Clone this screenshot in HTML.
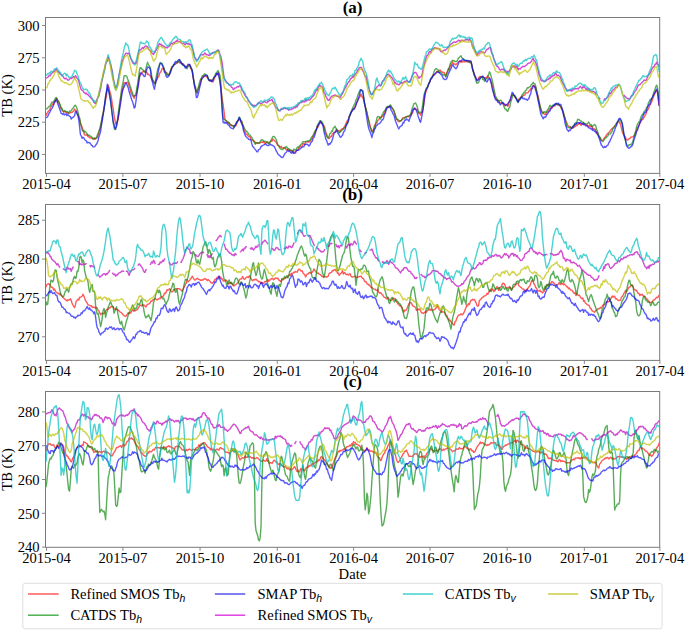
<!DOCTYPE html><html><head><meta charset="utf-8"><style>html,body{margin:0;padding:0;background:#fff;overflow:hidden;width:685px;height:631px;}svg{display:block;}text{font-family:"Liberation Serif",serif;fill:#000;}</style></head><body>
<svg width="685" height="631" viewBox="0 0 685 631">
<rect width="685" height="631" fill="#fff"/>
<defs><clipPath id="ca"><rect x="45.5" y="17.5" width="614.2" height="155.9"/></clipPath><clipPath id="cb"><rect x="45.5" y="204.5" width="614.2" height="155.9"/></clipPath><clipPath id="cc"><rect x="45.5" y="391.5" width="614.2" height="155.8"/></clipPath></defs>
<path d="M46.0,115.9 L46.8,113.5 L47.7,112.3 L48.5,110.9 L49.4,110.5 L50.2,108.5 L51.0,106.9 L51.9,105.3 L52.7,103.9 L53.6,104.4 L54.4,101.5 L55.2,101.4 L56.1,99.0 L56.9,98.4 L57.8,102.2 L58.6,101.0 L59.4,105.2 L60.3,106.5 L61.1,108.7 L62.0,110.1 L62.8,110.8 L63.6,112.0 L64.5,111.8 L65.3,111.5 L66.2,112.6 L67.0,112.4 L67.8,113.2 L68.7,113.0 L69.5,113.2 L70.4,112.7 L71.2,112.4 L72.0,112.6 L72.9,111.5 L73.7,111.2 L74.6,109.1 L75.4,110.1 L76.2,110.8 L77.1,112.7 L77.9,114.6 L78.8,117.7 L79.6,119.5 L80.4,123.0 L81.3,125.7 L82.1,126.8 L83.0,130.5 L83.8,132.6 L84.6,134.9 L85.5,135.0 L86.3,135.0 L87.2,134.7 L88.0,136.8 L88.8,136.3 L89.7,137.8 L90.5,137.8 L91.4,138.1 L92.2,138.3 L93.0,139.1 L93.9,137.9 L94.7,139.4 L95.6,138.5 L96.4,138.3 L97.2,137.7 L98.1,135.5 L98.9,132.1 L99.8,129.3 L100.6,126.9 L101.4,123.0 L102.3,116.6 L103.1,113.3 L104.0,108.4 L104.8,104.4 L105.6,100.1 L106.5,95.7 L107.3,89.0 L108.2,85.1 L109.0,87.6 L109.8,91.5 L110.7,94.3 L111.5,98.6 L112.4,104.7 L113.2,108.7 L114.0,115.1 L114.9,119.9 L115.7,124.2 L116.6,123.2 L117.4,122.0 L118.2,118.9 L119.1,111.6 L119.9,104.8 L120.8,97.8 L121.6,93.0 L122.4,90.2 L123.3,86.4 L124.1,82.8 L125.0,82.6 L125.8,82.7 L126.6,82.8 L127.5,82.1 L128.3,83.2 L129.2,86.2 L130.0,88.2 L130.8,92.1 L131.7,93.9 L132.5,95.6 L133.4,96.5 L134.2,98.4 L135.0,95.5 L135.9,95.4 L136.7,92.6 L137.6,87.7 L138.4,82.2 L139.2,76.8 L140.1,75.6 L140.9,74.1 L141.8,72.1 L142.6,72.2 L143.4,71.3 L144.3,71.3 L145.1,71.0 L146.0,72.5 L146.8,72.0 L147.6,74.5 L148.5,74.0 L149.3,75.2 L150.2,75.9 L151.0,77.5 L151.8,78.6 L152.7,81.1 L153.5,81.6 L154.4,82.9 L155.2,83.7 L156.0,80.4 L156.9,79.7 L157.7,77.5 L158.6,77.0 L159.4,74.0 L160.2,72.4 L161.1,71.5 L161.9,68.9 L162.8,68.3 L163.6,68.0 L164.4,70.1 L165.3,72.3 L166.1,72.4 L167.0,73.1 L167.8,74.7 L168.6,75.2 L169.5,73.3 L170.3,71.0 L171.2,68.9 L172.0,66.9 L172.8,66.3 L173.7,64.8 L174.5,64.4 L175.4,64.2 L176.2,63.2 L177.0,63.2 L177.9,61.7 L178.7,61.6 L179.6,62.7 L180.4,62.9 L181.2,62.2 L182.1,64.3 L182.9,63.4 L183.8,64.9 L184.6,65.8 L185.4,66.4 L186.3,66.7 L187.1,66.4 L188.0,66.1 L188.8,64.8 L189.6,64.8 L190.5,68.2 L191.3,69.2 L192.2,71.5 L193.0,76.3 L193.8,81.2 L194.7,86.3 L195.5,89.0 L196.4,91.1 L197.2,93.2 L198.0,88.6 L198.9,87.0 L199.7,85.3 L200.6,82.0 L201.4,78.1 L202.2,78.0 L203.1,76.6 L203.9,76.7 L204.8,76.0 L205.6,75.6 L206.4,76.8 L207.3,76.5 L208.1,78.4 L209.0,80.5 L209.8,79.7 L210.6,80.2 L211.5,79.9 L212.3,81.9 L213.2,81.9 L214.0,79.5 L214.8,77.3 L215.7,75.1 L216.5,74.9 L217.4,74.4 L218.2,72.5 L219.0,74.9 L219.9,80.9 L220.7,86.8 L221.6,94.1 L222.4,100.0 L223.2,105.3 L224.1,111.9 L224.9,119.1 L225.8,120.7 L226.6,121.8 L227.4,122.1 L228.3,123.5 L229.1,122.5 L230.0,125.2 L230.8,124.6 L231.6,125.6 L232.5,125.5 L233.3,125.7 L234.2,125.8 L235.0,125.6 L235.8,126.1 L236.7,123.7 L237.5,120.9 L238.4,120.7 L239.2,118.6 L240.0,119.6 L240.9,121.3 L241.7,121.0 L242.6,125.0 L243.4,126.5 L244.2,130.6 L245.1,131.8 L245.9,133.6 L246.8,134.4 L247.6,135.1 L248.4,136.6 L249.3,136.5 L250.1,136.8 L251.0,139.3 L251.8,140.1 L252.6,140.3 L253.5,141.0 L254.3,141.2 L255.2,142.5 L256.0,143.5 L256.8,142.9 L257.7,142.7 L258.5,143.1 L259.4,142.8 L260.2,142.9 L261.0,142.3 L261.9,141.8 L262.7,142.5 L263.6,141.3 L264.4,143.1 L265.2,143.7 L266.1,142.5 L266.9,142.0 L267.8,142.9 L268.6,143.2 L269.4,142.3 L270.3,141.9 L271.1,141.0 L272.0,141.3 L272.8,139.1 L273.6,139.8 L274.5,140.5 L275.3,141.7 L276.2,142.1 L277.0,144.1 L277.8,145.1 L278.7,145.6 L279.5,147.1 L280.4,147.3 L281.2,146.3 L282.0,147.9 L282.9,148.0 L283.7,147.8 L284.6,148.2 L285.4,148.5 L286.2,149.8 L287.1,149.5 L287.9,150.1 L288.8,149.7 L289.6,150.3 L290.4,150.8 L291.3,150.6 L292.1,150.5 L293.0,151.1 L293.8,152.7 L294.6,152.5 L295.5,151.2 L296.3,150.6 L297.2,150.4 L298.0,149.6 L298.8,148.4 L299.7,147.0 L300.5,146.1 L301.4,146.9 L302.2,146.0 L303.0,143.9 L303.9,143.4 L304.7,144.4 L305.6,142.0 L306.4,142.1 L307.2,141.9 L308.1,141.5 L308.9,142.3 L309.8,141.5 L310.6,140.4 L311.4,139.6 L312.3,138.2 L313.1,136.3 L314.0,134.9 L314.8,133.3 L315.6,131.4 L316.5,129.0 L317.3,126.4 L318.2,126.8 L319.0,124.8 L319.8,123.2 L320.7,121.5 L321.5,123.1 L322.4,123.6 L323.2,125.1 L324.0,126.0 L324.9,127.9 L325.7,131.7 L326.6,133.9 L327.4,136.2 L328.2,137.6 L329.1,138.8 L329.9,137.5 L330.8,136.3 L331.6,136.5 L332.4,134.1 L333.3,133.1 L334.1,132.1 L335.0,132.1 L335.8,130.5 L336.6,129.1 L337.5,130.2 L338.3,130.8 L339.2,130.7 L340.0,131.7 L340.8,130.2 L341.7,129.0 L342.5,128.8 L343.4,128.3 L344.2,127.0 L345.0,125.7 L345.9,124.1 L346.7,121.5 L347.6,120.4 L348.4,119.0 L349.2,116.5 L350.1,114.8 L350.9,113.3 L351.8,110.6 L352.6,109.1 L353.4,109.2 L354.3,107.7 L355.1,106.8 L356.0,103.9 L356.8,102.9 L357.6,100.5 L358.5,98.8 L359.3,97.6 L360.2,96.3 L361.0,94.0 L361.8,96.5 L362.7,97.5 L363.5,99.5 L364.4,103.4 L365.2,106.7 L366.0,109.2 L366.9,112.7 L367.7,116.4 L368.6,119.7 L369.4,122.4 L370.2,126.1 L371.1,129.0 L371.9,131.3 L372.8,130.5 L373.6,129.0 L374.4,125.7 L375.3,124.4 L376.1,123.1 L377.0,122.5 L377.8,120.5 L378.6,119.6 L379.5,118.3 L380.3,117.1 L381.2,117.3 L382.0,116.6 L382.8,116.1 L383.7,114.4 L384.5,112.8 L385.4,110.5 L386.2,108.9 L387.0,107.6 L387.9,107.6 L388.7,107.0 L389.6,106.7 L390.4,105.8 L391.2,106.5 L392.1,108.4 L392.9,109.2 L393.8,111.0 L394.6,112.8 L395.4,116.3 L396.3,119.0 L397.1,119.6 L398.0,121.0 L398.8,121.8 L399.6,121.5 L400.5,120.7 L401.3,120.8 L402.2,119.0 L403.0,117.6 L403.8,117.6 L404.7,117.4 L405.5,116.9 L406.4,116.9 L407.2,116.6 L408.0,116.5 L408.9,116.8 L409.7,115.7 L410.6,115.3 L411.4,113.9 L412.2,113.5 L413.1,111.5 L413.9,108.3 L414.8,109.1 L415.6,109.2 L416.4,109.4 L417.3,109.8 L418.1,111.9 L419.0,113.3 L419.8,113.4 L420.6,115.2 L421.5,112.7 L422.3,111.9 L423.2,107.9 L424.0,102.3 L424.8,97.4 L425.7,92.2 L426.5,90.4 L427.4,87.6 L428.2,85.2 L429.0,83.6 L429.9,81.6 L430.7,79.3 L431.6,77.9 L432.4,76.2 L433.2,74.9 L434.1,75.0 L434.9,74.4 L435.8,73.6 L436.6,71.5 L437.4,71.7 L438.3,71.5 L439.1,71.2 L440.0,69.9 L440.8,71.3 L441.6,71.5 L442.5,72.1 L443.3,72.6 L444.2,72.5 L445.0,74.6 L445.8,75.9 L446.7,73.0 L447.5,71.2 L448.4,68.5 L449.2,69.3 L450.0,66.9 L450.9,65.1 L451.7,63.8 L452.6,61.8 L453.4,64.5 L454.2,63.9 L455.1,64.2 L455.9,64.9 L456.8,63.7 L457.6,62.7 L458.4,61.6 L459.3,61.3 L460.1,60.7 L461.0,62.4 L461.8,61.2 L462.6,62.0 L463.5,61.1 L464.3,61.9 L465.2,61.1 L466.0,61.7 L466.8,60.9 L467.7,61.9 L468.5,60.9 L469.4,62.8 L470.2,61.0 L471.0,61.5 L471.9,65.2 L472.7,70.3 L473.6,72.0 L474.4,74.0 L475.2,76.6 L476.1,78.8 L476.9,79.6 L477.8,79.8 L478.6,78.4 L479.4,76.6 L480.3,76.8 L481.1,76.5 L482.0,76.9 L482.8,77.2 L483.6,77.2 L484.5,78.2 L485.3,77.8 L486.2,77.8 L487.0,76.7 L487.8,75.9 L488.7,77.6 L489.5,78.1 L490.4,81.2 L491.2,82.7 L492.0,84.7 L492.9,89.1 L493.7,92.5 L494.6,96.8 L495.4,97.5 L496.2,98.8 L497.1,100.1 L497.9,100.8 L498.8,100.6 L499.6,102.5 L500.4,102.7 L501.3,102.7 L502.1,103.5 L503.0,103.8 L503.8,103.8 L504.6,105.3 L505.5,105.8 L506.3,105.1 L507.2,105.1 L508.0,106.4 L508.8,103.1 L509.7,100.8 L510.5,100.1 L511.4,96.5 L512.2,95.1 L513.0,94.5 L513.9,95.2 L514.7,97.1 L515.6,97.5 L516.4,99.1 L517.2,99.8 L518.1,101.5 L518.9,99.1 L519.8,98.3 L520.6,98.2 L521.4,96.3 L522.3,96.7 L523.1,95.6 L524.0,95.3 L524.8,94.9 L525.6,92.9 L526.5,92.9 L527.3,93.0 L528.2,92.4 L529.0,90.9 L529.8,90.6 L530.7,88.6 L531.5,88.5 L532.4,86.3 L533.2,85.8 L534.0,85.5 L534.9,87.3 L535.7,87.3 L536.6,90.6 L537.4,94.3 L538.2,96.5 L539.1,100.8 L539.9,105.9 L540.8,109.0 L541.6,111.0 L542.4,112.7 L543.3,112.2 L544.1,114.1 L545.0,114.5 L545.8,114.2 L546.6,112.4 L547.5,112.1 L548.3,111.0 L549.2,110.2 L550.0,108.6 L550.8,108.0 L551.7,108.6 L552.5,106.9 L553.4,106.3 L554.2,105.5 L555.0,106.0 L555.9,104.4 L556.7,104.1 L557.6,104.9 L558.4,104.9 L559.2,105.3 L560.1,105.9 L560.9,107.7 L561.8,109.6 L562.6,110.5 L563.4,112.7 L564.3,115.7 L565.1,118.6 L566.0,121.9 L566.8,122.7 L567.6,125.3 L568.5,126.1 L569.3,126.6 L570.2,126.7 L571.0,128.0 L571.8,128.3 L572.7,127.9 L573.5,127.8 L574.4,126.1 L575.2,126.6 L576.0,124.9 L576.9,125.8 L577.7,124.2 L578.6,124.4 L579.4,122.8 L580.2,123.6 L581.1,125.5 L581.9,123.8 L582.8,124.1 L583.6,124.6 L584.4,123.9 L585.3,124.1 L586.1,124.6 L587.0,125.4 L587.8,125.3 L588.6,126.4 L589.5,125.7 L590.3,126.7 L591.2,126.0 L592.0,126.6 L592.8,128.7 L593.7,128.4 L594.5,129.4 L595.4,129.1 L596.2,133.2 L597.0,132.1 L597.9,134.1 L598.7,135.7 L599.6,137.2 L600.4,139.1 L601.2,140.1 L602.1,140.5 L602.9,140.1 L603.8,138.9 L604.6,137.5 L605.4,136.9 L606.3,135.4 L607.1,134.1 L608.0,133.4 L608.8,132.4 L609.6,132.0 L610.5,130.1 L611.3,129.6 L612.2,128.1 L613.0,127.9 L613.8,127.1 L614.7,126.3 L615.5,124.7 L616.4,123.2 L617.2,122.5 L618.0,122.0 L618.9,120.8 L619.7,123.0 L620.6,124.4 L621.4,128.0 L622.2,131.4 L623.1,133.7 L623.9,135.1 L624.8,136.5 L625.6,137.5 L626.4,139.5 L627.3,140.1 L628.1,139.6 L629.0,138.7 L629.8,138.6 L630.6,137.3 L631.5,137.2 L632.3,136.9 L633.2,136.6 L634.0,135.9 L634.8,134.9 L635.7,132.4 L636.5,130.6 L637.4,128.0 L638.2,126.8 L639.0,125.4 L639.9,122.7 L640.7,122.0 L641.6,120.1 L642.4,119.7 L643.2,118.9 L644.1,117.2 L644.9,115.5 L645.8,114.2 L646.6,111.9 L647.4,110.2 L648.3,109.1 L649.1,107.2 L650.0,104.7 L650.8,103.4 L651.6,102.0 L652.5,99.4 L653.3,97.2 L654.2,95.0 L655.0,92.9 L655.8,90.7 L656.7,90.8 L657.5,92.8 L658.4,101.2 L659.2,106.1" fill="none" stroke="rgba(255,0,0,0.65)" stroke-width="1.4" stroke-linejoin="round" clip-path="url(#ca)"/>
<path d="M46.0,109.0 L46.8,108.9 L47.7,108.0 L48.5,106.9 L49.4,106.3 L50.2,105.8 L51.0,103.8 L51.9,102.2 L52.7,102.4 L53.6,101.5 L54.4,100.4 L55.2,98.5 L56.1,97.4 L56.9,98.6 L57.8,100.8 L58.6,101.5 L59.4,103.2 L60.3,104.6 L61.1,108.0 L62.0,108.2 L62.8,110.9 L63.6,111.2 L64.5,110.4 L65.3,111.0 L66.2,111.9 L67.0,111.4 L67.8,112.3 L68.7,113.0 L69.5,111.0 L70.4,111.6 L71.2,110.6 L72.0,109.3 L72.9,108.6 L73.7,107.1 L74.6,105.6 L75.4,105.2 L76.2,106.6 L77.1,108.7 L77.9,111.7 L78.8,115.5 L79.6,117.9 L80.4,122.2 L81.3,126.1 L82.1,129.9 L83.0,131.0 L83.8,130.3 L84.6,132.1 L85.5,131.5 L86.3,132.9 L87.2,133.8 L88.0,135.3 L88.8,135.0 L89.7,135.5 L90.5,136.4 L91.4,136.4 L92.2,138.0 L93.0,139.1 L93.9,138.8 L94.7,138.1 L95.6,138.6 L96.4,137.3 L97.2,135.4 L98.1,133.7 L98.9,131.3 L99.8,129.1 L100.6,124.9 L101.4,121.4 L102.3,116.8 L103.1,113.6 L104.0,108.3 L104.8,102.9 L105.6,96.7 L106.5,91.5 L107.3,89.2 L108.2,89.9 L109.0,91.2 L109.8,95.5 L110.7,102.6 L111.5,108.7 L112.4,115.2 L113.2,122.1 L114.0,127.6 L114.9,129.6 L115.7,127.3 L116.6,125.7 L117.4,121.3 L118.2,113.4 L119.1,106.7 L119.9,101.1 L120.8,95.7 L121.6,88.8 L122.4,85.5 L123.3,81.1 L124.1,75.9 L125.0,75.6 L125.8,75.8 L126.6,76.1 L127.5,78.4 L128.3,80.9 L129.2,82.7 L130.0,85.7 L130.8,87.6 L131.7,91.1 L132.5,92.9 L133.4,96.1 L134.2,95.8 L135.0,95.8 L135.9,94.1 L136.7,88.5 L137.6,83.9 L138.4,78.7 L139.2,72.0 L140.1,67.7 L140.9,67.7 L141.8,69.2 L142.6,69.5 L143.4,70.5 L144.3,72.0 L145.1,72.2 L146.0,68.5 L146.8,64.9 L147.6,62.1 L148.5,64.9 L149.3,65.8 L150.2,67.8 L151.0,71.2 L151.8,76.8 L152.7,79.3 L153.5,81.2 L154.4,84.0 L155.2,82.0 L156.0,77.6 L156.9,73.3 L157.7,69.1 L158.6,67.0 L159.4,64.7 L160.2,62.4 L161.1,63.3 L161.9,63.1 L162.8,65.3 L163.6,66.7 L164.4,69.7 L165.3,71.8 L166.1,72.5 L167.0,75.2 L167.8,75.3 L168.6,74.5 L169.5,73.7 L170.3,71.7 L171.2,68.8 L172.0,66.7 L172.8,66.4 L173.7,64.4 L174.5,64.6 L175.4,63.4 L176.2,62.5 L177.0,62.8 L177.9,61.8 L178.7,61.4 L179.6,59.4 L180.4,61.4 L181.2,61.8 L182.1,64.2 L182.9,65.4 L183.8,65.0 L184.6,66.5 L185.4,66.3 L186.3,67.9 L187.1,68.8 L188.0,66.6 L188.8,66.0 L189.6,65.1 L190.5,66.6 L191.3,68.3 L192.2,70.4 L193.0,74.8 L193.8,80.6 L194.7,84.9 L195.5,86.9 L196.4,91.2 L197.2,92.6 L198.0,89.5 L198.9,84.8 L199.7,82.0 L200.6,79.0 L201.4,79.4 L202.2,75.7 L203.1,76.2 L203.9,74.6 L204.8,73.7 L205.6,75.1 L206.4,75.2 L207.3,75.3 L208.1,78.1 L209.0,80.0 L209.8,80.5 L210.6,80.3 L211.5,81.5 L212.3,79.7 L213.2,78.9 L214.0,76.9 L214.8,76.4 L215.7,73.3 L216.5,73.5 L217.4,71.0 L218.2,70.8 L219.0,72.7 L219.9,74.9 L220.7,80.3 L221.6,96.0 L222.4,109.5 L223.2,118.9 L224.1,119.2 L224.9,119.8 L225.8,120.3 L226.6,120.7 L227.4,122.4 L228.3,122.0 L229.1,123.4 L230.0,124.2 L230.8,124.6 L231.6,125.7 L232.5,125.7 L233.3,125.7 L234.2,127.5 L235.0,125.6 L235.8,123.4 L236.7,121.8 L237.5,120.9 L238.4,119.5 L239.2,117.1 L240.0,117.9 L240.9,120.8 L241.7,121.9 L242.6,123.9 L243.4,125.9 L244.2,128.3 L245.1,129.4 L245.9,130.8 L246.8,131.4 L247.6,132.2 L248.4,133.9 L249.3,134.8 L250.1,135.1 L251.0,136.4 L251.8,137.4 L252.6,139.2 L253.5,140.7 L254.3,142.4 L255.2,144.3 L256.0,142.6 L256.8,142.6 L257.7,143.5 L258.5,142.9 L259.4,143.1 L260.2,141.6 L261.0,140.3 L261.9,139.7 L262.7,140.2 L263.6,140.6 L264.4,141.6 L265.2,141.3 L266.1,141.7 L266.9,142.4 L267.8,142.0 L268.6,144.0 L269.4,143.2 L270.3,141.7 L271.1,140.2 L272.0,138.4 L272.8,136.6 L273.6,136.3 L274.5,136.6 L275.3,138.0 L276.2,139.5 L277.0,141.9 L277.8,144.9 L278.7,145.6 L279.5,146.9 L280.4,149.1 L281.2,149.1 L282.0,149.7 L282.9,149.3 L283.7,148.0 L284.6,147.4 L285.4,148.1 L286.2,146.4 L287.1,147.2 L287.9,149.4 L288.8,148.4 L289.6,150.2 L290.4,149.4 L291.3,150.3 L292.1,150.9 L293.0,152.4 L293.8,149.0 L294.6,149.8 L295.5,149.7 L296.3,149.4 L297.2,147.3 L298.0,147.5 L298.8,146.5 L299.7,145.9 L300.5,144.9 L301.4,144.1 L302.2,143.2 L303.0,141.7 L303.9,141.6 L304.7,141.6 L305.6,141.6 L306.4,141.2 L307.2,141.4 L308.1,140.9 L308.9,140.7 L309.8,140.4 L310.6,139.2 L311.4,137.2 L312.3,136.7 L313.1,135.1 L314.0,133.1 L314.8,131.2 L315.6,130.1 L316.5,129.0 L317.3,125.4 L318.2,124.0 L319.0,122.6 L319.8,120.7 L320.7,120.6 L321.5,121.5 L322.4,122.3 L323.2,124.9 L324.0,127.3 L324.9,132.0 L325.7,133.6 L326.6,136.1 L327.4,137.8 L328.2,138.0 L329.1,136.3 L329.9,133.5 L330.8,133.4 L331.6,131.0 L332.4,131.4 L333.3,127.9 L334.1,127.7 L335.0,126.2 L335.8,127.9 L336.6,129.4 L337.5,130.9 L338.3,131.6 L339.2,133.0 L340.0,132.2 L340.8,131.6 L341.7,130.4 L342.5,129.9 L343.4,129.2 L344.2,127.7 L345.0,127.7 L345.9,125.3 L346.7,123.6 L347.6,123.3 L348.4,120.3 L349.2,116.9 L350.1,115.7 L350.9,112.0 L351.8,111.0 L352.6,108.0 L353.4,106.7 L354.3,104.6 L355.1,103.0 L356.0,99.8 L356.8,99.2 L357.6,96.0 L358.5,93.6 L359.3,91.9 L360.2,89.6 L361.0,90.3 L361.8,90.1 L362.7,90.6 L363.5,95.9 L364.4,102.6 L365.2,106.4 L366.0,108.8 L366.9,112.5 L367.7,115.8 L368.6,120.3 L369.4,125.5 L370.2,127.4 L371.1,129.3 L371.9,132.1 L372.8,132.4 L373.6,130.6 L374.4,128.0 L375.3,125.5 L376.1,121.8 L377.0,117.6 L377.8,116.5 L378.6,116.6 L379.5,117.2 L380.3,119.1 L381.2,117.5 L382.0,115.0 L382.8,113.8 L383.7,111.6 L384.5,111.2 L385.4,109.6 L386.2,107.6 L387.0,106.6 L387.9,106.3 L388.7,106.4 L389.6,106.5 L390.4,104.8 L391.2,106.9 L392.1,107.5 L392.9,109.0 L393.8,110.2 L394.6,113.0 L395.4,114.9 L396.3,117.5 L397.1,119.4 L398.0,119.4 L398.8,120.3 L399.6,120.7 L400.5,120.8 L401.3,120.4 L402.2,119.1 L403.0,118.9 L403.8,118.9 L404.7,118.4 L405.5,117.2 L406.4,117.2 L407.2,116.3 L408.0,116.1 L408.9,115.8 L409.7,115.7 L410.6,113.8 L411.4,111.5 L412.2,108.4 L413.1,106.3 L413.9,103.7 L414.8,103.4 L415.6,103.0 L416.4,104.5 L417.3,107.0 L418.1,110.5 L419.0,113.0 L419.8,112.2 L420.6,112.1 L421.5,112.5 L422.3,107.0 L423.2,100.4 L424.0,94.8 L424.8,92.8 L425.7,90.1 L426.5,87.6 L427.4,87.2 L428.2,85.6 L429.0,82.9 L429.9,81.3 L430.7,78.8 L431.6,77.4 L432.4,76.7 L433.2,74.4 L434.1,71.4 L434.9,69.7 L435.8,68.6 L436.6,68.7 L437.4,69.8 L438.3,70.0 L439.1,72.5 L440.0,72.4 L440.8,72.4 L441.6,73.5 L442.5,74.0 L443.3,75.1 L444.2,74.7 L445.0,75.3 L445.8,77.1 L446.7,73.7 L447.5,71.9 L448.4,70.2 L449.2,67.5 L450.0,64.7 L450.9,62.0 L451.7,61.4 L452.6,60.2 L453.4,60.7 L454.2,60.7 L455.1,61.7 L455.9,61.4 L456.8,61.2 L457.6,59.9 L458.4,58.1 L459.3,57.6 L460.1,56.6 L461.0,55.7 L461.8,57.7 L462.6,58.3 L463.5,58.7 L464.3,60.1 L465.2,60.1 L466.0,60.8 L466.8,60.4 L467.7,61.7 L468.5,61.4 L469.4,61.9 L470.2,62.0 L471.0,62.8 L471.9,66.3 L472.7,69.6 L473.6,73.6 L474.4,75.9 L475.2,77.9 L476.1,81.2 L476.9,83.4 L477.8,82.7 L478.6,82.6 L479.4,80.1 L480.3,78.6 L481.1,77.0 L482.0,76.7 L482.8,79.6 L483.6,79.0 L484.5,81.3 L485.3,79.4 L486.2,78.7 L487.0,78.9 L487.8,76.6 L488.7,74.1 L489.5,71.8 L490.4,73.3 L491.2,76.7 L492.0,79.4 L492.9,83.3 L493.7,87.5 L494.6,91.9 L495.4,95.7 L496.2,97.4 L497.1,99.0 L497.9,99.8 L498.8,101.5 L499.6,100.8 L500.4,100.1 L501.3,100.6 L502.1,102.1 L503.0,102.9 L503.8,106.3 L504.6,108.1 L505.5,109.6 L506.3,109.3 L507.2,111.2 L508.0,111.0 L508.8,108.3 L509.7,107.4 L510.5,102.8 L511.4,100.0 L512.2,97.7 L513.0,94.2 L513.9,95.7 L514.7,95.8 L515.6,96.8 L516.4,98.3 L517.2,100.8 L518.1,102.6 L518.9,99.7 L519.8,99.3 L520.6,97.4 L521.4,97.7 L522.3,94.3 L523.1,94.4 L524.0,92.3 L524.8,92.2 L525.6,90.4 L526.5,90.1 L527.3,87.8 L528.2,88.0 L529.0,87.2 L529.8,87.0 L530.7,85.9 L531.5,84.3 L532.4,83.9 L533.2,82.3 L534.0,83.7 L534.9,83.8 L535.7,86.2 L536.6,90.9 L537.4,94.6 L538.2,99.7 L539.1,102.1 L539.9,105.1 L540.8,108.5 L541.6,111.0 L542.4,113.7 L543.3,113.2 L544.1,112.0 L545.0,111.8 L545.8,112.7 L546.6,111.4 L547.5,109.8 L548.3,109.1 L549.2,107.1 L550.0,105.3 L550.8,106.3 L551.7,106.2 L552.5,105.4 L553.4,105.0 L554.2,104.8 L555.0,104.8 L555.9,103.6 L556.7,104.3 L557.6,104.7 L558.4,104.1 L559.2,104.7 L560.1,105.9 L560.9,107.0 L561.8,107.9 L562.6,110.1 L563.4,112.5 L564.3,116.6 L565.1,118.0 L566.0,122.1 L566.8,126.3 L567.6,127.2 L568.5,127.5 L569.3,128.0 L570.2,127.5 L571.0,127.1 L571.8,128.3 L572.7,126.2 L573.5,125.5 L574.4,125.3 L575.2,122.6 L576.0,124.0 L576.9,121.7 L577.7,119.2 L578.6,119.5 L579.4,119.7 L580.2,120.8 L581.1,121.0 L581.9,122.0 L582.8,122.3 L583.6,122.5 L584.4,123.6 L585.3,123.7 L586.1,123.9 L587.0,123.7 L587.8,123.4 L588.6,122.1 L589.5,123.3 L590.3,125.1 L591.2,124.6 L592.0,126.9 L592.8,125.7 L593.7,125.5 L594.5,124.4 L595.4,125.3 L596.2,127.3 L597.0,130.6 L597.9,132.3 L598.7,135.5 L599.6,137.4 L600.4,137.5 L601.2,140.2 L602.1,141.1 L602.9,141.6 L603.8,140.3 L604.6,139.0 L605.4,138.3 L606.3,137.6 L607.1,136.5 L608.0,135.7 L608.8,133.8 L609.6,134.1 L610.5,133.8 L611.3,132.4 L612.2,131.1 L613.0,128.3 L613.8,128.0 L614.7,125.9 L615.5,125.6 L616.4,124.7 L617.2,122.2 L618.0,121.4 L618.9,120.3 L619.7,119.1 L620.6,120.1 L621.4,122.7 L622.2,123.2 L623.1,130.6 L623.9,134.9 L624.8,138.3 L625.6,141.4 L626.4,143.9 L627.3,145.2 L628.1,146.2 L629.0,144.8 L629.8,145.0 L630.6,144.3 L631.5,144.9 L632.3,142.5 L633.2,139.9 L634.0,137.2 L634.8,133.2 L635.7,131.3 L636.5,127.1 L637.4,124.2 L638.2,123.1 L639.0,122.0 L639.9,120.5 L640.7,117.9 L641.6,115.4 L642.4,114.6 L643.2,113.8 L644.1,111.7 L644.9,110.6 L645.8,110.1 L646.6,107.3 L647.4,106.8 L648.3,103.2 L649.1,102.0 L650.0,99.5 L650.8,99.9 L651.6,98.4 L652.5,97.1 L653.3,93.9 L654.2,91.2 L655.0,89.2 L655.8,86.6 L656.7,85.2 L657.5,87.8 L658.4,93.7 L659.2,99.9" fill="none" stroke="rgba(0,128,0,0.65)" stroke-width="1.4" stroke-linejoin="round" clip-path="url(#ca)"/>
<path d="M46.0,117.6 L46.8,117.4 L47.7,116.6 L48.5,114.6 L49.4,112.8 L50.2,111.6 L51.0,109.6 L51.9,108.6 L52.7,107.2 L53.6,104.9 L54.4,102.4 L55.2,101.7 L56.1,99.5 L56.9,101.1 L57.8,103.8 L58.6,106.1 L59.4,108.2 L60.3,110.7 L61.1,113.3 L62.0,113.6 L62.8,114.4 L63.6,113.3 L64.5,115.0 L65.3,114.4 L66.2,113.7 L67.0,115.7 L67.8,114.6 L68.7,115.4 L69.5,116.4 L70.4,116.5 L71.2,119.0 L72.0,117.9 L72.9,117.5 L73.7,116.7 L74.6,115.6 L75.4,111.9 L76.2,111.4 L77.1,114.4 L77.9,115.3 L78.8,119.9 L79.6,126.6 L80.4,134.5 L81.3,136.0 L82.1,138.3 L83.0,137.3 L83.8,137.9 L84.6,139.5 L85.5,140.3 L86.3,140.9 L87.2,142.9 L88.0,142.2 L88.8,142.8 L89.7,142.7 L90.5,143.6 L91.4,145.2 L92.2,145.4 L93.0,146.9 L93.9,146.9 L94.7,146.6 L95.6,145.3 L96.4,144.3 L97.2,142.9 L98.1,140.4 L98.9,136.9 L99.8,134.3 L100.6,131.6 L101.4,125.7 L102.3,120.7 L103.1,115.7 L104.0,109.5 L104.8,103.1 L105.6,96.4 L106.5,91.3 L107.3,84.2 L108.2,88.5 L109.0,92.5 L109.8,96.8 L110.7,101.4 L111.5,108.5 L112.4,116.0 L113.2,122.2 L114.0,124.2 L114.9,128.2 L115.7,129.3 L116.6,125.6 L117.4,120.5 L118.2,117.2 L119.1,112.4 L119.9,107.5 L120.8,102.2 L121.6,96.4 L122.4,91.8 L123.3,88.5 L124.1,87.2 L125.0,84.7 L125.8,83.2 L126.6,83.7 L127.5,85.9 L128.3,87.9 L129.2,91.8 L130.0,94.2 L130.8,96.7 L131.7,99.7 L132.5,101.6 L133.4,104.5 L134.2,108.1 L135.0,107.3 L135.9,101.7 L136.7,95.4 L137.6,89.5 L138.4,85.5 L139.2,79.6 L140.1,73.0 L140.9,73.1 L141.8,73.9 L142.6,73.9 L143.4,75.5 L144.3,76.6 L145.1,76.3 L146.0,71.7 L146.8,69.6 L147.6,67.0 L148.5,67.1 L149.3,67.7 L150.2,68.7 L151.0,74.8 L151.8,79.8 L152.7,83.0 L153.5,86.4 L154.4,89.3 L155.2,85.2 L156.0,81.9 L156.9,78.5 L157.7,74.3 L158.6,70.0 L159.4,65.9 L160.2,63.4 L161.1,63.4 L161.9,64.4 L162.8,66.4 L163.6,68.6 L164.4,72.1 L165.3,73.3 L166.1,76.2 L167.0,77.4 L167.8,77.0 L168.6,76.3 L169.5,74.7 L170.3,73.1 L171.2,70.6 L172.0,67.7 L172.8,66.6 L173.7,65.3 L174.5,63.2 L175.4,61.5 L176.2,61.7 L177.0,61.8 L177.9,60.5 L178.7,59.8 L179.6,59.8 L180.4,62.1 L181.2,63.4 L182.1,63.7 L182.9,64.8 L183.8,65.1 L184.6,66.5 L185.4,68.1 L186.3,67.6 L187.1,66.0 L188.0,64.2 L188.8,64.6 L189.6,64.3 L190.5,66.3 L191.3,68.2 L192.2,70.4 L193.0,76.5 L193.8,81.3 L194.7,87.1 L195.5,90.4 L196.4,97.6 L197.2,97.4 L198.0,95.1 L198.9,91.4 L199.7,87.3 L200.6,84.2 L201.4,80.1 L202.2,78.4 L203.1,77.4 L203.9,76.3 L204.8,75.9 L205.6,75.1 L206.4,75.2 L207.3,76.0 L208.1,78.7 L209.0,80.0 L209.8,81.1 L210.6,80.6 L211.5,81.3 L212.3,81.1 L213.2,79.3 L214.0,77.5 L214.8,76.6 L215.7,75.9 L216.5,73.3 L217.4,74.6 L218.2,73.2 L219.0,77.1 L219.9,81.4 L220.7,87.7 L221.6,101.3 L222.4,113.9 L223.2,122.7 L224.1,121.9 L224.9,123.3 L225.8,122.4 L226.6,123.1 L227.4,124.1 L228.3,125.0 L229.1,125.5 L230.0,127.0 L230.8,127.9 L231.6,128.2 L232.5,128.4 L233.3,128.9 L234.2,126.2 L235.0,125.4 L235.8,124.3 L236.7,122.7 L237.5,121.4 L238.4,120.1 L239.2,117.5 L240.0,118.6 L240.9,122.0 L241.7,123.9 L242.6,126.1 L243.4,130.4 L244.2,132.5 L245.1,135.2 L245.9,136.6 L246.8,137.6 L247.6,137.9 L248.4,139.1 L249.3,139.7 L250.1,139.4 L251.0,140.4 L251.8,143.7 L252.6,146.2 L253.5,147.2 L254.3,148.4 L255.2,149.4 L256.0,150.4 L256.8,151.7 L257.7,151.9 L258.5,149.7 L259.4,149.3 L260.2,148.7 L261.0,146.6 L261.9,145.9 L262.7,145.4 L263.6,145.1 L264.4,144.6 L265.2,144.4 L266.1,144.0 L266.9,145.4 L267.8,145.6 L268.6,145.5 L269.4,145.0 L270.3,144.0 L271.1,145.0 L272.0,145.0 L272.8,145.6 L273.6,146.0 L274.5,147.0 L275.3,148.7 L276.2,150.9 L277.0,152.1 L277.8,154.0 L278.7,154.7 L279.5,155.6 L280.4,156.0 L281.2,157.2 L282.0,157.5 L282.9,157.3 L283.7,155.9 L284.6,154.1 L285.4,153.0 L286.2,152.5 L287.1,151.0 L287.9,150.4 L288.8,151.5 L289.6,151.0 L290.4,152.1 L291.3,153.2 L292.1,151.7 L293.0,153.1 L293.8,153.3 L294.6,153.2 L295.5,152.9 L296.3,151.0 L297.2,150.1 L298.0,150.4 L298.8,149.9 L299.7,149.2 L300.5,148.3 L301.4,147.8 L302.2,147.2 L303.0,146.9 L303.9,146.7 L304.7,144.6 L305.6,144.5 L306.4,144.2 L307.2,144.3 L308.1,144.9 L308.9,146.0 L309.8,145.3 L310.6,143.2 L311.4,141.9 L312.3,141.2 L313.1,138.4 L314.0,137.4 L314.8,135.2 L315.6,132.4 L316.5,129.1 L317.3,127.6 L318.2,125.3 L319.0,123.7 L319.8,122.4 L320.7,121.3 L321.5,123.4 L322.4,124.1 L323.2,126.8 L324.0,131.9 L324.9,135.3 L325.7,138.8 L326.6,140.5 L327.4,143.0 L328.2,145.2 L329.1,143.6 L329.9,144.3 L330.8,142.7 L331.6,142.0 L332.4,139.2 L333.3,136.2 L334.1,133.1 L335.0,132.6 L335.8,131.4 L336.6,130.6 L337.5,132.3 L338.3,133.9 L339.2,135.2 L340.0,136.9 L340.8,137.3 L341.7,136.1 L342.5,135.2 L343.4,132.7 L344.2,131.2 L345.0,130.1 L345.9,126.3 L346.7,124.9 L347.6,122.8 L348.4,120.9 L349.2,117.4 L350.1,114.3 L350.9,112.9 L351.8,111.4 L352.6,110.6 L353.4,109.0 L354.3,109.3 L355.1,107.4 L356.0,105.3 L356.8,102.3 L357.6,100.9 L358.5,98.1 L359.3,95.5 L360.2,91.7 L361.0,89.5 L361.8,90.9 L362.7,91.1 L363.5,96.6 L364.4,102.1 L365.2,106.5 L366.0,112.5 L366.9,118.4 L367.7,123.7 L368.6,128.0 L369.4,130.4 L370.2,132.0 L371.1,134.8 L371.9,137.5 L372.8,133.6 L373.6,132.5 L374.4,129.1 L375.3,128.6 L376.1,125.8 L377.0,125.3 L377.8,124.0 L378.6,124.0 L379.5,123.5 L380.3,122.8 L381.2,121.4 L382.0,119.8 L382.8,119.9 L383.7,117.7 L384.5,114.5 L385.4,113.1 L386.2,110.1 L387.0,107.9 L387.9,107.1 L388.7,107.2 L389.6,106.2 L390.4,107.7 L391.2,110.3 L392.1,111.6 L392.9,113.8 L393.8,114.8 L394.6,117.6 L395.4,120.8 L396.3,123.0 L397.1,125.1 L398.0,127.5 L398.8,128.9 L399.6,127.3 L400.5,126.3 L401.3,125.8 L402.2,125.2 L403.0,122.4 L403.8,123.0 L404.7,120.1 L405.5,120.4 L406.4,118.9 L407.2,119.6 L408.0,119.9 L408.9,121.3 L409.7,118.7 L410.6,116.7 L411.4,114.6 L412.2,111.3 L413.1,109.4 L413.9,109.3 L414.8,108.0 L415.6,108.9 L416.4,110.8 L417.3,113.1 L418.1,116.2 L419.0,118.4 L419.8,121.3 L420.6,122.2 L421.5,117.8 L422.3,113.8 L423.2,108.6 L424.0,101.4 L424.8,94.1 L425.7,90.3 L426.5,88.7 L427.4,88.0 L428.2,85.1 L429.0,83.2 L429.9,81.7 L430.7,78.7 L431.6,78.8 L432.4,77.0 L433.2,76.0 L434.1,74.7 L434.9,73.8 L435.8,73.0 L436.6,72.1 L437.4,71.8 L438.3,72.5 L439.1,72.4 L440.0,73.5 L440.8,74.3 L441.6,74.8 L442.5,76.6 L443.3,78.6 L444.2,79.3 L445.0,79.5 L445.8,79.6 L446.7,78.7 L447.5,76.6 L448.4,73.5 L449.2,72.4 L450.0,70.3 L450.9,68.9 L451.7,66.2 L452.6,64.9 L453.4,66.0 L454.2,67.1 L455.1,68.0 L455.9,68.7 L456.8,67.7 L457.6,65.8 L458.4,63.8 L459.3,61.5 L460.1,61.0 L461.0,61.1 L461.8,60.4 L462.6,59.2 L463.5,59.7 L464.3,60.3 L465.2,60.4 L466.0,60.4 L466.8,60.8 L467.7,60.4 L468.5,60.7 L469.4,60.8 L470.2,61.1 L471.0,61.3 L471.9,65.2 L472.7,69.3 L473.6,71.8 L474.4,75.1 L475.2,76.2 L476.1,78.2 L476.9,80.8 L477.8,80.5 L478.6,79.1 L479.4,79.0 L480.3,77.7 L481.1,77.3 L482.0,76.9 L482.8,76.1 L483.6,77.4 L484.5,78.0 L485.3,80.0 L486.2,81.3 L487.0,82.0 L487.8,80.2 L488.7,79.2 L489.5,78.3 L490.4,79.3 L491.2,83.2 L492.0,87.7 L492.9,91.0 L493.7,93.8 L494.6,97.1 L495.4,99.3 L496.2,100.2 L497.1,100.2 L497.9,102.4 L498.8,102.5 L499.6,103.5 L500.4,105.0 L501.3,103.5 L502.1,103.2 L503.0,102.6 L503.8,103.5 L504.6,104.1 L505.5,105.3 L506.3,104.4 L507.2,105.1 L508.0,103.2 L508.8,102.2 L509.7,101.0 L510.5,98.4 L511.4,95.2 L512.2,92.3 L513.0,93.1 L513.9,95.2 L514.7,95.7 L515.6,98.0 L516.4,99.0 L517.2,101.0 L518.1,102.1 L518.9,100.7 L519.8,100.0 L520.6,98.6 L521.4,97.1 L522.3,97.3 L523.1,98.8 L524.0,98.3 L524.8,99.1 L525.6,99.2 L526.5,99.2 L527.3,100.2 L528.2,99.3 L529.0,98.5 L529.8,95.5 L530.7,93.8 L531.5,89.5 L532.4,88.5 L533.2,85.6 L534.0,86.1 L534.9,87.0 L535.7,90.5 L536.6,93.3 L537.4,96.9 L538.2,100.8 L539.1,105.4 L539.9,109.3 L540.8,114.0 L541.6,115.7 L542.4,117.2 L543.3,118.8 L544.1,116.9 L545.0,117.3 L545.8,116.9 L546.6,114.8 L547.5,114.2 L548.3,112.5 L549.2,111.3 L550.0,111.1 L550.8,108.6 L551.7,107.1 L552.5,106.9 L553.4,105.7 L554.2,105.5 L555.0,103.8 L555.9,104.0 L556.7,103.3 L557.6,103.7 L558.4,103.2 L559.2,105.0 L560.1,104.3 L560.9,104.7 L561.8,107.6 L562.6,111.0 L563.4,114.8 L564.3,118.4 L565.1,123.7 L566.0,126.2 L566.8,129.1 L567.6,130.2 L568.5,131.4 L569.3,130.1 L570.2,130.5 L571.0,128.9 L571.8,128.1 L572.7,126.8 L573.5,127.2 L574.4,124.2 L575.2,124.4 L576.0,124.1 L576.9,122.8 L577.7,123.0 L578.6,122.8 L579.4,123.3 L580.2,122.5 L581.1,123.3 L581.9,123.4 L582.8,124.2 L583.6,123.0 L584.4,124.9 L585.3,125.2 L586.1,126.1 L587.0,125.5 L587.8,126.8 L588.6,127.7 L589.5,127.9 L590.3,128.4 L591.2,129.4 L592.0,128.4 L592.8,130.6 L593.7,129.8 L594.5,131.5 L595.4,131.3 L596.2,132.0 L597.0,133.7 L597.9,134.9 L598.7,137.0 L599.6,139.6 L600.4,142.0 L601.2,144.8 L602.1,145.8 L602.9,147.4 L603.8,147.7 L604.6,146.4 L605.4,147.3 L606.3,146.7 L607.1,145.4 L608.0,145.1 L608.8,142.6 L609.6,142.0 L610.5,139.4 L611.3,138.4 L612.2,135.6 L613.0,134.6 L613.8,132.3 L614.7,130.0 L615.5,127.5 L616.4,125.7 L617.2,123.0 L618.0,120.7 L618.9,118.9 L619.7,118.2 L620.6,119.3 L621.4,120.7 L622.2,123.3 L623.1,128.2 L623.9,133.6 L624.8,138.0 L625.6,140.0 L626.4,145.3 L627.3,146.9 L628.1,147.7 L629.0,148.4 L629.8,147.8 L630.6,146.8 L631.5,146.5 L632.3,145.5 L633.2,143.0 L634.0,139.8 L634.8,137.3 L635.7,135.0 L636.5,131.7 L637.4,130.4 L638.2,127.7 L639.0,125.2 L639.9,123.2 L640.7,120.7 L641.6,119.0 L642.4,117.7 L643.2,115.4 L644.1,113.5 L644.9,112.3 L645.8,112.3 L646.6,110.0 L647.4,107.8 L648.3,105.9 L649.1,104.3 L650.0,104.3 L650.8,101.2 L651.6,98.6 L652.5,97.3 L653.3,95.3 L654.2,93.9 L655.0,92.7 L655.8,90.9 L656.7,89.0 L657.5,91.2 L658.4,97.7 L659.2,105.9" fill="none" stroke="rgba(0,0,255,0.65)" stroke-width="1.4" stroke-linejoin="round" clip-path="url(#ca)"/>
<path d="M46.0,78.1 L46.8,77.8 L47.7,77.4 L48.5,76.3 L49.4,75.3 L50.2,75.8 L51.0,74.0 L51.9,73.2 L52.7,72.5 L53.6,71.7 L54.4,71.5 L55.2,70.5 L56.1,69.4 L56.9,70.5 L57.8,71.2 L58.6,72.4 L59.4,72.7 L60.3,74.1 L61.1,74.5 L62.0,75.3 L62.8,75.8 L63.6,77.5 L64.5,78.5 L65.3,78.8 L66.2,78.2 L67.0,79.1 L67.8,80.2 L68.7,80.1 L69.5,79.0 L70.4,78.4 L71.2,78.7 L72.0,77.6 L72.9,77.7 L73.7,76.5 L74.6,77.4 L75.4,75.7 L76.2,76.8 L77.1,78.4 L77.9,79.0 L78.8,80.9 L79.6,84.4 L80.4,87.4 L81.3,89.7 L82.1,90.2 L83.0,90.7 L83.8,92.6 L84.6,92.6 L85.5,93.7 L86.3,93.0 L87.2,94.7 L88.0,94.4 L88.8,95.7 L89.7,96.5 L90.5,97.7 L91.4,98.4 L92.2,99.4 L93.0,100.4 L93.9,102.0 L94.7,103.2 L95.6,103.5 L96.4,101.5 L97.2,98.6 L98.1,97.3 L98.9,96.1 L99.8,92.1 L100.6,89.0 L101.4,83.4 L102.3,79.6 L103.1,75.3 L104.0,71.1 L104.8,67.9 L105.6,64.2 L106.5,62.1 L107.3,61.1 L108.2,56.9 L109.0,60.0 L109.8,62.5 L110.7,64.9 L111.5,68.1 L112.4,71.5 L113.2,77.9 L114.0,82.0 L114.9,85.2 L115.7,87.1 L116.6,87.7 L117.4,85.4 L118.2,79.8 L119.1,75.0 L119.9,71.1 L120.8,68.5 L121.6,64.4 L122.4,60.4 L123.3,59.1 L124.1,56.1 L125.0,54.7 L125.8,53.3 L126.6,53.1 L127.5,53.9 L128.3,53.3 L129.2,53.5 L130.0,56.3 L130.8,58.8 L131.7,60.1 L132.5,62.3 L133.4,63.7 L134.2,63.4 L135.0,63.2 L135.9,63.6 L136.7,61.9 L137.6,57.7 L138.4,53.8 L139.2,50.0 L140.1,50.2 L140.9,49.7 L141.8,48.5 L142.6,47.4 L143.4,48.4 L144.3,47.3 L145.1,46.2 L146.0,45.9 L146.8,46.4 L147.6,46.9 L148.5,48.5 L149.3,49.8 L150.2,50.8 L151.0,51.4 L151.8,53.0 L152.7,53.5 L153.5,54.5 L154.4,52.9 L155.2,50.9 L156.0,50.3 L156.9,48.9 L157.7,47.5 L158.6,45.0 L159.4,43.7 L160.2,44.6 L161.1,44.1 L161.9,46.0 L162.8,45.3 L163.6,46.4 L164.4,46.5 L165.3,47.5 L166.1,47.3 L167.0,48.0 L167.8,47.0 L168.6,46.8 L169.5,46.0 L170.3,44.9 L171.2,43.5 L172.0,43.1 L172.8,44.2 L173.7,42.5 L174.5,43.2 L175.4,41.4 L176.2,41.6 L177.0,40.2 L177.9,41.3 L178.7,41.4 L179.6,41.5 L180.4,42.3 L181.2,42.9 L182.1,43.3 L182.9,43.6 L183.8,43.2 L184.6,44.5 L185.4,44.7 L186.3,43.0 L187.1,43.4 L188.0,44.3 L188.8,43.2 L189.6,44.5 L190.5,44.4 L191.3,45.8 L192.2,48.0 L193.0,50.2 L193.8,54.5 L194.7,57.6 L195.5,58.3 L196.4,59.7 L197.2,60.0 L198.0,59.5 L198.9,57.7 L199.7,56.6 L200.6,54.5 L201.4,54.5 L202.2,55.0 L203.1,55.0 L203.9,54.3 L204.8,53.0 L205.6,53.6 L206.4,54.9 L207.3,54.7 L208.1,54.9 L209.0,55.6 L209.8,55.4 L210.6,53.9 L211.5,53.7 L212.3,52.7 L213.2,52.7 L214.0,52.3 L214.8,52.5 L215.7,52.1 L216.5,50.9 L217.4,51.1 L218.2,49.9 L219.0,51.0 L219.9,54.2 L220.7,56.2 L221.6,59.8 L222.4,64.3 L223.2,71.3 L224.1,78.3 L224.9,79.4 L225.8,81.0 L226.6,81.9 L227.4,83.4 L228.3,83.4 L229.1,84.9 L230.0,85.5 L230.8,86.0 L231.6,87.4 L232.5,87.7 L233.3,89.8 L234.2,88.9 L235.0,88.0 L235.8,88.1 L236.7,87.1 L237.5,86.5 L238.4,87.0 L239.2,85.9 L240.0,85.8 L240.9,86.7 L241.7,90.0 L242.6,90.8 L243.4,91.9 L244.2,93.6 L245.1,95.4 L245.9,96.6 L246.8,97.3 L247.6,99.2 L248.4,100.8 L249.3,101.8 L250.1,102.7 L251.0,103.5 L251.8,105.3 L252.6,104.8 L253.5,106.2 L254.3,105.3 L255.2,105.8 L256.0,105.5 L256.8,104.7 L257.7,103.7 L258.5,102.7 L259.4,102.5 L260.2,103.4 L261.0,104.0 L261.9,102.9 L262.7,102.8 L263.6,101.9 L264.4,101.8 L265.2,101.8 L266.1,102.6 L266.9,102.8 L267.8,101.3 L268.6,101.6 L269.4,100.2 L270.3,100.5 L271.1,100.0 L272.0,99.3 L272.8,101.7 L273.6,102.1 L274.5,104.7 L275.3,106.5 L276.2,107.7 L277.0,107.9 L277.8,109.0 L278.7,110.8 L279.5,110.8 L280.4,110.7 L281.2,108.6 L282.0,109.1 L282.9,109.3 L283.7,108.0 L284.6,107.8 L285.4,108.6 L286.2,108.8 L287.1,108.8 L287.9,109.2 L288.8,110.2 L289.6,109.5 L290.4,109.5 L291.3,109.5 L292.1,108.6 L293.0,108.8 L293.8,108.0 L294.6,107.3 L295.5,107.8 L296.3,106.2 L297.2,106.9 L298.0,104.8 L298.8,104.3 L299.7,102.7 L300.5,102.5 L301.4,102.6 L302.2,101.1 L303.0,102.1 L303.9,101.3 L304.7,102.1 L305.6,99.5 L306.4,101.1 L307.2,100.3 L308.1,99.6 L308.9,100.0 L309.8,100.1 L310.6,98.8 L311.4,98.2 L312.3,96.6 L313.1,96.4 L314.0,95.2 L314.8,93.1 L315.6,91.7 L316.5,89.7 L317.3,90.4 L318.2,87.5 L319.0,86.7 L319.8,85.2 L320.7,86.1 L321.5,86.3 L322.4,87.3 L323.2,89.1 L324.0,93.0 L324.9,93.4 L325.7,96.3 L326.6,97.5 L327.4,99.2 L328.2,100.2 L329.1,100.3 L329.9,98.9 L330.8,97.2 L331.6,96.4 L332.4,95.9 L333.3,95.8 L334.1,95.3 L335.0,95.0 L335.8,95.2 L336.6,96.1 L337.5,96.3 L338.3,96.7 L339.2,96.7 L340.0,97.8 L340.8,96.4 L341.7,94.3 L342.5,93.9 L343.4,91.2 L344.2,89.9 L345.0,88.2 L345.9,86.6 L346.7,85.2 L347.6,83.7 L348.4,81.7 L349.2,81.6 L350.1,79.6 L350.9,78.5 L351.8,78.1 L352.6,76.5 L353.4,77.3 L354.3,75.5 L355.1,74.3 L356.0,73.1 L356.8,72.5 L357.6,70.2 L358.5,69.7 L359.3,67.8 L360.2,67.6 L361.0,67.2 L361.8,68.0 L362.7,70.9 L363.5,71.9 L364.4,74.6 L365.2,76.2 L366.0,76.1 L366.9,80.8 L367.7,84.2 L368.6,86.9 L369.4,90.2 L370.2,92.1 L371.1,94.6 L371.9,93.9 L372.8,93.8 L373.6,91.1 L374.4,91.1 L375.3,89.1 L376.1,88.0 L377.0,86.8 L377.8,86.2 L378.6,85.3 L379.5,84.9 L380.3,85.7 L381.2,84.5 L382.0,82.4 L382.8,80.8 L383.7,80.8 L384.5,78.2 L385.4,77.5 L386.2,75.9 L387.0,74.9 L387.9,74.2 L388.7,74.3 L389.6,75.4 L390.4,76.0 L391.2,77.2 L392.1,77.8 L392.9,79.4 L393.8,80.2 L394.6,83.0 L395.4,82.4 L396.3,83.8 L397.1,84.0 L398.0,84.4 L398.8,84.9 L399.6,84.3 L400.5,83.2 L401.3,82.2 L402.2,83.6 L403.0,82.6 L403.8,82.0 L404.7,81.3 L405.5,81.6 L406.4,80.9 L407.2,80.7 L408.0,81.6 L408.9,82.2 L409.7,81.3 L410.6,79.8 L411.4,77.9 L412.2,75.8 L413.1,74.3 L413.9,72.9 L414.8,72.4 L415.6,72.5 L416.4,73.3 L417.3,75.2 L418.1,76.6 L419.0,78.3 L419.8,76.9 L420.6,77.1 L421.5,76.3 L422.3,73.6 L423.2,68.0 L424.0,66.4 L424.8,62.3 L425.7,59.3 L426.5,56.5 L427.4,55.2 L428.2,54.5 L429.0,52.0 L429.9,51.4 L430.7,52.8 L431.6,49.6 L432.4,48.7 L433.2,49.5 L434.1,48.2 L434.9,47.7 L435.8,47.9 L436.6,48.5 L437.4,48.6 L438.3,48.7 L439.1,48.7 L440.0,50.2 L440.8,51.3 L441.6,51.8 L442.5,51.7 L443.3,50.4 L444.2,50.1 L445.0,50.5 L445.8,49.8 L446.7,49.0 L447.5,47.9 L448.4,47.2 L449.2,46.1 L450.0,45.1 L450.9,44.3 L451.7,43.7 L452.6,43.1 L453.4,42.1 L454.2,41.9 L455.1,42.3 L455.9,42.3 L456.8,41.4 L457.6,41.3 L458.4,40.1 L459.3,40.4 L460.1,41.7 L461.0,40.5 L461.8,40.1 L462.6,40.4 L463.5,41.0 L464.3,40.1 L465.2,40.1 L466.0,39.7 L466.8,39.8 L467.7,39.5 L468.5,40.3 L469.4,38.9 L470.2,40.4 L471.0,40.6 L471.9,44.2 L472.7,46.4 L473.6,48.4 L474.4,49.3 L475.2,51.2 L476.1,53.4 L476.9,55.5 L477.8,53.6 L478.6,53.9 L479.4,52.0 L480.3,52.1 L481.1,51.7 L482.0,52.1 L482.8,52.1 L483.6,52.5 L484.5,53.0 L485.3,52.2 L486.2,50.2 L487.0,49.3 L487.8,49.2 L488.7,48.2 L489.5,47.6 L490.4,47.8 L491.2,51.0 L492.0,53.8 L492.9,55.3 L493.7,58.1 L494.6,60.8 L495.4,63.3 L496.2,65.3 L497.1,66.4 L497.9,66.7 L498.8,68.0 L499.6,69.5 L500.4,70.0 L501.3,69.7 L502.1,69.1 L503.0,69.7 L503.8,68.9 L504.6,71.1 L505.5,70.3 L506.3,71.8 L507.2,72.7 L508.0,71.2 L508.8,71.7 L509.7,70.6 L510.5,69.9 L511.4,68.1 L512.2,66.3 L513.0,67.0 L513.9,65.5 L514.7,67.5 L515.6,66.2 L516.4,67.2 L517.2,66.7 L518.1,69.8 L518.9,68.4 L519.8,69.0 L520.6,68.8 L521.4,67.2 L522.3,67.1 L523.1,66.2 L524.0,66.6 L524.8,66.3 L525.6,65.6 L526.5,65.2 L527.3,64.1 L528.2,63.2 L529.0,63.1 L529.8,63.1 L530.7,62.0 L531.5,61.3 L532.4,59.3 L533.2,58.2 L534.0,60.7 L534.9,61.0 L535.7,62.5 L536.6,65.1 L537.4,67.4 L538.2,70.6 L539.1,75.1 L539.9,76.2 L540.8,79.7 L541.6,80.7 L542.4,80.7 L543.3,81.3 L544.1,81.2 L545.0,81.6 L545.8,81.0 L546.6,80.2 L547.5,79.6 L548.3,79.5 L549.2,78.1 L550.0,78.7 L550.8,76.7 L551.7,77.0 L552.5,76.1 L553.4,75.4 L554.2,75.6 L555.0,73.9 L555.9,73.2 L556.7,75.2 L557.6,75.5 L558.4,75.2 L559.2,76.0 L560.1,76.6 L560.9,78.8 L561.8,81.0 L562.6,82.5 L563.4,84.4 L564.3,85.6 L565.1,87.7 L566.0,88.5 L566.8,89.9 L567.6,90.6 L568.5,90.6 L569.3,89.9 L570.2,90.7 L571.0,90.0 L571.8,91.2 L572.7,89.4 L573.5,89.7 L574.4,89.2 L575.2,88.5 L576.0,88.8 L576.9,88.8 L577.7,88.3 L578.6,88.9 L579.4,87.4 L580.2,86.4 L581.1,87.4 L581.9,88.4 L582.8,86.8 L583.6,87.5 L584.4,86.6 L585.3,88.4 L586.1,89.6 L587.0,88.4 L587.8,90.3 L588.6,88.8 L589.5,89.8 L590.3,91.0 L591.2,91.1 L592.0,91.8 L592.8,91.4 L593.7,91.5 L594.5,92.1 L595.4,92.6 L596.2,95.0 M598.7,97.5 L599.6,98.5 L600.4,99.3 M603.8,100.8 L604.6,98.8 L605.4,98.9 L606.3,98.6 L607.1,97.5 L608.0,96.8 L608.8,95.4 L609.6,92.8 L610.5,93.7 L611.3,92.7 L612.2,90.4 L613.0,89.9 L613.8,89.6 L614.7,88.4 L615.5,87.1 L616.4,87.1 L617.2,87.4 L618.0,85.3 L618.9,84.9 M623.9,94.9 L624.8,96.4 L625.6,96.8 L626.4,97.7 L627.3,98.6 L628.1,98.4 L629.0,99.4 L629.8,99.1 L630.6,97.9 L631.5,95.5 L632.3,95.8 L633.2,94.6 L634.0,92.8 L634.8,91.6 L635.7,90.6 L636.5,89.4 L637.4,87.1 L638.2,85.3 L639.0,84.8 L639.9,84.8 L640.7,83.5 L641.6,83.0 L642.4,82.0 L643.2,81.1 L644.1,80.0 L644.9,80.3 L645.8,80.5 L646.6,79.6 L647.4,77.0 L648.3,75.7 L649.1,74.3 L650.0,73.3 L650.8,71.6 L651.6,69.8 L652.5,67.7 L653.3,66.9 L654.2,66.5 L655.0,64.3 L655.8,64.4 L656.7,62.1 L657.5,64.1 L658.4,65.0 L659.2,66.8" fill="none" stroke="rgba(191,0,191,0.7)" stroke-width="1.4" stroke-linejoin="round" clip-path="url(#ca)"/>
<path d="M46.0,75.8 L46.8,75.0 L47.7,73.6 L48.5,73.8 L49.4,72.7 L50.2,73.3 L51.0,71.2 L51.9,71.7 L52.7,71.6 L53.6,70.6 L54.4,68.9 L55.2,68.8 L56.1,68.5 L56.9,67.7 L57.8,69.7 L58.6,70.8 L59.4,71.3 L60.3,72.7 L61.1,74.2 L62.0,76.1 L62.8,74.9 L63.6,74.0 L64.5,73.2 L65.3,73.1 L66.2,75.8 L67.0,74.0 L67.8,75.4 L68.7,77.3 L69.5,77.2 L70.4,77.1 L71.2,77.3 L72.0,76.5 L72.9,74.2 L73.7,72.8 L74.6,70.2 L75.4,70.9 L76.2,71.2 L77.1,74.0 L77.9,75.7 L78.8,78.9 L79.6,81.2 L80.4,83.5 L81.3,84.3 L82.1,87.3 L83.0,88.5 L83.8,89.4 L84.6,89.6 L85.5,89.2 L86.3,89.3 L87.2,89.9 L88.0,91.5 L88.8,92.9 L89.7,92.9 L90.5,95.9 L91.4,96.9 L92.2,98.6 L93.0,99.8 L93.9,101.9 L94.7,100.6 L95.6,102.4 L96.4,102.7 L97.2,100.2 L98.1,96.4 L98.9,93.3 L99.8,89.6 L100.6,87.0 L101.4,82.3 L102.3,78.6 L103.1,76.1 L104.0,72.8 L104.8,69.8 L105.6,64.3 L106.5,60.7 L107.3,58.1 L108.2,54.7 L109.0,57.6 L109.8,60.2 L110.7,63.9 L111.5,68.1 L112.4,74.7 L113.2,79.3 L114.0,82.3 L114.9,87.5 L115.7,89.8 L116.6,86.6 L117.4,83.0 L118.2,79.6 L119.1,75.6 L119.9,69.5 L120.8,64.4 L121.6,59.8 L122.4,56.5 L123.3,52.9 L124.1,48.3 L125.0,45.6 L125.8,42.8 L126.6,44.7 L127.5,44.6 L128.3,46.8 L129.2,50.6 L130.0,55.4 L130.8,57.6 L131.7,59.7 L132.5,61.4 L133.4,61.8 L134.2,64.2 L135.0,65.0 L135.9,61.3 L136.7,58.9 L137.6,54.9 L138.4,51.6 L139.2,48.1 L140.1,42.6 L140.9,41.9 L141.8,43.2 L142.6,43.1 L143.4,43.2 L144.3,43.9 L145.1,43.6 L146.0,42.4 L146.8,40.9 L147.6,41.7 L148.5,43.0 L149.3,46.8 L150.2,47.3 L151.0,48.8 L151.8,50.3 L152.7,51.2 L153.5,51.9 L154.4,51.9 L155.2,52.2 L156.0,48.1 L156.9,46.7 L157.7,42.8 L158.6,41.1 L159.4,39.6 L160.2,38.6 L161.1,37.5 L161.9,37.9 L162.8,40.3 L163.6,40.9 L164.4,42.6 L165.3,43.7 L166.1,44.6 L167.0,45.8 L167.8,45.8 L168.6,45.5 L169.5,43.8 L170.3,42.6 L171.2,42.2 L172.0,40.9 L172.8,39.5 L173.7,38.5 L174.5,38.1 L175.4,36.4 L176.2,36.5 L177.0,37.6 L177.9,39.1 L178.7,39.2 L179.6,39.4 L180.4,39.7 L181.2,41.4 L182.1,41.6 L182.9,41.6 L183.8,42.0 L184.6,42.3 L185.4,41.6 L186.3,42.9 L187.1,41.5 L188.0,41.3 L188.8,40.2 L189.6,39.7 L190.5,41.1 L191.3,44.2 L192.2,45.1 L193.0,49.7 L193.8,52.9 L194.7,57.3 L195.5,59.2 L196.4,61.6 L197.2,61.2 L198.0,60.1 L198.9,57.5 L199.7,56.1 L200.6,54.9 L201.4,53.3 L202.2,52.0 L203.1,51.4 L203.9,50.9 L204.8,50.3 L205.6,49.8 L206.4,49.5 L207.3,49.0 L208.1,50.5 L209.0,52.1 L209.8,54.2 L210.6,53.4 L211.5,54.0 L212.3,53.4 L213.2,53.0 L214.0,53.1 L214.8,51.9 L215.7,52.5 L216.5,50.9 L217.4,50.2 L218.2,51.5 L219.0,52.2 L219.9,55.1 L220.7,59.0 L221.6,65.0 L222.4,70.8 L223.2,73.6 L224.1,78.0 L224.9,80.4 L225.8,82.1 L226.6,82.1 L227.4,83.3 L228.3,83.9 L229.1,85.1 L230.0,84.7 L230.8,84.5 L231.6,85.0 L232.5,84.2 L233.3,84.6 L234.2,82.4 L235.0,81.9 L235.8,81.7 L236.7,82.1 L237.5,83.2 L238.4,83.2 L239.2,82.9 L240.0,84.3 L240.9,86.2 L241.7,87.6 L242.6,89.9 L243.4,90.9 L244.2,92.4 L245.1,93.2 L245.9,96.8 L246.8,97.1 L247.6,98.3 L248.4,99.8 L249.3,101.2 L250.1,103.0 L251.0,104.7 L251.8,105.0 L252.6,106.1 L253.5,107.3 L254.3,107.0 L255.2,106.7 L256.0,106.0 L256.8,105.1 L257.7,103.3 L258.5,103.9 L259.4,102.4 L260.2,101.5 L261.0,100.7 L261.9,101.3 L262.7,102.1 L263.6,101.5 L264.4,100.0 L265.2,100.5 L266.1,100.4 L266.9,100.3 L267.8,99.7 L268.6,99.6 L269.4,98.7 L270.3,97.9 L271.1,96.9 L272.0,97.0 L272.8,97.6 L273.6,98.2 L274.5,99.9 L275.3,102.9 L276.2,104.5 L277.0,106.7 L277.8,110.1 L278.7,109.7 L279.5,110.8 L280.4,109.7 L281.2,109.5 L282.0,108.0 L282.9,108.7 L283.7,108.4 L284.6,107.4 L285.4,107.6 L286.2,107.7 L287.1,108.5 L287.9,107.4 L288.8,109.4 L289.6,107.5 L290.4,107.7 L291.3,107.7 L292.1,107.1 L293.0,107.1 L293.8,106.6 L294.6,106.3 L295.5,106.4 L296.3,104.8 L297.2,105.7 L298.0,103.0 L298.8,103.3 L299.7,102.8 L300.5,101.5 L301.4,100.4 L302.2,100.4 L303.0,100.8 L303.9,100.4 L304.7,98.9 L305.6,98.1 L306.4,99.9 L307.2,97.8 L308.1,97.4 L308.9,98.9 L309.8,97.5 L310.6,96.3 L311.4,95.9 L312.3,95.8 L313.1,94.0 L314.0,92.3 L314.8,90.1 L315.6,89.4 L316.5,88.9 L317.3,87.3 L318.2,85.9 L319.0,84.6 L319.8,83.4 L320.7,83.5 L321.5,82.2 L322.4,84.2 L323.2,85.6 L324.0,88.1 L324.9,90.4 L325.7,91.6 L326.6,93.8 L327.4,94.3 L328.2,95.3 L329.1,95.8 L329.9,93.6 L330.8,92.1 L331.6,90.0 L332.4,88.2 L333.3,88.1 L334.1,88.8 L335.0,87.2 L335.8,88.3 L336.6,90.2 L337.5,91.7 L338.3,92.6 L339.2,95.0 L340.0,95.2 L340.8,94.9 L341.7,92.9 L342.5,92.7 L343.4,90.7 L344.2,87.9 L345.0,85.7 L345.9,84.2 L346.7,79.9 L347.6,79.4 L348.4,78.3 L349.2,77.7 L350.1,75.5 L350.9,76.0 L351.8,75.7 L352.6,74.1 L353.4,75.8 L354.3,73.2 L355.1,70.3 L356.0,70.4 L356.8,68.2 L357.6,67.6 L358.5,65.3 L359.3,61.4 L360.2,60.5 L361.0,58.2 L361.8,59.8 L362.7,61.1 L363.5,66.3 L364.4,69.9 L365.2,71.2 L366.0,72.9 L366.9,76.0 L367.7,79.4 L368.6,85.4 L369.4,90.6 L370.2,92.2 L371.1,94.1 L371.9,94.9 L372.8,94.1 L373.6,91.9 L374.4,89.7 L375.3,85.1 L376.1,79.8 L377.0,78.0 L377.8,81.1 L378.6,82.3 L379.5,84.9 L380.3,86.0 L381.2,85.6 L382.0,83.8 L382.8,81.6 L383.7,80.1 L384.5,79.4 L385.4,77.1 L386.2,75.0 L387.0,72.7 L387.9,71.2 L388.7,70.1 L389.6,72.1 L390.4,71.1 L391.2,72.6 L392.1,74.1 L392.9,75.7 L393.8,78.0 L394.6,78.9 L395.4,79.7 L396.3,81.0 L397.1,81.5 L398.0,81.9 L398.8,81.1 L399.6,81.9 L400.5,82.8 L401.3,80.8 L402.2,79.6 L403.0,77.5 L403.8,79.1 L404.7,78.4 L405.5,76.5 L406.4,78.6 L407.2,80.2 L408.0,82.1 L408.9,81.9 L409.7,82.4 L410.6,82.1 L411.4,79.0 L412.2,76.2 L413.1,72.0 L413.9,67.7 L414.8,62.1 L415.6,63.8 L416.4,64.6 L417.3,64.1 L418.1,66.5 L419.0,68.1 L419.8,67.9 L420.6,69.0 L421.5,69.3 L422.3,67.2 L423.2,63.6 L424.0,60.7 L424.8,57.2 L425.7,55.0 L426.5,51.7 L427.4,51.3 L428.2,50.7 L429.0,49.1 L429.9,48.9 L430.7,49.5 L431.6,49.4 L432.4,48.2 L433.2,46.4 L434.1,44.9 L434.9,43.7 L435.8,42.2 L436.6,42.5 L437.4,42.7 L438.3,43.6 L439.1,44.4 L440.0,45.8 L440.8,45.7 L441.6,44.6 L442.5,46.0 L443.3,47.5 L444.2,47.3 L445.0,47.5 L445.8,47.4 L446.7,47.3 L447.5,46.6 L448.4,46.8 L449.2,45.3 L450.0,42.2 L450.9,40.8 L451.7,39.5 L452.6,38.2 L453.4,39.1 L454.2,38.5 L455.1,37.9 L455.9,38.3 L456.8,37.2 L457.6,36.8 L458.4,35.1 L459.3,35.0 L460.1,37.2 L461.0,35.6 L461.8,36.9 L462.6,37.1 L463.5,36.5 L464.3,37.7 L465.2,37.0 L466.0,39.2 L466.8,37.9 L467.7,38.1 L468.5,37.4 L469.4,37.1 L470.2,39.0 L471.0,38.0 L471.9,37.9 L472.7,40.6 L473.6,45.2 L474.4,48.2 L475.2,50.4 L476.1,51.5 L476.9,53.0 L477.8,52.3 L478.6,51.2 L479.4,50.7 L480.3,50.0 L481.1,50.3 L482.0,49.3 L482.8,49.4 L483.6,47.9 L484.5,48.9 L485.3,45.7 L486.2,44.4 L487.0,44.3 L487.8,42.7 L488.7,42.6 L489.5,43.4 L490.4,46.9 L491.2,49.0 L492.0,53.2 L492.9,54.6 L493.7,58.9 L494.6,60.9 L495.4,62.3 L496.2,64.3 L497.1,65.0 L497.9,63.9 L498.8,63.2 L499.6,62.9 L500.4,62.3 L501.3,61.5 L502.1,62.5 L503.0,65.2 L503.8,67.9 L504.6,69.7 L505.5,72.1 L506.3,72.5 L507.2,74.2 L508.0,74.7 L508.8,72.8 L509.7,70.4 L510.5,67.9 L511.4,65.3 L512.2,63.9 L513.0,63.5 L513.9,62.9 L514.7,63.3 L515.6,65.1 L516.4,65.2 L517.2,64.3 L518.1,66.3 L518.9,65.7 L519.8,64.0 L520.6,63.2 L521.4,63.2 L522.3,63.1 L523.1,61.3 L524.0,60.5 L524.8,60.9 L525.6,59.3 L526.5,60.6 L527.3,59.1 L528.2,58.6 L529.0,58.3 L529.8,58.4 L530.7,58.3 L531.5,56.6 L532.4,57.0 L533.2,56.8 L534.0,55.1 L534.9,56.9 L535.7,59.9 L536.6,59.8 L537.4,64.2 L538.2,69.0 L539.1,70.9 L539.9,74.7 L540.8,77.0 L541.6,78.8 L542.4,79.9 L543.3,80.5 L544.1,81.9 L545.0,80.6 L545.8,79.9 L546.6,79.0 L547.5,77.1 L548.3,76.6 L549.2,76.1 L550.0,74.9 L550.8,75.5 L551.7,75.1 L552.5,73.9 L553.4,72.6 L554.2,72.8 L555.0,72.3 L555.9,72.2 L556.7,70.7 L557.6,72.4 L558.4,72.4 L559.2,72.5 L560.1,73.7 L560.9,75.6 L561.8,78.1 L562.6,79.0 L563.4,82.6 L564.3,83.8 L565.1,86.6 L566.0,89.3 L566.8,91.1 L567.6,91.3 L568.5,90.2 L569.3,89.6 L570.2,89.6 L571.0,88.8 L571.8,88.3 L572.7,88.0 L573.5,88.7 L574.4,87.7 L575.2,85.9 L576.0,86.5 L576.9,85.8 L577.7,84.6 L578.6,84.2 L579.4,83.1 L580.2,83.2 L581.1,83.5 L581.9,84.9 L582.8,84.4 L583.6,86.5 L584.4,84.8 L585.3,84.8 L586.1,86.1 L587.0,87.2 L587.8,87.1 L588.6,89.5 L589.5,88.7 L590.3,89.8 L591.2,89.4 L592.0,90.0 L592.8,89.9 L593.7,88.0 L594.5,87.8 L595.4,88.2 L596.2,91.3 L597.0,93.7 L597.9,96.0 L598.7,97.7 L599.6,100.1 L600.4,101.7 L601.2,103.9 L602.1,103.1 L602.9,103.1 L603.8,101.0 L604.6,100.4 L605.4,100.0 L606.3,98.4 L607.1,97.0 L608.0,95.1 L608.8,93.3 L609.6,91.5 L610.5,90.5 L611.3,87.9 L612.2,88.4 L613.0,86.4 L613.8,86.1 L614.7,85.9 L615.5,85.1 L616.4,85.3 L617.2,84.7 L618.0,85.1 L618.9,84.1 L619.7,85.0 L620.6,86.8 L621.4,90.5 L622.2,93.3 L623.1,95.3 L623.9,97.5 L624.8,99.3 L625.6,101.7 L626.4,101.2 L627.3,100.9 L628.1,100.4 L629.0,100.1 L629.8,98.5 L630.6,97.0 L631.5,96.5 L632.3,95.1 L633.2,92.7 L634.0,90.5 L634.8,89.2 L635.7,86.7 L636.5,85.7 L637.4,83.4 L638.2,81.8 L639.0,80.1 L639.9,80.3 L640.7,78.6 L641.6,78.3 L642.4,76.5 L643.2,75.5 L644.1,76.5 L644.9,77.0 L645.8,76.5 L646.6,75.9 L647.4,76.5 L648.3,74.4 L649.1,72.5 L650.0,69.8 L650.8,68.7 L651.6,65.9 L652.5,61.7 L653.3,57.1 L654.2,55.4 L655.0,55.3 L655.8,54.4 L656.7,55.2 L657.5,61.5 L658.4,66.7 L659.2,71.9" fill="none" stroke="rgba(0,191,191,0.7)" stroke-width="1.4" stroke-linejoin="round" clip-path="url(#ca)"/>
<path d="M46.2,88.4 L47.1,87.3 L47.9,83.8 L48.8,83.6 L49.6,80.7 L50.4,80.6 L51.3,78.5 L52.1,78.3 L53.0,76.4 L53.8,75.8 L54.6,73.0 L55.5,71.7 L56.3,70.7 L57.2,72.5 L58.0,73.1 L58.8,76.3 L59.7,77.8 L60.5,79.2 L61.4,81.2 L62.2,80.9 L63.0,81.9 L63.9,82.1 L64.7,83.0 L65.6,82.6 L66.4,83.1 L67.2,83.6 L68.1,84.1 L68.9,84.7 L69.8,84.9 L70.6,84.6 L71.4,83.7 L72.3,82.8 L73.1,80.8 L74.0,79.1 L74.8,77.6 L75.6,80.0 L76.5,80.6 L77.3,82.7 L78.2,86.8 L79.0,90.0 L79.8,93.7 L80.7,97.9 L81.5,99.3 L82.4,100.0 L83.2,100.5 L84.0,100.7 L84.9,101.0 L85.7,101.2 L86.6,100.8 L87.4,100.8 L88.2,101.0 L89.1,102.8 L89.9,102.6 L90.8,104.4 L91.6,105.9 L92.4,107.2 L93.3,108.3 L94.1,106.5 L95.0,107.0 L95.8,105.2 L96.6,102.9 L97.5,99.0 L98.3,96.0 L99.2,91.3 L100.0,87.8 L100.8,84.1 L101.7,79.4 L102.5,76.8 L103.4,71.6 L104.2,69.8 L105.0,65.5 L105.9,61.9 L106.7,59.2 L107.6,59.1 L108.4,60.0 L109.2,61.2 L110.1,64.7 L110.9,69.8 L111.8,74.7 L112.6,78.9 L113.4,81.5 L114.3,86.7 L115.1,88.5 L116.0,90.4 L116.8,88.7 L117.6,86.2 L118.5,83.9 L119.3,78.5 L120.2,73.5 L121.0,69.1 L121.8,65.8 L122.7,62.9 L123.5,59.9 L124.4,56.4 L125.2,56.9 L126.0,55.9 L126.9,55.5 L127.7,55.1 L128.6,58.9 L129.4,61.3 L130.2,65.4 L131.1,69.3 L131.9,72.4 L132.8,75.0 L133.6,74.3 L134.4,75.4 L135.3,76.2 L136.1,71.3 L137.0,66.4 L137.8,60.8 L138.6,55.6 L139.5,52.9 L140.3,52.3 L141.2,51.8 L142.0,51.9 L142.8,50.5 L143.7,50.1 L144.5,49.8 L145.4,49.0 L146.2,47.6 L147.0,48.8 L147.9,48.4 L148.7,49.7 L149.6,50.1 L150.4,51.4 L151.2,55.1 L152.1,56.7 L152.9,59.6 L153.8,61.2 L154.6,59.4 L155.4,59.4 L156.3,56.4 L157.1,52.7 L158.0,49.3 L158.8,46.8 L159.6,46.8 L160.5,46.1 L161.3,46.3 L162.2,48.0 L163.0,47.4 L163.8,47.8 L164.7,48.1 L165.5,52.0 L166.4,54.5 L167.2,53.2 L168.0,52.5 L168.9,51.9 L169.7,50.6 L170.6,49.3 L171.4,46.8 L172.2,45.2 L173.1,44.2 L173.9,43.6 L174.8,43.7 L175.6,43.5 L176.4,43.3 L177.3,43.2 L178.1,42.7 L179.0,41.9 L179.8,41.2 L180.6,40.6 L181.5,42.6 L182.3,44.4 L183.2,45.6 L184.0,46.3 L184.8,46.5 L185.7,47.8 L186.5,46.6 L187.4,47.3 L188.2,45.9 L189.0,46.2 L189.9,48.1 L190.7,49.9 L191.6,49.3 L192.4,54.4 L193.2,58.4 L194.1,60.8 L194.9,63.6 L195.8,64.4 L196.6,67.1 L197.4,65.7 L198.3,63.8 L199.1,62.4 L200.0,60.9 L200.8,58.7 L201.6,57.3 L202.5,59.1 L203.3,57.7 L204.2,56.7 L205.0,56.2 L205.8,56.3 L206.7,57.3 L207.5,57.2 L208.4,58.5 L209.2,58.6 L210.0,57.3 L210.9,58.2 L211.7,57.4 L212.6,58.4 L213.4,57.4 L214.2,54.7 L215.1,54.4 L215.9,53.9 L216.8,51.4 L217.6,52.0 L218.4,51.7 L219.3,53.1 L220.1,59.3 L221.0,64.3 L221.8,70.4 L222.6,75.9 L223.5,82.1 L224.3,87.4 L225.2,88.8 L226.0,88.8 L226.8,89.8 L227.7,89.8 L228.5,90.5 L229.4,90.3 L230.2,91.8 L231.0,93.1 L231.9,91.8 L232.7,92.6 L233.6,92.6 L234.4,92.0 L235.2,91.3 L236.1,91.3 L236.9,91.2 L237.8,90.5 L238.6,90.3 L239.4,90.4 L240.3,91.1 L241.1,92.9 L242.0,95.6 L242.8,97.0 L243.6,97.9 L244.5,99.6 L245.3,100.9 L246.2,101.6 L247.0,101.6 L247.8,103.5 L248.7,105.9 L249.5,107.5 L250.4,108.8 L251.2,110.5 L252.0,114.0 L252.9,116.9 L253.7,117.9 L254.6,115.3 L255.4,113.9 L256.2,112.9 L257.1,110.3 L257.9,109.3 L258.8,107.6 L259.6,106.0 L260.4,105.1 L261.3,105.8 L262.1,104.7 L263.0,105.2 L263.8,105.0 L264.6,104.7 L265.5,106.9 L266.3,105.8 L267.2,107.8 L268.0,106.3 L268.8,106.0 L269.7,104.3 L270.5,104.5 L271.4,103.3 L272.2,103.3 L273.0,102.9 L273.9,104.5 L274.7,104.1 L275.6,108.0 L276.4,111.3 L277.2,115.3 L278.1,118.2 L278.9,120.6 L279.8,120.4 L280.6,119.3 L281.4,119.7 L282.3,120.3 L283.1,118.8 L284.0,116.9 L284.8,116.3 L285.6,114.8 L286.5,115.8 L287.3,114.0 L288.2,114.8 L289.0,115.6 L289.8,114.4 L290.7,115.0 L291.5,113.9 L292.4,115.1 L293.2,114.5 L294.0,113.3 L294.9,112.8 L295.7,113.4 L296.6,111.9 L297.4,112.6 L298.2,111.3 L299.1,110.6 L299.9,110.8 L300.8,110.1 L301.6,109.1 L302.4,107.7 L303.3,106.8 L304.1,105.1 L305.0,105.9 L305.8,105.3 L306.6,105.1 L307.5,104.8 L308.3,105.4 L309.2,104.4 L310.0,102.5 L310.8,101.7 L311.7,102.7 L312.5,100.4 L313.4,99.6 L314.2,98.7 L315.0,98.5 L315.9,97.7 L316.7,94.3 L317.6,92.2 L318.4,90.9 L319.2,88.5 L320.1,88.7 L320.9,87.4 L321.8,86.6 L322.6,90.8 L323.4,94.2 L324.3,96.3 L325.1,101.2 L326.0,104.5 L326.8,108.0 L327.6,105.6 L328.5,105.9 L329.3,104.5 L330.2,102.3 L331.0,100.1 L331.8,98.8 L332.7,97.2 L333.5,97.4 L334.4,96.7 L335.2,95.9 L336.0,95.8 L336.9,95.4 L337.7,95.6 L338.6,96.5 L339.4,98.1 L340.2,99.3 L341.1,99.4 L341.9,97.5 L342.8,97.4 L343.6,96.3 L344.4,95.7 L345.3,93.0 L346.1,91.5 L347.0,88.7 L347.8,87.5 L348.6,86.3 L349.5,85.4 L350.3,83.4 L351.2,82.3 L352.0,81.5 L352.8,80.7 L353.7,80.6 L354.5,78.6 L355.4,75.9 L356.2,75.8 L357.0,73.4 L357.9,72.9 L358.7,71.1 L359.6,70.0 L360.4,69.2 L361.2,68.3 L362.1,69.5 L362.9,69.6 L363.8,71.5 L364.6,74.7 L365.4,78.0 L366.3,81.8 L367.1,86.2 L368.0,90.7 L368.8,92.8 L369.6,95.8 L370.5,97.2 L371.3,97.2 L372.2,99.2 L373.0,96.5 L373.8,94.7 L374.7,90.2 L375.5,90.0 L376.4,89.5 L377.2,89.0 L378.0,89.7 L378.9,90.6 L379.7,89.3 L380.6,89.6 L381.4,89.3 L382.2,88.0 L383.1,86.1 L383.9,85.1 L384.8,82.9 L385.6,81.4 L386.4,78.7 L387.3,77.5 L388.1,75.5 L389.0,76.4 L389.8,77.2 L390.6,78.0 L391.5,79.5 L392.3,81.9 L393.2,84.4 L394.0,83.6 L394.8,85.5 L395.7,87.5 L396.5,90.0 L397.4,91.1 L398.2,90.3 L399.0,88.8 L399.9,88.7 L400.7,87.2 L401.6,86.4 L402.4,84.7 L403.2,83.3 L404.1,83.1 L404.9,82.2 L405.8,82.4 L406.6,82.8 L407.4,84.1 L408.3,85.7 L409.1,86.0 L410.0,86.0 L410.8,85.3 L411.6,85.7 L412.5,81.7 L413.3,79.0 L414.2,76.3 L415.0,76.9 L415.8,76.7 L416.7,77.3 L417.5,79.7 L418.4,81.3 L419.2,83.6 L420.0,84.4 L420.9,85.2 L421.7,80.0 L422.6,75.7 L423.4,70.8 L424.2,66.5 L425.1,64.0 L425.9,62.0 L426.8,59.8 L427.6,58.5 L428.4,56.7 L429.3,55.0 L430.1,53.4 L431.0,53.2 L431.8,51.8 L432.6,50.8 L433.5,49.3 L434.3,49.0 L435.2,48.6 L436.0,49.0 L436.8,48.0 L437.7,47.8 L438.5,48.5 L439.4,49.8 L440.2,48.6 L441.0,50.4 L441.9,50.6 L442.7,52.1 L443.6,53.3 L444.4,53.3 L445.2,54.7 L446.1,54.2 L446.9,53.5 L447.8,52.5 L448.6,49.5 L449.4,47.8 L450.3,46.4 L451.1,46.7 L452.0,45.6 L452.8,46.4 L453.6,44.9 L454.5,45.5 L455.3,45.2 L456.2,44.5 L457.0,44.2 L457.8,43.9 L458.7,43.4 L459.5,42.5 L460.4,42.4 L461.2,41.0 L462.0,41.9 L462.9,40.1 L463.7,40.9 L464.6,41.7 L465.4,41.5 L466.2,41.8 L467.1,41.8 L467.9,42.3 L468.8,42.4 L469.6,40.6 L470.4,40.8 L471.3,43.0 L472.1,46.0 L473.0,48.5 L473.8,50.0 L474.6,51.8 L475.5,53.5 L476.3,53.9 L477.2,55.9 L478.0,55.4 L478.8,55.6 L479.7,54.3 L480.5,53.4 L481.4,53.2 L482.2,52.6 L483.0,51.4 L483.9,53.6 L484.7,55.1 L485.6,56.4 L486.4,56.2 L487.2,56.5 L488.1,55.9 L488.9,56.1 L489.8,56.3 L490.6,58.0 L491.4,61.0 L492.3,62.6 L493.1,64.7 L494.0,66.4 L494.8,68.5 L495.6,71.1 L496.5,71.5 L497.3,71.7 L498.2,72.9 L499.0,72.4 L499.8,71.3 L500.7,71.8 L501.5,72.0 L502.4,71.9 L503.2,72.6 L504.0,71.9 L504.9,72.4 L505.7,73.1 L506.6,74.0 L507.4,75.0 L508.2,74.4 L509.1,76.5 L509.9,73.1 L510.8,69.1 L511.6,65.0 L512.4,66.4 L513.3,65.8 L514.1,66.5 L515.0,69.1 L515.8,68.3 L516.6,70.2 L517.5,72.1 L518.3,72.1 L519.2,74.7 L520.0,72.9 L520.8,73.5 L521.7,72.3 L522.5,71.8 L523.4,71.3 L524.2,70.8 L525.0,69.9 L525.9,70.7 L526.7,72.0 L527.6,72.5 L528.4,71.0 L529.2,70.2 L530.1,69.4 L530.9,67.2 L531.8,65.6 L532.6,64.0 L533.4,61.6 L534.3,64.0 L535.1,65.3 L536.0,67.0 L536.8,71.2 L537.6,74.6 L538.5,78.6 L539.3,80.9 L540.2,83.9 L541.0,85.2 L541.8,87.5 L542.7,88.9 L543.5,89.1 L544.4,87.4 L545.2,86.3 L546.0,86.8 L546.9,85.6 L547.7,84.7 L548.6,84.1 L549.4,83.5 L550.2,81.0 L551.1,81.1 L551.9,81.1 L552.8,80.0 L553.6,78.1 L554.4,78.1 L555.3,77.2 L556.1,76.5 L557.0,77.2 L557.8,77.3 L558.6,77.9 L559.5,79.2 L560.3,80.1 L561.2,82.7 L562.0,84.2 L562.8,85.0 L563.7,88.6 L564.5,90.6 L565.4,93.1 L566.2,94.7 L567.0,95.7 L567.9,95.2 L568.7,96.3 L569.6,95.6 L570.4,95.1 L571.2,95.4 L572.1,94.3 L572.9,94.3 L573.8,93.8 L574.6,94.1 L575.4,92.3 L576.3,92.5 L577.1,91.5 L578.0,90.9 L578.8,91.0 L579.6,90.9 L580.5,91.1 L581.3,91.1 L582.2,89.6 L583.0,91.0 L583.8,90.3 L584.7,90.8 L585.5,90.2 L586.4,90.5 L587.2,90.7 L588.0,91.2 L588.9,90.9 L589.7,92.2 L590.6,91.4 L591.4,92.8 L592.2,92.3 L593.1,93.4 L593.9,93.4 L594.8,94.7 L595.6,94.2 L596.4,95.9 L597.3,98.2 L598.1,98.5 L599.0,101.3 L599.8,103.2 L600.6,104.7 L601.5,106.2 L602.3,107.1 L603.2,107.3 L604.0,106.4 L604.8,105.2 L605.7,103.7 L606.5,102.4 L607.4,101.5 L608.2,100.1 L609.0,97.7 L609.9,97.0 L610.7,95.8 L611.6,95.3 L612.4,93.2 L613.2,92.3 L614.1,90.8 L614.9,90.5 L615.8,88.4 L616.6,88.2 L617.4,86.8 L618.3,85.7 L619.1,84.7 L620.0,86.3 L620.8,88.3 L621.6,90.5 L622.5,94.0 L623.3,96.9 L624.2,99.5 L625.0,103.2 L625.8,106.2 L626.7,107.2 L627.5,107.6 L628.4,109.2 L629.2,107.2 L630.0,105.8 L630.9,104.5 L631.7,103.4 L632.6,101.0 L633.4,100.1 L634.2,98.1 L635.1,97.3 L635.9,95.1 L636.8,94.3 L637.6,92.6 L638.4,91.8 L639.3,90.7 L640.1,89.0 L641.0,88.4 L641.8,87.5 L642.6,85.1 L643.5,84.0 L644.3,83.2 L645.2,83.0 L646.0,82.3 L646.8,81.2 L647.7,79.8 L648.5,78.7 L649.4,77.7 L650.2,76.8 L651.0,74.1 L651.9,72.2 L652.7,71.5 L653.6,70.3 L654.4,68.4 L655.2,67.3 L656.1,66.2 L656.9,67.1 L657.8,73.1 L658.6,77.6" fill="none" stroke="rgba(191,191,0,0.7)" stroke-width="1.4" stroke-linejoin="round" clip-path="url(#ca)"/>
<path d="M46.0,287.2 L46.8,284.7 L47.7,284.0 L48.5,283.8 L49.4,284.3 L50.2,284.8 L51.0,287.0 L51.9,287.2 L52.7,287.5 L53.6,290.1 L54.4,288.9 L55.2,290.7 L56.1,292.1 L56.9,292.7 L57.8,293.5 L58.6,293.3 L59.4,294.7 L60.3,293.5 L61.1,295.5 L62.0,295.9 L62.8,297.5 L63.6,298.0 L64.5,298.7 L65.3,299.6 L66.2,300.1 L67.0,300.9 L67.8,299.7 L68.7,300.3 L69.5,299.7 L70.4,298.7 L71.2,300.4 L72.0,303.0 L72.9,305.0 L73.7,306.5 L74.6,307.6 L75.4,304.9 L76.2,301.2 L77.1,300.5 L77.9,299.2 L78.8,300.0 L79.6,297.3 L80.4,297.2 L81.3,296.8 L82.1,296.2 L83.0,294.2 L83.8,295.9 L84.6,298.1 L85.5,300.4 L86.3,301.9 L87.2,303.0 L88.0,304.8 L88.8,305.0 L89.7,305.5 L90.5,305.8 L91.4,305.6 L92.2,307.5 L93.0,307.2 L93.9,307.3 L94.7,307.1 L95.6,308.5 L96.4,307.3 L97.2,307.9 L98.1,310.5 L98.9,311.0 L99.8,312.9 L100.6,314.8 L101.4,313.4 L102.3,313.3 L103.1,313.8 L104.0,313.2 L104.8,313.0 L105.6,310.8 L106.5,309.6 L107.3,309.3 L108.2,309.2 L109.0,307.8 L109.8,308.1 L110.7,306.6 L111.5,306.7 L112.4,306.9 L113.2,306.6 L114.0,308.7 L114.9,309.2 L115.7,309.0 L116.6,309.4 L117.4,309.7 L118.2,310.0 L119.1,311.0 L119.9,311.9 L120.8,312.3 L121.6,313.1 L122.4,313.6 L123.3,315.0 L124.1,315.6 L125.0,316.1 L125.8,316.2 L126.6,315.2 L127.5,313.9 L128.3,312.5 L129.2,313.7 L130.0,313.0 L130.8,313.0 L131.7,310.9 L132.5,309.7 L133.4,311.0 L134.2,310.6 L135.0,311.0 L135.9,309.9 L136.7,310.0 L137.6,309.2 L138.4,307.8 L139.2,306.6 L140.1,305.2 L140.9,305.3 L141.8,306.0 L142.6,304.3 L143.4,305.4 L144.3,305.1 L145.1,306.3 L146.0,306.9 L146.8,305.4 L147.6,304.2 L148.5,304.0 L149.3,303.8 L150.2,302.8 L151.0,300.9 L151.8,301.2 L152.7,300.1 L153.5,299.4 L154.4,299.1 L155.2,298.7 L156.0,299.1 L156.9,299.9 L157.7,299.2 L158.6,299.1 L159.4,298.2 L160.2,298.6 L161.1,297.0 L161.9,296.8 L162.8,296.5 L163.6,295.8 L164.4,293.2 L165.3,293.5 L166.1,292.4 L167.0,289.7 L167.8,290.1 L168.6,289.8 L169.5,288.7 L170.3,289.7 L171.2,291.6 L172.0,292.0 L172.8,291.5 L173.7,289.4 L174.5,290.2 L175.4,288.8 L176.2,288.9 L177.0,288.6 L177.9,288.9 L178.7,288.6 L179.6,288.9 L180.4,289.5 L181.2,290.2 L182.1,291.2 L182.9,289.5 L183.8,287.8 L184.6,286.4 L185.4,284.1 L186.3,283.3 L187.1,279.7 L188.0,281.7 L188.8,281.2 L189.6,280.5 L190.5,278.9 L191.3,278.0 L192.2,276.2 L193.0,277.5 L193.8,278.8 L194.7,280.1 L195.5,279.9 L196.4,278.8 L197.2,278.2 L198.0,279.0 L198.9,279.3 L199.7,279.7 L200.6,280.3 L201.4,280.4 L202.2,279.8 L203.1,280.0 L203.9,279.1 L204.8,278.5 L205.6,279.3 L206.4,279.3 L207.3,280.7 L208.1,279.6 L209.0,280.4 L209.8,281.0 L210.6,282.5 L211.5,282.8 L212.3,283.2 L213.2,282.3 L214.0,281.4 L214.8,279.5 L215.7,279.2 L216.5,278.3 L217.4,277.2 L218.2,277.1 L219.0,276.5 L219.9,278.1 L220.7,277.0 L221.6,279.1 L222.4,278.9 L223.2,281.1 L224.1,280.9 L224.9,281.1 L225.8,280.0 L226.6,280.5 L227.4,281.5 L228.3,284.0 L229.1,283.3 L230.0,283.6 L230.8,282.5 L231.6,283.5 L232.5,284.6 L233.3,285.7 L234.2,285.9 L235.0,284.9 L235.8,284.9 L236.7,283.9 L237.5,283.0 L238.4,282.4 L239.2,280.4 L240.0,279.0 L240.9,279.1 L241.7,278.6 L242.6,276.4 L243.4,278.3 L244.2,279.4 L245.1,278.8 L245.9,277.7 L246.8,276.9 L247.6,277.0 L248.4,277.6 L249.3,275.8 L250.1,276.2 L251.0,278.7 L251.8,280.0 L252.6,280.8 L253.5,279.7 L254.3,279.5 L255.2,279.8 L256.0,279.1 L256.8,280.1 L257.7,280.7 L258.5,281.9 L259.4,281.5 L260.2,282.2 L261.0,283.5 L261.9,282.2 L262.7,283.4 L263.6,283.5 L264.4,282.0 L265.2,281.4 L266.1,281.5 L266.9,281.3 L267.8,279.3 L268.6,281.4 L269.4,280.7 L270.3,279.5 L271.1,279.1 L272.0,278.2 L272.8,278.7 L273.6,279.7 L274.5,279.1 L275.3,277.9 L276.2,278.2 L277.0,278.5 L277.8,278.1 L278.7,280.0 L279.5,280.2 L280.4,281.3 L281.2,281.5 L282.0,279.1 L282.9,279.8 L283.7,279.3 L284.6,278.4 L285.4,277.8 L286.2,277.5 L287.1,277.1 L287.9,276.3 L288.8,275.3 L289.6,274.8 L290.4,275.6 L291.3,273.2 L292.1,274.5 L293.0,273.0 L293.8,272.1 L294.6,272.5 L295.5,271.4 L296.3,271.9 L297.2,272.2 L298.0,270.3 L298.8,269.1 L299.7,269.4 L300.5,270.6 L301.4,271.2 L302.2,270.8 L303.0,273.0 L303.9,274.0 L304.7,274.6 L305.6,277.0 L306.4,275.5 L307.2,274.0 L308.1,274.1 L308.9,272.9 L309.8,272.4 L310.6,273.1 L311.4,272.8 L312.3,272.2 L313.1,270.8 L314.0,268.9 L314.8,270.8 L315.6,270.9 L316.5,272.3 L317.3,273.4 L318.2,272.9 L319.0,274.0 L319.8,274.5 L320.7,274.6 L321.5,276.3 L322.4,276.2 L323.2,277.0 L324.0,276.7 L324.9,276.3 L325.7,276.6 L326.6,277.2 L327.4,276.5 L328.2,276.4 L329.1,273.6 L329.9,273.0 L330.8,272.8 L331.6,272.2 L332.4,270.7 L333.3,270.8 L334.1,269.8 L335.0,269.4 L335.8,270.8 L336.6,270.4 L337.5,273.4 L338.3,272.9 L339.2,275.4 L340.0,274.4 L340.8,273.4 L341.7,272.6 L342.5,270.6 L343.4,274.0 L344.2,272.6 L345.0,272.8 L345.9,274.4 L346.7,274.6 L347.6,274.1 L348.4,275.1 L349.2,274.1 L350.1,273.8 L350.9,276.0 L351.8,276.9 L352.6,277.2 L353.4,276.6 L354.3,276.3 L355.1,276.2 L356.0,277.5 L356.8,277.3 L357.6,277.3 L358.5,276.7 L359.3,276.6 L360.2,276.1 L361.0,276.2 L361.8,277.6 L362.7,278.5 L363.5,278.6 L364.4,281.0 L365.2,281.7 L366.0,281.4 L366.9,283.7 L367.7,284.0 L368.6,285.0 L369.4,284.8 L370.2,286.1 L371.1,287.3 L371.9,287.6 L372.8,288.3 L373.6,288.8 L374.4,289.1 L375.3,289.3 L376.1,290.4 L377.0,290.3 L377.8,289.3 L378.6,292.2 L379.5,293.1 L380.3,292.6 L381.2,293.3 L382.0,294.3 L382.8,295.1 L383.7,296.8 L384.5,297.4 L385.4,297.5 L386.2,298.6 L387.0,298.9 L387.9,297.1 L388.7,298.7 L389.6,300.0 L390.4,300.4 L391.2,300.1 L392.1,300.0 L392.9,298.3 L393.8,298.3 L394.6,298.4 L395.4,299.7 L396.3,301.7 L397.1,302.4 L398.0,304.1 L398.8,304.1 L399.6,305.9 L400.5,305.7 L401.3,307.0 L402.2,307.5 L403.0,310.6 L403.8,312.1 L404.7,310.1 L405.5,310.6 L406.4,309.8 L407.2,307.9 L408.0,305.9 L408.9,304.0 L409.7,302.9 L410.6,302.8 L411.4,302.9 L412.2,305.0 L413.1,306.2 L413.9,306.3 L414.8,307.0 L415.6,307.1 L416.4,310.4 L417.3,309.7 L418.1,309.0 L419.0,309.8 L419.8,309.1 L420.6,310.7 L421.5,312.9 L422.3,312.9 L423.2,313.5 L424.0,312.8 L424.8,312.3 L425.7,311.2 L426.5,312.3 L427.4,310.2 L428.2,309.8 L429.0,310.2 L429.9,308.8 L430.7,310.2 L431.6,309.6 L432.4,310.0 L433.2,310.6 L434.1,309.4 L434.9,309.4 L435.8,308.0 L436.6,307.8 L437.4,304.8 L438.3,307.3 L439.1,309.3 L440.0,310.4 L440.8,311.6 L441.6,312.4 L442.5,311.5 L443.3,312.1 L444.2,312.1 L445.0,313.0 L445.8,314.9 L446.7,315.3 L447.5,317.9 L448.4,318.3 L449.2,320.5 L450.0,320.1 L450.9,321.5 L451.7,323.0 L452.6,323.6 L453.4,324.6 L454.2,325.1 L455.1,321.5 L455.9,321.1 L456.8,318.3 L457.6,316.7 L458.4,315.4 L459.3,315.0 L460.1,314.8 L461.0,313.8 L461.8,314.6 L462.6,314.9 L463.5,313.2 L464.3,312.0 L465.2,309.4 L466.0,307.7 L466.8,304.9 L467.7,305.9 L468.5,303.5 L469.4,304.6 L470.2,302.1 L471.0,300.3 L471.9,300.3 L472.7,299.3 L473.6,299.7 L474.4,299.5 L475.2,301.1 L476.1,302.9 L476.9,305.3 L477.8,306.3 L478.6,305.7 L479.4,300.4 L480.3,299.9 L481.1,299.0 L482.0,297.5 L482.8,297.5 L483.6,296.5 L484.5,295.9 L485.3,295.7 L486.2,295.0 L487.0,293.3 L487.8,294.3 L488.7,292.4 L489.5,290.9 L490.4,289.3 L491.2,291.5 L492.0,289.7 L492.9,289.1 L493.7,291.6 L494.6,290.9 L495.4,289.4 L496.2,287.4 L497.1,286.6 L497.9,287.7 L498.8,290.6 L499.6,288.1 L500.4,287.1 L501.3,286.7 L502.1,284.5 L503.0,283.2 L503.8,283.4 L504.6,284.3 L505.5,286.7 L506.3,287.6 L507.2,288.5 L508.0,287.4 L508.8,287.6 L509.7,286.6 L510.5,288.4 L511.4,289.9 L512.2,288.6 L513.0,287.6 L513.9,286.9 L514.7,285.9 L515.6,285.1 L516.4,283.3 L517.2,283.3 L518.1,283.5 L518.9,285.7 L519.8,286.5 L520.6,287.3 L521.4,287.6 L522.3,288.9 L523.1,288.9 L524.0,289.5 L524.8,290.6 L525.6,291.0 L526.5,289.6 L527.3,289.0 L528.2,287.8 L529.0,286.7 L529.8,286.1 L530.7,283.5 L531.5,281.0 L532.4,280.1 L533.2,281.6 L534.0,283.9 L534.9,285.2 L535.7,287.6 L536.6,288.2 L537.4,290.3 L538.2,291.1 L539.1,291.1 L539.9,290.1 L540.8,291.7 L541.6,291.7 L542.4,293.0 L543.3,292.0 L544.1,291.5 L545.0,288.9 L545.8,287.1 L546.6,285.3 L547.5,285.5 L548.3,284.5 L549.2,284.6 L550.0,283.1 L550.8,283.8 L551.7,281.7 L552.5,281.8 L553.4,282.6 L554.2,283.4 L555.0,284.5 L555.9,285.3 L556.7,284.7 L557.6,284.9 L558.4,283.8 L559.2,282.5 L560.1,284.5 L560.9,284.3 L561.8,283.3 L562.6,283.6 L563.4,284.9 L564.3,283.9 L565.1,284.8 L566.0,285.6 L566.8,286.9 L567.6,286.8 L568.5,288.7 L569.3,287.9 L570.2,289.6 L571.0,290.1 L571.8,290.2 L572.7,291.2 L573.5,292.7 L574.4,293.5 L575.2,292.6 L576.0,295.6 L576.9,293.3 L577.7,295.0 L578.6,295.5 L579.4,295.1 L580.2,296.8 L581.1,298.2 L581.9,298.7 L582.8,297.9 L583.6,301.3 L584.4,300.6 L585.3,302.9 L586.1,303.5 L587.0,304.5 L587.8,305.0 L588.6,305.2 L589.5,306.1 L590.3,308.5 L591.2,308.7 L592.0,310.8 L592.8,311.0 L593.7,311.7 L594.5,312.3 L595.4,311.0 L596.2,310.2 L597.0,310.1 L597.9,308.7 L598.7,308.9 L599.6,308.5 L600.4,307.4 L601.2,308.1 L602.1,306.5 L602.9,305.2 L603.8,304.5 L604.6,304.6 L605.4,303.3 L606.3,302.0 L607.1,301.8 L608.0,301.8 L608.8,301.8 L609.6,300.6 L610.5,299.4 L611.3,297.8 L612.2,296.0 L613.0,297.3 L613.8,296.2 L614.7,296.3 L615.5,298.9 L616.4,298.6 L617.2,299.4 L618.0,300.2 L618.9,300.5 L619.7,300.2 L620.6,300.1 L621.4,297.1 L622.2,296.5 L623.1,295.3 L623.9,293.3 L624.8,292.6 L625.6,290.3 L626.4,292.0 L627.3,290.1 L628.1,288.8 L629.0,287.2 L629.8,287.1 L630.6,286.2 L631.5,285.7 L632.3,285.1 L633.2,287.1 L634.0,289.4 L634.8,289.6 L635.7,290.5 L636.5,290.3 L637.4,292.2 L638.2,293.4 L639.0,293.5 L639.9,295.6 L640.7,294.4 L641.6,294.8 L642.4,294.3 L643.2,296.0 L644.1,296.3 L644.9,296.5 L645.8,297.9 L646.6,299.1 L647.4,299.2 L648.3,300.9 L649.1,301.6 L650.0,302.4 L650.8,302.6 L651.6,302.3 L652.5,301.3 L653.3,300.3 L654.2,300.1 L655.0,299.3 L655.8,298.2 L656.7,297.3 L657.5,297.7 L658.4,296.8 L659.2,294.8" fill="none" stroke="rgba(255,0,0,0.65)" stroke-width="1.4" stroke-linejoin="round" clip-path="url(#cb)"/>
<path d="M46.0,301.4 L46.8,304.8 L47.7,304.1 L48.5,296.4 L49.4,290.4 L50.2,284.0 L51.0,280.3 L51.9,280.5 L52.7,282.1 L53.6,279.9 L54.4,272.6 L55.2,270.0 L56.1,270.2 L56.9,276.0 L57.8,280.8 L58.6,283.7 L59.4,287.6 L60.3,292.5 L61.1,294.9 L62.0,295.9 L62.8,296.7 L63.6,296.6 L64.5,293.8 L65.3,291.3 L66.2,290.4 L67.0,288.4 L67.8,290.4 L68.7,292.2 L69.5,287.8 L70.4,285.4 L71.2,283.7 L72.0,284.5 L72.9,281.3 L73.7,277.9 L74.6,276.3 L75.4,278.5 L76.2,277.8 L77.1,271.2 L77.9,271.6 L78.8,267.5 L79.6,258.3 L80.4,256.1 L81.3,257.5 L82.1,262.8 L83.0,260.0 L83.8,261.3 L84.6,270.7 L85.5,274.3 L86.3,277.9 L87.2,278.9 L88.0,282.0 L88.8,288.4 L89.7,292.3 L90.5,288.8 L91.4,285.5 L92.2,284.6 L93.0,291.4 L93.9,290.8 L94.7,292.1 L95.6,305.5 L96.4,310.5 L97.2,314.1 L98.1,313.2 L98.9,317.3 L99.8,322.1 L100.6,326.6 L101.4,323.4 L102.3,317.6 L103.1,310.7 L104.0,308.4 L104.8,311.4 L105.6,317.4 L106.5,313.0 L107.3,311.2 L108.2,307.1 L109.0,305.3 L109.8,303.2 L110.7,301.7 L111.5,304.4 L112.4,306.3 L113.2,307.3 L114.0,313.2 L114.9,311.0 L115.7,308.9 L116.6,306.8 L117.4,311.0 L118.2,315.9 L119.1,319.4 L119.9,323.2 L120.8,323.9 L121.6,321.1 L122.4,325.3 L123.3,328.1 L124.1,330.1 L125.0,327.1 L125.8,323.7 L126.6,320.5 L127.5,317.9 L128.3,314.6 L129.2,312.9 L130.0,311.1 L130.8,309.1 L131.7,307.6 L132.5,305.0 L133.4,305.8 L134.2,310.2 L135.0,308.3 L135.9,308.6 L136.7,307.8 L137.6,303.1 L138.4,304.6 L139.2,304.5 L140.1,303.2 L140.9,300.1 L141.8,299.2 L142.6,304.8 L143.4,307.6 L144.3,312.7 L145.1,316.1 L146.0,317.8 L146.8,316.4 L147.6,316.6 L148.5,314.7 L149.3,316.6 L150.2,318.4 L151.0,320.8 L151.8,316.4 L152.7,310.4 L153.5,302.8 L154.4,299.8 L155.2,297.0 L156.0,293.7 L156.9,291.5 L157.7,290.2 L158.6,292.7 L159.4,290.1 L160.2,292.4 L161.1,296.6 L161.9,297.7 L162.8,298.8 L163.6,298.1 L164.4,300.1 L165.3,302.5 L166.1,304.4 L167.0,301.8 L167.8,300.7 L168.6,298.2 L169.5,293.8 L170.3,290.5 L171.2,288.8 L172.0,287.0 L172.8,283.3 L173.7,283.6 L174.5,289.2 L175.4,292.2 L176.2,291.8 L177.0,288.9 L177.9,294.6 L178.7,301.4 L179.6,304.4 L180.4,301.1 L181.2,298.3 L182.1,295.1 L182.9,290.6 L183.8,285.8 L184.6,282.7 L185.4,279.3 L186.3,280.0 L187.1,279.4 L188.0,277.3 L188.8,272.9 L189.6,269.7 L190.5,263.8 L191.3,259.9 L192.2,256.7 L193.0,251.5 L193.8,252.3 L194.7,254.9 L195.5,257.2 L196.4,262.3 L197.2,263.1 L198.0,259.9 L198.9,263.1 L199.7,264.2 L200.6,259.6 L201.4,255.8 L202.2,252.0 L203.1,246.9 L203.9,245.2 L204.8,242.8 L205.6,241.8 L206.4,244.0 L207.3,249.3 L208.1,253.9 L209.0,249.5 L209.8,250.5 L210.6,253.7 L211.5,257.6 L212.3,259.0 L213.2,257.3 L214.0,263.7 L214.8,266.9 L215.7,265.7 L216.5,262.5 L217.4,258.3 L218.2,256.3 L219.0,255.4 L219.9,253.8 L220.7,255.8 L221.6,261.1 L222.4,269.7 L223.2,274.3 L224.1,279.5 L224.9,279.5 L225.8,281.3 L226.6,285.0 L227.4,284.9 L228.3,282.0 L229.1,280.0 L230.0,282.8 L230.8,283.4 L231.6,282.3 L232.5,284.2 L233.3,285.0 L234.2,282.6 L235.0,279.9 L235.8,278.2 L236.7,278.2 L237.5,279.3 L238.4,282.1 L239.2,284.2 L240.0,284.7 L240.9,281.9 L241.7,282.5 L242.6,284.6 L243.4,287.5 L244.2,290.0 L245.1,294.3 L245.9,298.1 L246.8,295.4 L247.6,289.4 L248.4,288.1 L249.3,282.9 L250.1,279.4 L251.0,273.2 L251.8,269.5 L252.6,264.1 L253.5,262.7 L254.3,268.6 L255.2,272.2 L256.0,275.6 L256.8,272.9 L257.7,269.0 L258.5,262.9 L259.4,269.5 L260.2,274.4 L261.0,277.5 L261.9,279.1 L262.7,278.0 L263.6,272.6 L264.4,269.4 L265.2,272.1 L266.1,275.8 L266.9,280.1 L267.8,284.0 L268.6,286.0 L269.4,288.2 L270.3,292.4 L271.1,294.2 L272.0,287.2 L272.8,282.8 L273.6,283.1 L274.5,286.2 L275.3,290.2 L276.2,293.2 L277.0,296.2 L277.8,290.1 L278.7,285.9 L279.5,284.4 L280.4,286.4 L281.2,282.9 L282.0,278.4 L282.9,278.8 L283.7,278.5 L284.6,276.5 L285.4,278.1 L286.2,276.8 L287.1,275.7 L287.9,277.9 L288.8,276.2 L289.6,271.5 L290.4,271.2 L291.3,269.5 L292.1,268.4 L293.0,266.2 L293.8,265.3 L294.6,264.3 L295.5,260.8 L296.3,259.1 L297.2,255.5 L298.0,253.8 L298.8,251.3 L299.7,249.6 L300.5,247.1 L301.4,246.0 L302.2,247.7 L303.0,250.1 L303.9,254.0 L304.7,256.1 L305.6,254.1 L306.4,255.6 L307.2,260.1 L308.1,263.9 L308.9,265.7 L309.8,268.2 L310.6,268.7 L311.4,273.8 L312.3,277.3 L313.1,278.0 L314.0,277.6 L314.8,278.6 L315.6,279.3 L316.5,272.4 L317.3,268.6 L318.2,263.5 L319.0,259.3 L319.8,260.7 L320.7,261.5 L321.5,265.6 L322.4,272.8 L323.2,274.5 L324.0,277.6 L324.9,273.0 L325.7,267.5 L326.6,261.7 L327.4,255.1 L328.2,247.8 L329.1,243.5 L329.9,239.9 L330.8,236.9 L331.6,236.3 L332.4,234.3 L333.3,235.4 L334.1,239.3 L335.0,248.7 L335.8,258.8 L336.6,265.4 L337.5,270.3 L338.3,270.7 L339.2,268.3 L340.0,265.8 L340.8,262.5 L341.7,259.0 L342.5,255.5 L343.4,254.0 L344.2,252.4 L345.0,249.2 L345.9,242.9 L346.7,238.7 L347.6,236.8 L348.4,238.3 L349.2,244.3 L350.1,251.2 L350.9,257.7 L351.8,262.1 L352.6,266.4 L353.4,266.3 L354.3,268.6 L355.1,275.5 L356.0,285.4 L356.8,279.2 L357.6,274.0 L358.5,269.3 L359.3,270.5 L360.2,270.0 L361.0,269.0 L361.8,269.2 L362.7,268.2 L363.5,265.4 L364.4,265.1 L365.2,266.1 L366.0,268.2 L366.9,271.6 L367.7,271.4 L368.6,271.0 L369.4,277.0 L370.2,279.6 L371.1,282.0 L371.9,288.4 L372.8,292.5 L373.6,293.2 L374.4,295.0 L375.3,296.3 L376.1,296.9 L377.0,295.8 L377.8,289.6 L378.6,286.0 L379.5,282.4 L380.3,279.5 L381.2,278.3 L382.0,276.7 L382.8,278.7 L383.7,283.2 L384.5,289.2 L385.4,291.5 L386.2,295.1 L387.0,297.3 L387.9,298.0 L388.7,301.9 L389.6,303.6 L390.4,301.6 L391.2,298.5 L392.1,297.3 L392.9,298.7 L393.8,300.5 L394.6,302.1 L395.4,299.2 L396.3,299.6 L397.1,301.2 L398.0,301.6 L398.8,303.2 L399.6,303.4 L400.5,304.7 L401.3,306.1 L402.2,309.3 L403.0,311.7 L403.8,315.3 L404.7,318.1 L405.5,318.2 L406.4,318.5 L407.2,315.7 L408.0,312.4 L408.9,307.5 L409.7,302.3 L410.6,295.7 L411.4,290.9 L412.2,288.7 L413.1,286.8 L413.9,287.6 L414.8,292.8 L415.6,297.9 L416.4,302.8 L417.3,309.4 L418.1,316.5 L419.0,326.0 L419.8,331.8 L420.6,337.0 L421.5,338.7 L422.3,335.5 L423.2,332.3 L424.0,328.4 L424.8,320.5 L425.7,311.6 L426.5,307.9 L427.4,307.8 L428.2,308.9 L429.0,307.4 L429.9,303.1 L430.7,304.3 L431.6,307.3 L432.4,311.0 L433.2,312.6 L434.1,315.4 L434.9,317.6 L435.8,319.6 L436.6,320.9 L437.4,322.5 L438.3,318.8 L439.1,316.3 L440.0,313.0 L440.8,312.1 L441.6,310.4 L442.5,307.0 L443.3,305.8 L444.2,308.2 L445.0,313.6 L445.8,315.7 L446.7,316.7 L447.5,318.3 L448.4,320.4 L449.2,322.4 L450.0,325.1 L450.9,329.2 L451.7,324.8 L452.6,318.3 L453.4,315.2 L454.2,312.3 L455.1,308.0 L455.9,302.5 L456.8,296.6 L457.6,292.4 L458.4,287.7 L459.3,291.1 L460.1,295.6 L461.0,298.9 L461.8,304.3 L462.6,301.8 L463.5,296.3 L464.3,299.6 L465.2,301.7 L466.0,304.3 L466.8,295.4 L467.7,290.3 L468.5,286.2 L469.4,283.4 L470.2,279.9 L471.0,278.4 L471.9,276.9 L472.7,279.7 L473.6,281.9 L474.4,285.8 L475.2,282.1 L476.1,278.8 L476.9,278.3 L477.8,280.7 L478.6,282.2 L479.4,278.6 L480.3,279.6 L481.1,281.9 L482.0,284.6 L482.8,287.3 L483.6,287.3 L484.5,283.8 L485.3,283.7 L486.2,282.5 L487.0,282.9 L487.8,287.1 L488.7,289.6 L489.5,291.5 L490.4,291.0 L491.2,290.0 L492.0,287.9 L492.9,284.0 L493.7,285.2 L494.6,287.8 L495.4,289.8 L496.2,288.9 L497.1,288.7 L497.9,288.7 L498.8,287.7 L499.6,287.7 L500.4,290.4 L501.3,289.7 L502.1,287.9 L503.0,286.3 L503.8,287.8 L504.6,289.3 L505.5,287.9 L506.3,288.5 L507.2,290.6 L508.0,291.1 L508.8,288.8 L509.7,287.3 L510.5,287.6 L511.4,290.4 L512.2,289.2 L513.0,285.2 L513.9,284.1 L514.7,284.5 L515.6,284.4 L516.4,281.8 L517.2,281.2 L518.1,281.0 L518.9,283.1 L519.8,280.2 L520.6,279.5 L521.4,280.7 L522.3,279.8 L523.1,279.3 L524.0,279.3 L524.8,282.2 L525.6,283.4 L526.5,283.5 L527.3,280.7 L528.2,281.5 L529.0,281.3 L529.8,279.3 L530.7,276.9 L531.5,277.0 L532.4,279.0 L533.2,281.3 L534.0,280.6 L534.9,275.8 L535.7,275.3 L536.6,276.1 L537.4,278.8 L538.2,285.6 L539.1,287.7 L539.9,286.2 L540.8,281.4 L541.6,283.8 L542.4,287.6 L543.3,290.4 L544.1,289.4 L545.0,286.2 L545.8,289.4 L546.6,284.9 L547.5,284.4 L548.3,286.6 L549.2,282.9 L550.0,279.4 L550.8,275.5 L551.7,274.0 L552.5,274.3 L553.4,271.2 L554.2,275.1 L555.0,277.5 L555.9,278.3 L556.7,276.3 L557.6,276.3 L558.4,278.3 L559.2,280.4 L560.1,280.9 L560.9,283.2 L561.8,280.0 L562.6,279.9 L563.4,282.6 L564.3,281.4 L565.1,278.3 L566.0,274.8 L566.8,270.8 L567.6,269.3 L568.5,271.9 L569.3,279.2 L570.2,281.6 L571.0,281.9 L571.8,279.4 L572.7,280.2 L573.5,282.3 L574.4,285.0 L575.2,287.9 L576.0,291.8 L576.9,294.5 L577.7,289.3 L578.6,284.3 L579.4,280.6 L580.2,277.6 L581.1,275.0 L581.9,270.1 L582.8,273.4 L583.6,277.2 L584.4,282.7 L585.3,289.4 L586.1,295.0 L587.0,295.8 L587.8,299.1 L588.6,301.6 L589.5,297.9 L590.3,296.0 L591.2,294.5 L592.0,296.7 L592.8,299.6 L593.7,302.2 L594.5,304.5 L595.4,306.8 L596.2,309.3 L597.0,311.5 L597.9,313.4 L598.7,315.4 L599.6,318.1 L600.4,318.7 L601.2,314.9 L602.1,309.7 L602.9,308.4 L603.8,305.3 L604.6,301.7 L605.4,298.9 L606.3,297.9 L607.1,294.3 L608.0,297.4 L608.8,297.4 L609.6,297.8 L610.5,301.0 L611.3,303.5 L612.2,308.2 L613.0,309.0 L613.8,312.0 L614.7,312.8 L615.5,316.5 L616.4,316.4 L617.2,315.2 L618.0,310.9 L618.9,308.6 L619.7,307.5 L620.6,306.5 L621.4,303.4 L622.2,300.5 L623.1,299.8 L623.9,297.2 L624.8,297.1 L625.6,294.3 L626.4,291.3 L627.3,287.0 L628.1,283.2 L629.0,280.2 L629.8,280.7 L630.6,285.2 L631.5,284.8 L632.3,285.6 L633.2,287.2 L634.0,293.3 L634.8,297.5 L635.7,301.7 L636.5,309.8 L637.4,314.0 L638.2,315.6 L639.0,315.9 L639.9,314.8 L640.7,311.6 L641.6,306.6 L642.4,300.6 L643.2,297.6 L644.1,296.0 L644.9,298.2 L645.8,300.3 L646.6,300.2 L647.4,302.0 L648.3,302.0 L649.1,302.3 L650.0,303.4 L650.8,305.7 L651.6,304.1 L652.5,301.8 L653.3,302.3 L654.2,305.0 L655.0,305.4 L655.8,305.0 L656.7,304.6 L657.5,302.7 L658.4,302.3 L659.2,301.5" fill="none" stroke="rgba(0,128,0,0.65)" stroke-width="1.4" stroke-linejoin="round" clip-path="url(#cb)"/>
<path d="M46.0,294.9 L46.8,295.7 L47.7,294.1 L48.5,292.8 L49.4,291.3 L50.2,292.7 L51.0,290.4 L51.9,292.4 L52.7,293.5 L53.6,293.3 L54.4,292.6 L55.2,294.1 L56.1,295.3 L56.9,295.5 L57.8,299.4 L58.6,301.7 L59.4,301.6 L60.3,302.9 L61.1,304.7 L62.0,307.3 L62.8,307.1 L63.6,308.2 L64.5,309.4 L65.3,309.4 L66.2,312.5 L67.0,312.2 L67.8,312.9 L68.7,313.1 L69.5,313.5 L70.4,314.4 L71.2,316.0 L72.0,316.4 L72.9,316.2 L73.7,317.5 L74.6,317.2 L75.4,318.4 L76.2,316.9 L77.1,316.7 L77.9,315.2 L78.8,315.7 L79.6,315.4 L80.4,315.1 L81.3,312.8 L82.1,313.5 L83.0,311.4 L83.8,310.7 L84.6,310.7 L85.5,309.5 L86.3,308.0 L87.2,306.6 L88.0,308.4 L88.8,309.3 L89.7,307.8 L90.5,310.0 L91.4,309.9 L92.2,311.0 L93.0,311.8 L93.9,313.7 L94.7,311.9 L95.6,316.9 L96.4,323.7 L97.2,327.7 L98.1,328.9 L98.9,331.9 L99.8,333.5 L100.6,335.0 L101.4,333.6 L102.3,332.8 L103.1,332.6 L104.0,331.4 L104.8,331.2 L105.6,328.3 L106.5,328.0 L107.3,329.3 L108.2,328.9 L109.0,327.9 L109.8,326.9 L110.7,327.5 L111.5,326.9 L112.4,329.2 L113.2,328.8 L114.0,327.8 L114.9,329.6 L115.7,329.6 L116.6,329.1 L117.4,328.3 L118.2,328.4 L119.1,329.9 L119.9,328.8 L120.8,328.7 L121.6,328.6 L122.4,331.0 L123.3,332.8 L124.1,332.9 L125.0,336.0 L125.8,336.5 L126.6,339.5 L127.5,339.5 L128.3,340.7 L129.2,342.0 L130.0,342.5 L130.8,340.8 L131.7,339.9 L132.5,338.5 L133.4,336.7 L134.2,338.6 L135.0,337.8 L135.9,334.2 L136.7,334.3 L137.6,332.1 L138.4,331.8 L139.2,331.7 L140.1,330.4 L140.9,330.9 L141.8,332.5 L142.6,332.2 L143.4,332.2 L144.3,333.3 L145.1,333.2 L146.0,332.5 L146.8,332.6 L147.6,334.9 L148.5,333.8 L149.3,334.7 L150.2,330.8 L151.0,328.0 L151.8,326.6 L152.7,325.1 L153.5,323.7 L154.4,321.6 L155.2,321.7 L156.0,318.3 L156.9,318.7 L157.7,315.7 L158.6,315.3 L159.4,315.3 L160.2,313.3 L161.1,308.7 L161.9,308.0 L162.8,308.8 L163.6,306.4 L164.4,304.7 L165.3,305.5 L166.1,307.8 L167.0,310.6 L167.8,311.8 L168.6,312.3 L169.5,308.8 L170.3,309.5 L171.2,311.6 L172.0,310.8 L172.8,309.1 L173.7,308.8 L174.5,311.6 L175.4,308.0 L176.2,306.9 L177.0,308.6 L177.9,310.9 L178.7,310.5 L179.6,309.4 L180.4,305.5 L181.2,304.6 L182.1,302.8 L182.9,300.6 L183.8,298.8 L184.6,296.9 L185.4,293.2 L186.3,292.2 L187.1,287.7 L188.0,286.4 L188.8,284.8 L189.6,284.5 L190.5,285.4 L191.3,287.1 L192.2,284.2 L193.0,284.0 L193.8,283.6 L194.7,285.5 L195.5,283.4 L196.4,284.2 L197.2,282.6 L198.0,282.3 L198.9,282.1 L199.7,283.7 L200.6,285.1 L201.4,286.9 L202.2,288.0 L203.1,288.6 L203.9,290.2 L204.8,291.4 L205.6,292.8 L206.4,294.4 L207.3,292.5 L208.1,290.6 L209.0,289.6 L209.8,290.8 L210.6,289.1 L211.5,288.5 L212.3,287.0 L213.2,285.9 L214.0,284.1 L214.8,281.9 L215.7,282.6 L216.5,280.3 L217.4,278.6 L218.2,278.7 L219.0,275.9 L219.9,279.0 L220.7,282.0 L221.6,283.8 L222.4,286.1 L223.2,285.2 L224.1,287.7 L224.9,288.3 L225.8,288.4 L226.6,286.3 L227.4,286.0 L228.3,286.3 L229.1,289.0 L230.0,286.2 L230.8,286.1 L231.6,288.9 L232.5,289.3 L233.3,291.6 L234.2,290.7 L235.0,292.8 L235.8,293.7 L236.7,294.0 L237.5,292.4 L238.4,289.4 L239.2,286.4 L240.0,285.8 L240.9,283.6 L241.7,282.8 L242.6,284.6 L243.4,285.4 L244.2,285.1 L245.1,283.5 L245.9,287.9 L246.8,286.1 L247.6,285.6 L248.4,287.5 L249.3,285.8 L250.1,285.3 L251.0,287.8 L251.8,287.7 L252.6,287.6 L253.5,286.0 L254.3,284.4 L255.2,284.2 L256.0,284.8 L256.8,286.0 L257.7,285.8 L258.5,288.5 L259.4,285.9 L260.2,284.3 L261.0,282.6 L261.9,283.0 L262.7,285.7 L263.6,287.4 L264.4,284.8 L265.2,284.5 L266.1,283.4 L266.9,284.6 L267.8,285.9 L268.6,287.9 L269.4,288.4 L270.3,287.0 L271.1,285.4 L272.0,287.2 L272.8,287.0 L273.6,285.8 L274.5,285.2 L275.3,288.6 L276.2,288.3 L277.0,285.4 L277.8,287.9 L278.7,287.4 L279.5,291.3 L280.4,293.8 L281.2,297.0 L282.0,297.2 L282.9,297.8 L283.7,295.5 L284.6,291.3 L285.4,289.4 L286.2,287.4 L287.1,286.5 L287.9,282.9 L288.8,283.6 L289.6,279.0 L290.4,278.1 L291.3,276.7 L292.1,275.2 L293.0,276.4 L293.8,279.8 L294.6,283.8 L295.5,287.3 L296.3,284.9 L297.2,284.9 L298.0,279.0 L298.8,279.2 L299.7,280.3 L300.5,282.2 L301.4,280.9 L302.2,281.9 L303.0,284.9 L303.9,284.3 L304.7,282.7 L305.6,282.4 L306.4,286.6 L307.2,284.1 L308.1,282.5 L308.9,282.9 L309.8,280.2 L310.6,278.8 L311.4,280.7 L312.3,282.2 L313.1,280.7 L314.0,279.4 L314.8,277.5 L315.6,278.2 L316.5,281.2 L317.3,281.3 L318.2,281.5 L319.0,282.5 L319.8,283.2 L320.7,285.8 L321.5,287.2 L322.4,288.6 L323.2,287.8 L324.0,287.5 L324.9,289.0 L325.7,288.5 L326.6,288.3 L327.4,288.6 L328.2,288.8 L329.1,287.6 L329.9,285.9 L330.8,285.0 L331.6,283.2 L332.4,281.1 L333.3,281.3 L334.1,284.1 L335.0,285.2 L335.8,284.1 L336.6,285.9 L337.5,288.6 L338.3,286.7 L339.2,288.2 L340.0,288.1 L340.8,287.6 L341.7,285.4 L342.5,286.7 L343.4,288.6 L344.2,288.7 L345.0,288.2 L345.9,284.9 L346.7,281.5 L347.6,284.4 L348.4,286.3 L349.2,286.9 L350.1,285.2 L350.9,287.8 L351.8,288.9 L352.6,288.2 L353.4,292.6 L354.3,290.5 L355.1,289.1 L356.0,293.2 L356.8,293.3 L357.6,294.4 L358.5,292.0 L359.3,291.7 L360.2,295.7 L361.0,297.2 L361.8,297.4 L362.7,296.0 L363.5,298.7 L364.4,297.7 L365.2,295.8 L366.0,294.9 L366.9,297.8 L367.7,296.7 L368.6,297.1 L369.4,296.6 L370.2,296.0 L371.1,296.6 L371.9,296.1 L372.8,297.8 L373.6,297.4 L374.4,297.6 L375.3,298.3 L376.1,299.5 L377.0,302.7 L377.8,304.8 L378.6,305.1 L379.5,308.6 L380.3,307.6 L381.2,307.3 L382.0,308.1 L382.8,311.5 L383.7,314.6 L384.5,317.7 L385.4,318.4 L386.2,320.0 L387.0,321.2 L387.9,322.9 L388.7,321.2 L389.6,322.3 L390.4,322.0 L391.2,323.9 L392.1,324.3 L392.9,321.8 L393.8,323.1 L394.6,323.7 L395.4,324.7 L396.3,324.9 L397.1,323.2 L398.0,321.1 L398.8,320.8 L399.6,323.6 L400.5,327.0 L401.3,327.1 L402.2,327.9 L403.0,327.0 L403.8,332.3 L404.7,334.0 L405.5,333.6 L406.4,335.6 L407.2,336.0 L408.0,336.0 L408.9,334.4 L409.7,333.7 L410.6,332.9 L411.4,334.3 L412.2,334.4 L413.1,332.9 L413.9,335.1 L414.8,335.3 L415.6,338.8 L416.4,341.7 L417.3,340.7 L418.1,342.5 L419.0,341.2 L419.8,338.8 L420.6,338.8 L421.5,338.9 L422.3,338.9 L423.2,337.3 L424.0,336.1 L424.8,335.8 L425.7,336.7 L426.5,335.2 L427.4,335.1 L428.2,334.5 L429.0,332.7 L429.9,332.3 L430.7,332.9 L431.6,333.2 L432.4,333.1 L433.2,333.3 L434.1,334.4 L434.9,336.4 L435.8,337.1 L436.6,338.6 L437.4,338.4 L438.3,337.6 L439.1,338.6 L440.0,341.3 L440.8,339.7 L441.6,336.7 L442.5,336.9 L443.3,337.5 L444.2,337.3 L445.0,338.3 L445.8,338.6 L446.7,339.5 L447.5,340.0 L448.4,342.3 L449.2,345.0 L450.0,345.7 L450.9,347.4 L451.7,348.0 L452.6,347.4 L453.4,348.9 L454.2,347.5 L455.1,345.1 L455.9,343.0 L456.8,340.1 L457.6,338.1 L458.4,334.4 L459.3,331.4 L460.1,332.0 L461.0,327.6 L461.8,326.6 L462.6,324.4 L463.5,321.7 L464.3,322.0 L465.2,319.3 L466.0,320.6 L466.8,317.9 L467.7,316.7 L468.5,314.3 L469.4,313.1 L470.2,314.8 L471.0,312.1 L471.9,309.4 L472.7,309.2 L473.6,310.2 L474.4,307.5 L475.2,311.1 L476.1,313.5 L476.9,315.5 L477.8,314.8 L478.6,312.9 L479.4,310.8 L480.3,309.4 L481.1,309.3 L482.0,307.6 L482.8,307.2 L483.6,305.2 L484.5,306.9 L485.3,302.7 L486.2,302.0 L487.0,303.6 L487.8,305.5 L488.7,306.7 L489.5,307.3 L490.4,307.0 L491.2,303.7 L492.0,303.9 L492.9,301.0 L493.7,301.4 L494.6,298.6 L495.4,295.7 L496.2,295.1 L497.1,295.0 L497.9,296.2 L498.8,295.9 L499.6,296.3 L500.4,296.9 L501.3,295.7 L502.1,294.8 L503.0,294.1 L503.8,295.1 L504.6,295.1 L505.5,295.2 L506.3,294.9 L507.2,295.4 L508.0,294.1 L508.8,295.9 L509.7,297.4 L510.5,298.7 L511.4,298.3 L512.2,299.5 L513.0,301.6 L513.9,301.0 L514.7,300.6 L515.6,302.1 L516.4,302.6 L517.2,299.8 L518.1,300.6 L518.9,299.2 L519.8,297.1 L520.6,296.0 L521.4,296.1 L522.3,295.3 L523.1,292.1 L524.0,290.9 L524.8,293.1 L525.6,290.4 L526.5,291.6 L527.3,289.5 L528.2,290.6 L529.0,291.2 L529.8,290.9 L530.7,290.3 L531.5,288.6 L532.4,291.1 L533.2,292.9 L534.0,290.2 L534.9,290.2 L535.7,293.4 L536.6,290.7 L537.4,293.1 L538.2,296.7 L539.1,296.2 L539.9,298.4 L540.8,299.1 L541.6,298.6 L542.4,297.2 L543.3,297.1 L544.1,297.4 L545.0,293.8 L545.8,291.9 L546.6,290.3 L547.5,288.1 L548.3,288.3 L549.2,286.8 L550.0,284.4 L550.8,285.0 L551.7,284.6 L552.5,284.3 L553.4,285.4 L554.2,285.4 L555.0,285.4 L555.9,287.4 L556.7,284.9 L557.6,287.5 L558.4,288.6 L559.2,289.0 L560.1,290.0 L560.9,291.1 L561.8,293.1 L562.6,291.6 L563.4,293.4 L564.3,293.1 L565.1,295.1 L566.0,296.7 L566.8,297.2 L567.6,298.5 L568.5,298.6 L569.3,297.5 L570.2,299.9 L571.0,301.6 L571.8,303.2 L572.7,303.0 L573.5,304.5 L574.4,305.4 L575.2,303.3 L576.0,305.4 L576.9,307.0 L577.7,308.0 L578.6,309.9 L579.4,310.4 L580.2,311.5 L581.1,310.4 L581.9,310.2 L582.8,309.5 L583.6,312.3 L584.4,310.1 L585.3,310.0 L586.1,311.4 L587.0,312.6 L587.8,312.2 L588.6,315.3 L589.5,314.1 L590.3,315.2 L591.2,314.1 L592.0,314.4 L592.8,315.2 L593.7,314.5 L594.5,316.3 L595.4,316.2 L596.2,318.4 L597.0,319.4 L597.9,321.2 L598.7,321.6 L599.6,320.3 L600.4,318.4 L601.2,317.2 L602.1,313.1 L602.9,312.5 L603.8,309.4 L604.6,308.2 L605.4,306.9 L606.3,304.0 L607.1,301.2 L608.0,298.9 L608.8,298.4 L609.6,299.7 L610.5,301.7 L611.3,302.0 L612.2,306.8 L613.0,305.6 L613.8,306.8 L614.7,308.1 L615.5,308.7 L616.4,310.3 L617.2,310.6 L618.0,311.2 L618.9,309.8 L619.7,308.4 L620.6,307.1 L621.4,307.2 L622.2,305.9 L623.1,303.8 L623.9,302.8 L624.8,301.5 L625.6,300.6 L626.4,299.0 L627.3,296.9 L628.1,293.5 L629.0,293.6 L629.8,293.0 L630.6,293.3 L631.5,295.0 L632.3,296.1 L633.2,296.2 L634.0,296.8 L634.8,298.6 L635.7,298.6 L636.5,300.3 L637.4,300.1 L638.2,300.6 L639.0,301.1 L639.9,304.4 L640.7,305.3 L641.6,308.1 L642.4,308.7 L643.2,309.5 L644.1,312.0 L644.9,313.4 L645.8,314.1 L646.6,315.7 L647.4,318.5 L648.3,318.3 L649.1,319.2 L650.0,319.1 L650.8,321.1 L651.6,320.9 L652.5,319.9 L653.3,318.3 L654.2,320.2 L655.0,319.6 L655.8,318.0 L656.7,317.7 L657.5,320.4 L658.4,321.4 L659.2,319.8" fill="none" stroke="rgba(0,0,255,0.65)" stroke-width="1.4" stroke-linejoin="round" clip-path="url(#cb)"/>
<path d="M46.0,251.6 L46.8,253.1 L47.7,251.8 L48.5,253.9 L49.4,254.1 L50.2,256.8 L51.0,256.8 L51.9,259.4 L52.7,259.8 L53.6,261.1 L54.4,261.3 L55.2,262.3 L56.1,263.5 L56.9,264.9 L57.8,263.8 L58.6,265.3 L59.4,267.0 L60.3,267.2 M62.8,268.7 L63.6,269.2 L64.5,269.7 L65.3,269.5 L66.2,269.8 L67.0,267.3 L67.8,267.7 L68.7,269.0 L69.5,269.0 L70.4,268.4 L71.2,271.3 L72.0,269.3 L72.9,267.4 L73.7,266.7 M77.1,261.1 L77.9,261.5 L78.8,262.0 L79.6,264.6 L80.4,263.7 L81.3,264.8 L82.1,264.1 L83.0,264.8 L83.8,263.9 L84.6,264.1 L85.5,264.4 L86.3,263.0 M89.7,265.1 L90.5,266.9 L91.4,265.5 L92.2,266.2 L93.0,266.5 L93.9,266.2 L94.7,268.6 M98.1,274.2 L98.9,275.8 L99.8,277.1 L100.6,276.9 L101.4,275.5 L102.3,275.4 L103.1,274.2 L104.0,273.7 L104.8,273.7 L105.6,275.2 L106.5,273.5 L107.3,274.1 L108.2,272.5 L109.0,271.7 L109.8,269.9 M112.4,272.6 L113.2,274.2 L114.0,274.7 L114.9,273.9 L115.7,276.2 L116.6,275.0 L117.4,275.1 L118.2,273.5 L119.1,272.9 L119.9,272.7 L120.8,272.1 L121.6,271.4 L122.4,271.0 L123.3,271.1 L124.1,271.7 M125.8,271.3 L126.6,271.2 L127.5,271.3 L128.3,273.4 L129.2,275.4 L130.0,272.6 L130.8,271.0 L131.7,270.4 L132.5,269.9 L133.4,269.8 L134.2,269.2 L135.0,268.0 M137.6,265.2 L138.4,265.1 L139.2,263.8 L140.1,264.8 L140.9,266.0 L141.8,267.2 L142.6,268.5 L143.4,270.6 L144.3,272.2 L145.1,272.2 L146.0,269.6 L146.8,269.5 M150.2,265.0 L151.0,263.2 L151.8,261.8 L152.7,263.1 L153.5,260.3 L154.4,261.4 L155.2,264.2 M157.7,264.1 L158.6,264.7 L159.4,264.4 L160.2,261.9 L161.1,262.8 L161.9,262.0 L162.8,260.3 L163.6,261.2 L164.4,259.1 L165.3,258.7 M168.6,262.6 L169.5,262.8 L170.3,264.3 L171.2,264.7 L172.0,265.0 L172.8,263.5 L173.7,263.2 L174.5,263.6 L175.4,262.9 L176.2,263.5 L177.0,262.6 L177.9,261.3 M180.4,261.9 L181.2,262.4 L182.1,260.3 L182.9,259.0 L183.8,256.6 L184.6,254.3 L185.4,250.2 L186.3,248.7 L187.1,247.2 L188.0,248.5 L188.8,249.1 L189.6,249.7 L190.5,253.5 L191.3,252.8 L192.2,253.7 M194.7,254.5 L195.5,254.7 L196.4,255.5 L197.2,256.4 L198.0,256.6 L198.9,255.6 L199.7,253.9 L200.6,253.0 L201.4,253.0 L202.2,252.3 L203.1,252.7 L203.9,251.7 M206.4,254.6 L207.3,254.8 L208.1,257.3 L209.0,255.7 L209.8,257.7 L210.6,256.2 L211.5,255.1 L212.3,253.1 M215.7,241.1 L216.5,240.3 L217.4,239.3 L218.2,237.3 L219.0,236.9 L219.9,235.4 L220.7,236.0 L221.6,237.4 M224.1,243.8 L224.9,246.4 L225.8,249.4 L226.6,249.1 L227.4,250.4 L228.3,251.6 L229.1,252.3 L230.0,253.3 L230.8,253.3 L231.6,254.7 L232.5,255.0 L233.3,254.8 L234.2,255.8 L235.0,253.5 L235.8,254.7 L236.7,254.1 M240.0,252.4 L240.9,251.4 L241.7,250.4 L242.6,249.3 L243.4,250.8 L244.2,248.3 L245.1,248.4 L245.9,246.6 L246.8,246.8 M250.1,247.9 L251.0,249.2 L251.8,247.6 L252.6,248.9 L253.5,250.0 L254.3,248.8 L255.2,247.7 L256.0,246.2 L256.8,247.2 L257.7,246.8 L258.5,244.4 M261.0,244.0 L261.9,244.3 L262.7,242.0 L263.6,242.0 L264.4,240.5 L265.2,240.3 L266.1,241.6 L266.9,242.5 L267.8,244.3 M271.1,248.5 L272.0,249.0 L272.8,248.7 L273.6,250.2 L274.5,250.3 L275.3,249.1 L276.2,247.4 L277.0,247.9 L277.8,247.9 L278.7,249.6 L279.5,249.6 L280.4,250.1 M283.7,248.8 L284.6,248.0 L285.4,249.0 L286.2,246.7 L287.1,247.8 L287.9,248.2 L288.8,246.0 L289.6,246.7 L290.4,246.3 L291.3,247.5 L292.1,247.3 L293.0,245.4 L293.8,243.2 L294.6,242.8 M297.2,234.4 L298.0,232.2 L298.8,230.5 L299.7,230.0 L300.5,230.5 L301.4,232.5 L302.2,232.0 L303.0,234.5 L303.9,236.3 L304.7,236.4 L305.6,235.1 M308.1,234.9 L308.9,236.3 L309.8,235.4 L310.6,236.9 L311.4,238.8 L312.3,241.1 L313.1,242.8 L314.0,245.0 L314.8,245.6 M316.5,246.6 L317.3,248.6 L318.2,248.7 L319.0,250.1 L319.8,250.4 L320.7,251.7 L321.5,251.5 L322.4,251.7 L323.2,251.7 L324.0,250.9 L324.9,249.0 M327.4,245.7 L328.2,246.3 L329.1,246.3 L329.9,243.8 L330.8,243.3 L331.6,243.5 L332.4,243.9 M335.8,243.9 L336.6,246.3 L337.5,246.9 L338.3,245.7 L339.2,247.9 L340.0,246.1 L340.8,245.3 L341.7,245.9 L342.5,246.1 M345.9,246.2 L346.7,248.1 L347.6,245.4 L348.4,244.2 L349.2,244.8 L350.1,245.9 L350.9,243.5 L351.8,244.7 L352.6,245.0 L353.4,243.4 L354.3,241.1 L355.1,241.9 L356.0,243.6 L356.8,244.4 M359.3,249.5 L360.2,250.5 L361.0,251.6 L361.8,251.9 M364.4,254.0 L365.2,253.1 L366.0,252.3 L366.9,252.7 M369.4,250.2 L370.2,250.1 L371.1,249.9 L371.9,249.0 L372.8,251.1 L373.6,254.1 L374.4,255.2 L375.3,256.8 L376.1,258.0 L377.0,257.8 L377.8,259.7 L378.6,260.7 L379.5,261.2 M382.0,262.6 L382.8,261.5 L383.7,263.2 L384.5,263.2 L385.4,262.2 L386.2,262.3 L387.0,260.5 L387.9,262.2 L388.7,264.4 L389.6,261.5 L390.4,260.7 L391.2,262.7 L392.1,262.6 L392.9,263.6 L393.8,264.6 L394.6,265.5 L395.4,267.7 L396.3,268.0 L397.1,268.3 L398.0,269.3 L398.8,270.5 L399.6,271.2 L400.5,273.0 L401.3,271.5 L402.2,270.0 L403.0,270.2 L403.8,268.3 L404.7,267.6 L405.5,267.8 L406.4,267.5 L407.2,268.8 L408.0,270.3 L408.9,271.3 L409.7,271.1 L410.6,272.0 L411.4,273.6 L412.2,274.0 L413.1,275.5 L413.9,276.3 L414.8,278.6 L415.6,277.9 L416.4,278.4 L417.3,276.8 M420.6,273.9 L421.5,274.7 L422.3,275.8 L423.2,276.6 L424.0,276.1 L424.8,277.7 L425.7,277.1 L426.5,276.1 L427.4,275.9 L428.2,274.5 L429.0,274.9 L429.9,274.1 L430.7,273.2 L431.6,272.6 L432.4,270.6 L433.2,270.6 L434.1,270.4 L434.9,270.5 L435.8,271.5 L436.6,271.0 L437.4,271.4 L438.3,272.1 L439.1,273.5 L440.0,273.6 L440.8,274.0 L441.6,275.6 L442.5,275.5 L443.3,277.1 L444.2,278.0 L445.0,277.3 L445.8,278.4 L446.7,279.6 L447.5,278.6 L448.4,278.3 L449.2,278.3 L450.0,278.5 L450.9,279.7 L451.7,282.0 L452.6,281.7 L453.4,282.3 L454.2,283.7 L455.1,284.6 L455.9,285.2 L456.8,286.1 L457.6,286.0 L458.4,286.5 L459.3,286.0 L460.1,285.7 L461.0,285.2 L461.8,283.5 L462.6,284.4 L463.5,283.4 L464.3,281.1 L465.2,280.5 L466.0,279.4 L466.8,277.6 L467.7,276.4 L468.5,275.6 L469.4,274.6 L470.2,271.6 L471.0,269.9 L471.9,268.4 L472.7,268.7 L473.6,267.8 L474.4,268.9 L475.2,268.6 L476.1,267.8 L476.9,266.0 L477.8,264.7 L478.6,264.7 L479.4,262.6 L480.3,262.9 L481.1,264.8 L482.0,264.0 L482.8,263.7 L483.6,260.5 L484.5,260.6 L485.3,259.9 L486.2,260.5 L487.0,259.8 L487.8,257.7 L488.7,258.4 L489.5,256.9 L490.4,257.2 L491.2,257.6 L492.0,255.6 L492.9,256.0 L493.7,256.4 L494.6,255.4 L495.4,254.5 L496.2,254.5 L497.1,256.2 L497.9,255.2 L498.8,256.0 L499.6,255.4 L500.4,257.1 L501.3,258.0 L502.1,257.3 L503.0,256.2 L503.8,254.8 L504.6,253.5 L505.5,254.9 L506.3,253.8 L507.2,255.2 L508.0,255.4 L508.8,258.0 L509.7,256.3 L510.5,254.9 L511.4,253.6 L512.2,254.1 L513.0,253.2 L513.9,256.0 L514.7,254.3 L515.6,254.7 L516.4,256.7 L517.2,255.4 L518.1,257.7 L518.9,258.2 L519.8,259.4 L520.6,260.5 L521.4,260.4 L522.3,260.1 L523.1,258.2 L524.0,257.8 L524.8,254.2 L525.6,253.5 L526.5,253.4 L527.3,252.2 L528.2,251.4 L529.0,251.6 L529.8,248.6 L530.7,248.0 L531.5,248.0 L532.4,249.0 L533.2,250.8 L534.0,252.0 L534.9,251.4 L535.7,253.3 L536.6,252.5 L537.4,254.5 L538.2,253.4 L539.1,252.3 L539.9,252.8 L540.8,253.3 L541.6,254.4 L542.4,254.4 L543.3,255.7 L544.1,254.7 L545.0,255.2 L545.8,254.4 L546.6,254.4 L547.5,254.8 M550.0,253.2 L550.8,254.1 L551.7,253.4 L552.5,254.2 L553.4,255.4 L554.2,255.0 L555.0,254.6 L555.9,255.3 L556.7,254.4 L557.6,254.0 L558.4,254.5 L559.2,252.9 L560.1,251.5 L560.9,250.3 L561.8,251.8 L562.6,254.0 L563.4,258.2 L564.3,257.9 L565.1,259.9 L566.0,261.3 L566.8,259.1 L567.6,259.8 L568.5,259.9 L569.3,260.8 L570.2,260.0 L571.0,262.7 L571.8,262.4 L572.7,262.9 L573.5,262.0 L574.4,262.7 L575.2,263.6 L576.0,263.6 L576.9,264.9 L577.7,266.2 L578.6,265.8 L579.4,265.3 L580.2,267.0 L581.1,268.3 L581.9,269.5 L582.8,270.7 L583.6,270.5 L584.4,272.0 L585.3,272.9 L586.1,272.9 L587.0,274.5 L587.8,274.4 L588.6,275.3 L589.5,275.1 L590.3,275.4 L591.2,277.1 L592.0,277.6 L592.8,277.9 L593.7,279.3 L594.5,280.3 L595.4,280.0 L596.2,279.4 L597.0,279.8 L597.9,278.3 L598.7,276.2 L599.6,275.7 M602.1,270.8 L602.9,270.6 L603.8,266.8 L604.6,268.4 L605.4,264.6 L606.3,265.0 L607.1,264.1 L608.0,263.7 L608.8,264.4 L609.6,267.0 L610.5,268.5 L611.3,268.1 L612.2,267.2 L613.0,266.4 L613.8,265.6 L614.7,263.9 L615.5,263.5 L616.4,263.1 L617.2,263.0 L618.0,260.9 L618.9,260.6 L619.7,261.8 L620.6,259.4 L621.4,258.5 L622.2,259.5 L623.1,259.0 L623.9,257.2 L624.8,257.8 L625.6,256.9 L626.4,257.3 L627.3,255.8 L628.1,255.9 L629.0,255.6 L629.8,254.9 L630.6,254.9 L631.5,254.5 L632.3,255.0 L633.2,254.1 L634.0,254.6 L634.8,252.4 L635.7,252.4 L636.5,251.8 L637.4,252.0 L638.2,254.1 L639.0,254.5 L639.9,256.7 L640.7,257.7 L641.6,258.4 L642.4,260.1 L643.2,262.0 L644.1,264.6 L644.9,266.5 L645.8,266.8 L646.6,268.8 L647.4,267.9 L648.3,266.1 L649.1,268.4 L650.0,264.9 L650.8,265.7 L651.6,264.9 L652.5,264.3 L653.3,264.4 L654.2,264.0 L655.0,262.3 L655.8,262.4 L656.7,262.4 L657.5,261.5 L658.4,261.2 L659.2,262.5" fill="none" stroke="rgba(191,0,191,0.7)" stroke-width="1.4" stroke-linejoin="round" clip-path="url(#cb)"/>
<path d="M46.0,252.7 L46.8,252.1 L47.7,251.5 L48.5,250.8 L49.4,251.2 L50.2,250.5 L51.0,247.4 L51.9,244.9 L52.7,241.9 L53.6,240.8 L54.4,241.1 L55.2,241.6 L56.1,243.8 L56.9,240.1 L57.8,239.9 L58.6,243.9 L59.4,246.7 L60.3,247.0 L61.1,251.7 L62.0,254.3 L62.8,257.7 L63.6,261.7 L64.5,265.7 L65.3,269.9 L66.2,272.7 L67.0,269.4 L67.8,265.4 L68.7,262.8 L69.5,260.5 L70.4,257.3 L71.2,254.8 L72.0,254.1 L72.9,255.5 L73.7,256.5 L74.6,255.0 L75.4,259.4 L76.2,261.1 L77.1,258.7 L77.9,256.6 L78.8,254.0 L79.6,254.1 L80.4,252.8 L81.3,252.5 L82.1,251.9 L83.0,253.0 L83.8,255.7 L84.6,256.3 L85.5,254.4 L86.3,252.3 L87.2,251.5 L88.0,250.0 L88.8,250.1 L89.7,250.7 L90.5,253.4 L91.4,255.3 L92.2,257.7 L93.0,262.2 L93.9,265.6 L94.7,269.1 L95.6,273.0 L96.4,275.4 L97.2,276.0 L98.1,273.9 L98.9,271.1 L99.8,267.1 L100.6,264.0 L101.4,261.7 L102.3,259.0 L103.1,255.4 L104.0,251.4 L104.8,246.6 L105.6,241.0 L106.5,234.2 L107.3,230.1 L108.2,228.1 L109.0,232.5 L109.8,235.8 L110.7,241.8 L111.5,247.4 L112.4,253.7 L113.2,259.8 L114.0,260.7 L114.9,263.2 L115.7,264.0 L116.6,264.9 L117.4,264.1 L118.2,263.9 L119.1,261.3 L119.9,260.7 L120.8,259.9 L121.6,259.0 L122.4,258.0 L123.3,257.4 L124.1,258.9 L125.0,262.1 L125.8,262.5 L126.6,260.4 L127.5,267.3 L128.3,269.9 L129.2,270.6 L130.0,272.2 L130.8,271.9 L131.7,270.2 L132.5,267.3 L133.4,267.0 L134.2,263.5 L135.0,261.6 L135.9,255.5 L136.7,247.5 L137.6,244.3 L138.4,247.1 L139.2,247.7 L140.1,248.3 L140.9,250.0 L141.8,250.4 L142.6,250.2 L143.4,252.0 L144.3,254.3 L145.1,256.8 L146.0,255.0 L146.8,255.5 L147.6,255.1 L148.5,253.3 L149.3,254.6 L150.2,256.9 L151.0,256.2 L151.8,256.8 L152.7,257.4 L153.5,251.0 L154.4,253.5 L155.2,256.9 L156.0,257.0 L156.9,255.5 L157.7,255.9 L158.6,256.7 L159.4,256.7 L160.2,252.8 L161.1,246.1 L161.9,231.1 L162.8,226.1 L163.6,224.3 L164.4,225.0 L165.3,228.1 L166.1,233.7 L167.0,249.2 L167.8,255.6 L168.6,259.2 L169.5,262.5 L170.3,269.0 L171.2,275.0 L172.0,278.3 L172.8,273.7 L173.7,269.1 L174.5,261.0 L175.4,253.4 L176.2,244.8 L177.0,234.2 L177.9,225.7 L178.7,220.2 L179.6,217.4 L180.4,219.8 L181.2,225.3 L182.1,233.4 L182.9,241.5 L183.8,248.7 L184.6,253.0 L185.4,252.2 L186.3,250.0 L187.1,246.8 L188.0,247.0 L188.8,244.3 L189.6,243.7 L190.5,248.6 L191.3,248.7 L192.2,246.8 L193.0,244.5 L193.8,238.5 L194.7,232.4 L195.5,229.3 L196.4,224.2 L197.2,221.1 L198.0,218.2 L198.9,215.5 L199.7,215.4 L200.6,217.2 L201.4,223.5 L202.2,229.1 L203.1,236.7 L203.9,239.1 L204.8,242.5 L205.6,245.5 L206.4,245.4 L207.3,246.4 L208.1,244.2 L209.0,242.7 L209.8,242.3 L210.6,242.7 L211.5,245.9 L212.3,248.6 L213.2,251.3 L214.0,251.2 L214.8,249.5 L215.7,247.7 L216.5,249.6 L217.4,251.6 L218.2,252.8 L219.0,257.1 L219.9,255.9 L220.7,253.4 L221.6,248.6 L222.4,245.6 L223.2,243.2 L224.1,241.0 L224.9,236.9 L225.8,231.9 L226.6,230.4 L227.4,230.2 L228.3,231.2 L229.1,231.9 L230.0,233.1 L230.8,239.3 L231.6,247.3 L232.5,249.8 L233.3,251.3 L234.2,250.1 L235.0,248.3 L235.8,249.3 L236.7,247.6 L237.5,242.7 L238.4,236.9 L239.2,235.5 L240.0,235.5 L240.9,233.4 L241.7,234.9 L242.6,237.3 L243.4,235.1 L244.2,233.0 L245.1,231.0 L245.9,228.1 L246.8,225.2 L247.6,225.1 L248.4,222.2 L249.3,224.2 L250.1,226.3 L251.0,229.3 L251.8,232.5 L252.6,234.9 L253.5,235.6 L254.3,237.6 L255.2,238.6 L256.0,237.6 L256.8,235.4 L257.7,235.5 L258.5,238.3 L259.4,244.1 L260.2,249.4 L261.0,254.3 L261.9,230.8 L262.7,226.6 L263.6,225.6 L264.4,225.9 L265.2,227.4 L266.1,225.1 L266.9,220.8 L267.8,220.7 L268.6,232.2 L269.4,249.5 L270.3,254.2 L271.1,252.1 L272.0,244.1 L272.8,235.4 L273.6,229.9 L274.5,230.6 L275.3,236.7 L276.2,239.1 L277.0,234.9 L277.8,229.0 L278.7,229.7 L279.5,238.4 L280.4,245.0 L281.2,250.6 L282.0,253.9 L282.9,254.8 L283.7,253.4 L284.6,252.0 L285.4,240.2 L286.2,231.3 L287.1,224.0 L287.9,222.4 L288.8,224.1 L289.6,226.4 L290.4,223.1 L291.3,220.0 L292.1,217.5 L293.0,218.1 L293.8,225.3 L294.6,233.5 L295.5,242.0 L296.3,241.0 L297.2,236.7 L298.0,234.7 L298.8,231.2 L299.7,230.0 L300.5,230.0 L301.4,232.6 L302.2,231.8 L303.0,223.8 L303.9,225.4 L304.7,225.7 L305.6,222.5 L306.4,230.0 L307.2,235.4 L308.1,236.0 L308.9,235.2 L309.8,238.6 L310.6,244.4 L311.4,245.8 L312.3,246.1 L313.1,247.0 L314.0,253.9 L314.8,251.8 L315.6,250.4 L316.5,247.1 L317.3,246.5 L318.2,243.2 L319.0,242.0 L319.8,242.7 L320.7,242.5 L321.5,238.4 L322.4,241.0 L323.2,241.1 L324.0,237.4 L324.9,241.1 L325.7,243.3 L326.6,248.7 L327.4,244.1 L328.2,243.3 L329.1,241.9 L329.9,241.4 L330.8,239.3 L331.6,237.8 L332.4,234.5 L333.3,231.5 L334.1,233.5 L335.0,238.2 L335.8,235.6 L336.6,235.4 L337.5,236.4 L338.3,238.2 L339.2,239.2 L340.0,241.5 L340.8,242.3 L341.7,244.8 L342.5,245.1 L343.4,240.9 L344.2,239.7 L345.0,237.9 L345.9,236.1 L346.7,236.6 L347.6,238.2 L348.4,234.6 L349.2,232.9 L350.1,230.7 L350.9,227.5 L351.8,224.5 L352.6,223.2 L353.4,223.4 L354.3,225.3 L355.1,227.5 L356.0,231.1 L356.8,235.2 L357.6,239.8 L358.5,245.8 L359.3,251.3 L360.2,254.6 L361.0,257.1 L361.8,258.6 L362.7,257.3 L363.5,255.4 L364.4,254.9 L365.2,253.7 L366.0,252.7 L366.9,250.5 L367.7,249.4 L368.6,247.0 L369.4,245.4 L370.2,242.2 L371.1,241.1 L371.9,237.6 L372.8,236.4 L373.6,237.2 L374.4,237.8 L375.3,241.7 L376.1,247.0 L377.0,253.4 L377.8,255.9 L378.6,259.3 L379.5,261.6 L380.3,263.6 L381.2,266.7 L382.0,267.6 L382.8,264.1 L383.7,263.8 L384.5,262.3 L385.4,263.1 L386.2,262.8 L387.0,263.4 L387.9,263.4 L388.7,262.8 L389.6,262.2 L390.4,259.7 L391.2,259.3 L392.1,258.8 L392.9,260.4 L393.8,262.1 L394.6,261.6 L395.4,256.6 L396.3,252.9 L397.1,248.7 L398.0,243.9 L398.8,242.9 L399.6,242.7 L400.5,240.1 L401.3,237.7 L402.2,237.8 L403.0,243.2 L403.8,249.4 L404.7,255.4 L405.5,259.1 L406.4,261.6 L407.2,262.7 L408.0,261.7 L408.9,262.9 L409.7,259.9 L410.6,256.2 L411.4,251.8 L412.2,250.8 L413.1,249.4 L413.9,248.8 L414.8,248.6 L415.6,249.5 L416.4,252.7 L417.3,258.2 L418.1,265.8 L419.0,271.5 L419.8,276.9 L420.6,282.1 L421.5,287.9 L422.3,291.0 L423.2,290.2 L424.0,286.1 L424.8,282.2 L425.7,279.7 L426.5,276.7 L427.4,270.9 L428.2,265.5 L429.0,262.4 L429.9,260.3 L430.7,263.2 L431.6,263.6 L432.4,263.5 L433.2,266.8 L434.1,272.7 L434.9,278.5 L435.8,282.5 L436.6,283.2 L437.4,281.4 L438.3,283.7 L439.1,289.4 L440.0,293.8 L440.8,287.4 L441.6,285.3 L442.5,282.5 L443.3,279.8 L444.2,274.8 L445.0,271.4 L445.8,269.7 L446.7,273.0 L447.5,275.0 L448.4,272.5 L449.2,275.6 L450.0,278.0 L450.9,276.7 L451.7,276.0 L452.6,277.7 L453.4,279.8 L454.2,276.2 L455.1,273.9 L455.9,271.8 L456.8,270.4 L457.6,271.4 L458.4,272.2 L459.3,270.9 L460.1,273.5 L461.0,275.7 L461.8,270.7 L462.6,266.5 L463.5,263.8 L464.3,260.6 L465.2,258.4 L466.0,257.4 L466.8,259.9 L467.7,262.7 L468.5,263.2 L469.4,263.4 L470.2,264.3 L471.0,265.3 L471.9,269.8 L472.7,267.5 L473.6,264.7 L474.4,262.3 L475.2,258.5 L476.1,255.6 L476.9,252.5 L477.8,248.9 L478.6,247.2 L479.4,243.2 L480.3,242.2 L481.1,242.5 L482.0,245.1 L482.8,244.3 L483.6,242.9 L484.5,241.8 L485.3,244.1 L486.2,247.5 L487.0,252.0 L487.8,252.7 L488.7,254.2 L489.5,255.4 L490.4,255.7 L491.2,254.9 L492.0,251.2 L492.9,245.3 L493.7,242.0 L494.6,239.2 L495.4,239.2 L496.2,233.1 L497.1,226.4 L497.9,224.0 L498.8,222.4 L499.6,220.7 L500.4,218.6 L501.3,225.1 L502.1,231.7 L503.0,236.3 L503.8,242.9 L504.6,247.6 L505.5,248.0 L506.3,245.2 L507.2,243.9 L508.0,243.0 L508.8,244.6 L509.7,247.2 L510.5,246.1 L511.4,241.5 L512.2,241.1 L513.0,244.2 L513.9,247.8 L514.7,247.8 L515.6,245.7 L516.4,239.6 L517.2,237.6 L518.1,238.6 L518.9,244.9 L519.8,251.4 L520.6,247.6 L521.4,229.4 L522.3,230.2 L523.1,230.9 L524.0,228.2 L524.8,229.4 L525.6,231.8 L526.5,234.3 L527.3,237.3 L528.2,240.0 L529.0,241.9 L529.8,243.6 L530.7,246.5 L531.5,248.5 L532.4,247.5 L533.2,243.1 L534.0,239.2 L534.9,233.6 L535.7,228.0 L536.6,223.3 L537.4,216.5 L538.2,215.4 L539.1,212.5 L539.9,211.3 L540.8,214.1 L541.6,222.9 L542.4,236.1 L543.3,245.8 L544.1,253.1 L545.0,259.7 L545.8,264.6 L546.6,268.0 L547.5,266.8 L548.3,264.4 L549.2,262.7 L550.0,259.8 L550.8,257.3 L551.7,249.6 L552.5,244.4 L553.4,236.8 L554.2,234.2 L555.0,231.6 L555.9,229.2 L556.7,228.2 L557.6,228.9 L558.4,231.8 L559.2,234.3 L560.1,234.3 L560.9,233.1 L561.8,237.5 L562.6,238.7 L563.4,240.5 L564.3,242.9 L565.1,243.2 L566.0,241.6 L566.8,246.9 L567.6,248.4 L568.5,249.2 L569.3,245.8 L570.2,246.6 L571.0,246.5 L571.8,249.3 L572.7,251.5 L573.5,251.4 L574.4,249.3 L575.2,251.6 L576.0,254.5 L576.9,256.0 L577.7,258.7 L578.6,259.0 L579.4,258.2 L580.2,255.5 L581.1,255.6 L581.9,258.1 L582.8,255.6 L583.6,253.9 L584.4,254.9 L585.3,255.7 L586.1,254.7 L587.0,256.5 L587.8,259.1 L588.6,261.6 L589.5,262.6 L590.3,264.3 L591.2,265.6 L592.0,264.2 L592.8,266.1 L593.7,266.4 L594.5,268.0 L595.4,268.7 L596.2,267.4 L597.0,270.2 L597.9,271.1 L598.7,271.7 L599.6,269.0 L600.4,268.4 L601.2,266.3 L602.1,264.8 L602.9,263.8 L603.8,262.0 L604.6,260.4 L605.4,258.4 L606.3,256.8 L607.1,254.5 L608.0,252.7 L608.8,251.8 L609.6,250.2 L610.5,252.0 L611.3,254.3 L612.2,255.2 L613.0,255.4 L613.8,255.6 L614.7,257.4 L615.5,258.9 L616.4,260.4 L617.2,261.4 L618.0,260.1 L618.9,257.6 L619.7,257.4 L620.6,256.5 L621.4,255.1 L622.2,254.6 L623.1,253.6 L623.9,251.7 L624.8,250.1 L625.6,248.9 L626.4,247.5 L627.3,247.8 L628.1,249.9 L629.0,250.7 L629.8,251.7 L630.6,252.7 L631.5,251.2 L632.3,247.4 L633.2,245.6 L634.0,244.3 L634.8,241.4 L635.7,240.5 L636.5,238.1 L637.4,239.9 L638.2,245.5 L639.0,247.7 L639.9,251.1 L640.7,254.0 L641.6,257.4 L642.4,259.0 L643.2,260.0 L644.1,260.3 L644.9,258.7 L645.8,256.2 L646.6,252.4 L647.4,256.1 L648.3,255.7 L649.1,256.6 L650.0,259.0 L650.8,259.8 L651.6,260.8 L652.5,260.0 L653.3,260.4 L654.2,262.4 L655.0,262.6 L655.8,261.9 L656.7,260.6 L657.5,260.8 L658.4,257.6 L659.2,258.3" fill="none" stroke="rgba(0,191,191,0.7)" stroke-width="1.4" stroke-linejoin="round" clip-path="url(#cb)"/>
<path d="M46.0,257.6 L46.8,260.2 L47.7,266.1 L48.5,275.2 L49.4,276.6 L50.2,276.8 L51.0,275.9 L51.9,275.7 L52.7,274.8 L53.6,273.8 L54.4,271.7 L55.2,272.0 L56.1,272.2 L56.9,274.1 L57.8,278.6 L58.6,280.5 L59.4,281.9 L60.3,282.6 L61.1,284.5 L62.0,284.7 L62.8,285.6 L63.6,288.2 L64.5,287.9 L65.3,288.9 L66.2,287.2 L67.0,288.2 L67.8,287.8 L68.7,288.1 L69.5,286.9 L70.4,287.2 L71.2,284.6 L72.0,282.5 L72.9,283.0 L73.7,281.5 L74.6,281.2 L75.4,281.8 L76.2,282.1 L77.1,283.9 L77.9,283.0 L78.8,282.2 L79.6,279.4 L80.4,281.3 L81.3,280.5 L82.1,281.5 L83.0,281.4 L83.8,281.1 L84.6,280.6 L85.5,278.0 L86.3,278.5 L87.2,279.5 L88.0,279.5 L88.8,279.4 L89.7,282.0 L90.5,284.4 L91.4,286.0 L92.2,289.1 L93.0,290.1 L93.9,292.0 L94.7,293.5 L95.6,295.0 L96.4,297.9 L97.2,299.4 L98.1,298.8 L98.9,297.0 L99.8,298.1 L100.6,296.9 L101.4,298.7 L102.3,299.9 L103.1,297.8 L104.0,297.4 L104.8,297.0 L105.6,298.4 L106.5,297.8 L107.3,300.8 L108.2,298.6 L109.0,298.1 L109.8,300.9 L110.7,299.8 L111.5,300.4 L112.4,300.7 L113.2,300.7 L114.0,300.2 L114.9,300.9 L115.7,301.2 L116.6,299.3 L117.4,299.8 L118.2,300.2 L119.1,300.1 L119.9,299.7 L120.8,298.9 L121.6,298.8 L122.4,299.4 L123.3,300.1 L124.1,302.9 L125.0,302.8 L125.8,305.0 L126.6,306.9 L127.5,308.0 L128.3,308.0 L129.2,309.9 L130.0,309.8 L130.8,308.8 L131.7,309.1 L132.5,308.4 L133.4,305.5 L134.2,305.2 L135.0,304.6 L135.9,303.2 L136.7,301.3 L137.6,300.4 L138.4,298.3 L139.2,296.2 L140.1,296.6 L140.9,295.6 L141.8,297.8 L142.6,298.0 L143.4,298.9 L144.3,300.6 L145.1,299.6 L146.0,301.6 L146.8,301.7 L147.6,300.8 L148.5,300.2 L149.3,299.5 L150.2,298.9 L151.0,298.3 L151.8,298.0 L152.7,297.8 L153.5,296.8 L154.4,295.0 L155.2,294.4 L156.0,292.4 L156.9,290.1 L157.7,288.0 L158.6,287.7 L159.4,287.0 L160.2,285.8 L161.1,284.8 L161.9,285.0 L162.8,284.7 L163.6,284.9 L164.4,283.6 L165.3,284.9 L166.1,283.8 L167.0,284.7 L167.8,284.8 L168.6,284.3 L169.5,280.4 L170.3,280.4 L171.2,277.3 L172.0,275.3 L172.8,275.6 L173.7,276.2 L174.5,276.1 L175.4,276.8 L176.2,276.6 L177.0,277.5 L177.9,276.9 L178.7,276.2 L179.6,275.7 L180.4,274.3 L181.2,275.4 L182.1,274.2 L182.9,274.4 L183.8,275.6 L184.6,277.3 L185.4,275.2 L186.3,272.0 L187.1,272.0 L188.0,271.6 L188.8,270.9 L189.6,269.5 L190.5,267.0 L191.3,264.3 L192.2,264.2 L193.0,263.2 L193.8,263.7 L194.7,263.9 L195.5,264.9 L196.4,264.0 L197.2,264.8 L198.0,265.5 L198.9,266.2 L199.7,266.3 L200.6,267.7 L201.4,268.2 L202.2,269.2 L203.1,270.9 L203.9,271.4 L204.8,271.4 L205.6,271.5 L206.4,269.2 L207.3,268.9 L208.1,269.2 L209.0,269.2 L209.8,268.4 L210.6,269.2 L211.5,270.2 L212.3,270.9 L213.2,270.2 L214.0,269.6 L214.8,270.1 L215.7,269.0 L216.5,268.9 L217.4,268.6 L218.2,270.2 L219.0,269.3 L219.9,269.3 L220.7,267.4 L221.6,266.1 L222.4,264.9 L223.2,264.8 L224.1,264.9 L224.9,264.7 L225.8,266.1 L226.6,265.9 L227.4,266.5 L228.3,266.2 L229.1,266.4 L230.0,266.7 L230.8,266.9 L231.6,268.0 L232.5,267.6 L233.3,268.4 L234.2,270.8 L235.0,270.1 L235.8,270.1 L236.7,271.6 L237.5,272.7 L238.4,271.4 L239.2,272.2 L240.0,271.6 L240.9,272.6 L241.7,269.8 L242.6,269.8 L243.4,268.9 L244.2,268.9 L245.1,270.1 L245.9,266.7 L246.8,267.5 L247.6,268.3 L248.4,268.9 L249.3,270.1 L250.1,272.2 L251.0,269.1 L251.8,270.5 L252.6,269.3 L253.5,269.0 L254.3,267.9 L255.2,268.2 L256.0,267.7 L256.8,266.1 L257.7,267.0 L258.5,264.4 L259.4,265.7 L260.2,264.0 L261.0,263.3 L261.9,262.9 L262.7,263.2 L263.6,264.6 L264.4,265.5 L265.2,266.0 L266.1,269.0 L266.9,269.1 L267.8,270.4 L268.6,273.1 L269.4,273.4 L270.3,272.8 L271.1,274.6 L272.0,275.8 L272.8,276.6 L273.6,275.2 L274.5,275.0 L275.3,273.9 L276.2,272.2 L277.0,272.3 L277.8,271.4 L278.7,269.6 L279.5,270.9 L280.4,270.7 L281.2,271.4 L282.0,271.4 L282.9,272.0 L283.7,271.3 L284.6,269.1 L285.4,269.1 L286.2,266.5 L287.1,266.5 L287.9,267.4 L288.8,265.0 L289.6,265.3 L290.4,265.9 L291.3,266.1 L292.1,265.0 L293.0,263.6 L293.8,264.4 L294.6,262.5 L295.5,265.0 L296.3,264.9 L297.2,265.4 L298.0,264.1 L298.8,263.6 L299.7,261.8 L300.5,262.9 L301.4,262.7 L302.2,263.3 L303.0,265.5 L303.9,264.2 L304.7,264.2 L305.6,263.4 L306.4,262.0 L307.2,262.0 L308.1,260.6 L308.9,261.3 L309.8,259.2 L310.6,257.3 L311.4,257.8 L312.3,257.4 L313.1,256.3 L314.0,256.0 L314.8,256.3 L315.6,258.9 L316.5,259.7 L317.3,261.5 L318.2,262.0 L319.0,264.9 L319.8,264.5 L320.7,266.3 L321.5,265.9 L322.4,266.2 L323.2,265.2 L324.0,265.7 L324.9,265.3 L325.7,263.7 L326.6,264.8 L327.4,263.7 L328.2,264.9 L329.1,265.4 L329.9,265.1 L330.8,265.3 L331.6,266.0 L332.4,266.0 L333.3,265.7 L334.1,266.3 L335.0,265.8 L335.8,265.8 L336.6,270.2 L337.5,268.8 L338.3,269.7 L339.2,269.2 L340.0,268.8 L340.8,269.6 L341.7,269.1 L342.5,268.6 L343.4,269.3 L344.2,269.7 L345.0,270.8 L345.9,269.7 L346.7,268.6 L347.6,266.3 L348.4,265.9 L349.2,266.4 L350.1,264.7 L350.9,263.1 L351.8,261.8 L352.6,261.3 L353.4,262.1 L354.3,265.2 L355.1,266.0 L356.0,267.5 L356.8,267.9 L357.6,269.7 L358.5,270.4 L359.3,270.4 L360.2,270.4 L361.0,271.8 L361.8,273.8 L362.7,273.7 L363.5,271.9 L364.4,270.8 L365.2,271.7 L366.0,272.1 L366.9,273.8 L367.7,274.4 L368.6,275.0 L369.4,275.2 L370.2,276.2 L371.1,277.4 L371.9,279.2 L372.8,280.9 L373.6,280.1 L374.4,282.3 L375.3,283.7 L376.1,283.3 L377.0,285.1 L377.8,285.1 L378.6,286.4 L379.5,285.2 L380.3,286.8 L381.2,287.7 L382.0,287.3 L382.8,287.4 L383.7,287.3 L384.5,288.7 L385.4,288.2 L386.2,289.1 L387.0,289.4 L387.9,290.1 L388.7,289.7 L389.6,290.2 L390.4,290.6 L391.2,289.7 L392.1,290.1 L392.9,290.3 L393.8,291.3 L394.6,294.0 L395.4,291.8 L396.3,292.9 L397.1,292.6 L398.0,291.8 L398.8,293.4 L399.6,293.2 L400.5,294.4 L401.3,296.1 L402.2,297.2 L403.0,299.9 L403.8,299.0 L404.7,298.5 L405.5,299.8 L406.4,300.2 L407.2,299.8 L408.0,297.7 L408.9,298.2 L409.7,297.7 L410.6,298.0 L411.4,298.0 L412.2,300.2 L413.1,300.0 L413.9,302.0 L414.8,301.3 L415.6,302.1 L416.4,302.9 L417.3,303.0 L418.1,304.9 L419.0,306.0 L419.8,306.7 L420.6,308.8 L421.5,308.0 L422.3,309.5 L423.2,309.6 L424.0,308.4 L424.8,304.9 L425.7,302.7 L426.5,302.2 L427.4,298.0 L428.2,297.0 L429.0,297.4 L429.9,300.7 L430.7,301.0 L431.6,301.0 L432.4,303.1 L433.2,303.9 L434.1,306.7 L434.9,304.9 L435.8,306.8 L436.6,304.5 L437.4,304.8 L438.3,305.5 L439.1,307.1 L440.0,310.0 L440.8,308.5 L441.6,307.1 L442.5,308.5 L443.3,306.4 L444.2,308.5 L445.0,308.6 L445.8,309.6 L446.7,310.0 L447.5,310.9 L448.4,311.3 L449.2,312.2 L450.0,312.1 L450.9,312.9 L451.7,312.6 L452.6,310.3 L453.4,309.2 L454.2,307.2 L455.1,306.0 L455.9,305.7 L456.8,302.6 L457.6,300.7 L458.4,299.1 L459.3,297.1 L460.1,295.6 L461.0,293.0 L461.8,291.4 L462.6,291.8 L463.5,290.3 L464.3,289.8 L465.2,291.3 L466.0,290.8 L466.8,289.7 L467.7,288.9 L468.5,288.7 L469.4,287.4 L470.2,287.1 L471.0,289.5 L471.9,291.1 L472.7,290.6 L473.6,289.7 L474.4,287.9 L475.2,290.3 L476.1,289.5 L476.9,290.9 L477.8,288.6 L478.6,288.7 L479.4,287.7 L480.3,287.2 L481.1,285.3 L482.0,285.5 L482.8,285.0 L483.6,285.5 L484.5,284.6 L485.3,283.8 L486.2,283.4 L487.0,283.1 L487.8,282.0 L488.7,282.2 L489.5,282.5 L490.4,280.3 L491.2,280.0 L492.0,279.7 L492.9,277.8 L493.7,275.7 L494.6,275.4 L495.4,274.7 L496.2,273.8 L497.1,273.5 L497.9,274.2 L498.8,275.5 L499.6,275.2 L500.4,276.3 L501.3,273.1 L502.1,272.1 L503.0,272.8 L503.8,271.7 L504.6,273.6 L505.5,270.7 L506.3,271.0 L507.2,271.2 L508.0,272.9 L508.8,274.8 L509.7,275.3 L510.5,274.1 L511.4,272.9 L512.2,271.5 L513.0,272.7 L513.9,271.8 L514.7,273.0 L515.6,273.9 L516.4,275.6 L517.2,275.4 L518.1,274.6 L518.9,273.9 L519.8,273.9 L520.6,271.2 L521.4,269.6 L522.3,269.5 L523.1,268.9 L524.0,268.5 L524.8,266.9 L525.6,269.0 L526.5,268.3 L527.3,265.9 L528.2,267.2 L529.0,268.8 L529.8,271.4 L530.7,272.0 L531.5,272.5 L532.4,273.3 L533.2,273.6 L534.0,272.0 L534.9,271.8 L535.7,273.1 L536.6,272.4 L537.4,274.8 L538.2,274.9 L539.1,275.5 L539.9,275.9 L540.8,277.0 L541.6,277.5 L542.4,279.3 L543.3,278.9 L544.1,278.0 L545.0,275.5 L545.8,274.7 L546.6,272.9 L547.5,272.4 L548.3,271.7 L549.2,267.8 L550.0,268.5 L550.8,267.0 L551.7,265.7 L552.5,265.4 L553.4,264.7 L554.2,264.6 L555.0,263.5 L555.9,263.3 L556.7,261.7 L557.6,264.3 L558.4,265.6 L559.2,265.2 L560.1,267.4 L560.9,266.6 L561.8,266.6 L562.6,267.5 L563.4,270.7 L564.3,270.3 L565.1,269.3 L566.0,268.6 L566.8,267.7 L567.6,268.0 L568.5,268.4 L569.3,271.5 L570.2,271.2 L571.0,269.5 L571.8,269.2 L572.7,270.9 L573.5,272.4 L574.4,273.6 L575.2,275.1 L576.0,274.9 L576.9,275.9 L577.7,277.7 L578.6,279.0 L579.4,280.5 L580.2,281.1 L581.1,280.4 L581.9,281.5 L582.8,284.3 L583.6,285.3 L584.4,287.8 L585.3,289.6 L586.1,291.2 L587.0,290.3 L587.8,289.3 L588.6,287.7 L589.5,289.6 L590.3,287.6 L591.2,286.7 L592.0,286.6 L592.8,286.9 L593.7,285.7 L594.5,285.5 L595.4,285.3 L596.2,286.4 L597.0,285.3 L597.9,287.1 L598.7,287.6 L599.6,288.4 L600.4,287.2 L601.2,283.8 L602.1,285.2 L602.9,281.2 L603.8,280.9 L604.6,282.2 L605.4,279.5 L606.3,281.3 L607.1,281.5 L608.0,283.7 L608.8,283.9 L609.6,284.2 L610.5,284.7 L611.3,286.7 L612.2,287.5 L613.0,289.7 L613.8,288.8 L614.7,289.5 L615.5,290.6 L616.4,291.4 L617.2,292.4 L618.0,290.2 L618.9,289.0 L619.7,287.6 L620.6,285.7 L621.4,282.9 L622.2,280.7 L623.1,278.5 L623.9,276.7 L624.8,274.5 L625.6,271.9 L626.4,273.0 L627.3,270.2 L628.1,265.3 L629.0,267.2 L629.8,268.5 L630.6,269.8 L631.5,273.2 L632.3,273.2 L633.2,273.6 L634.0,271.7 L634.8,273.1 L635.7,274.2 L636.5,276.0 L637.4,278.2 L638.2,279.4 L639.0,280.6 L639.9,282.5 L640.7,283.4 L641.6,283.1 L642.4,284.7 L643.2,284.1 L644.1,284.8 L644.9,286.2 L645.8,288.8 L646.6,291.4 L647.4,294.1 L648.3,292.6 L649.1,292.2 L650.0,293.3 L650.8,292.8 L651.6,289.6 L652.5,288.5 L653.3,288.4 L654.2,288.5 L655.0,288.7 L655.8,286.7 L656.7,285.3 L657.5,285.5 L658.4,283.9 L659.2,283.7" fill="none" stroke="rgba(191,191,0,0.7)" stroke-width="1.4" stroke-linejoin="round" clip-path="url(#cb)"/>
<path d="M46.0,450.9 L46.8,449.0 L47.7,445.4 L48.5,443.8 L49.4,444.1 L50.2,443.6 L51.0,444.8 L51.9,445.4 L52.7,445.0 L53.6,444.5 L54.4,446.9 L55.2,447.4 L56.1,447.9 L56.9,445.0 L57.8,446.0 L58.6,446.9 L59.4,445.2 L60.3,443.8 L61.1,443.0 L62.0,444.3 L62.8,445.1 L63.6,446.9 L64.5,451.3 L65.3,453.8 L66.2,454.9 L67.0,456.2 L67.8,456.2 L68.7,458.5 L69.5,458.6 L70.4,461.0 L71.2,461.9 L72.0,460.5 L72.9,457.6 L73.7,457.1 L74.6,453.1 L75.4,450.4 L76.2,448.8 L77.1,447.0 L77.9,446.7 L78.8,446.9 L79.6,446.9 L80.4,446.1 L81.3,445.9 L82.1,444.9 L83.0,445.8 L83.8,441.7 L84.6,442.3 L85.5,442.6 L86.3,443.6 L87.2,443.8 L88.0,445.8 L88.8,445.8 L89.7,446.6 L90.5,447.5 L91.4,447.6 L92.2,449.3 L93.0,450.3 L93.9,452.4 L94.7,452.0 L95.6,451.7 L96.4,451.3 L97.2,451.6 L98.1,452.4 L98.9,451.8 L99.8,451.5 L100.6,452.4 L101.4,451.7 L102.3,452.4 L103.1,451.3 L104.0,451.1 L104.8,452.2 L105.6,451.4 L106.5,453.1 L107.3,452.1 L108.2,452.9 L109.0,453.4 L109.8,454.5 L110.7,455.7 L111.5,455.5 L112.4,455.7 L113.2,453.7 L114.0,452.4 L114.9,451.3 L115.7,449.5 L116.6,447.5 L117.4,447.6 L118.2,447.1 L119.1,446.4 L119.9,446.2 L120.8,445.7 L121.6,447.6 L122.4,445.6 L123.3,443.9 L124.1,446.2 L125.0,445.1 L125.8,444.6 L126.6,442.2 L127.5,441.1 L128.3,440.9 L129.2,437.9 L130.0,438.8 L130.8,438.4 L131.7,437.9 L132.5,439.3 L133.4,439.2 L134.2,441.1 L135.0,442.6 L135.9,444.9 L136.7,445.5 L137.6,446.5 L138.4,447.3 L139.2,449.6 L140.1,450.4 L140.9,452.8 L141.8,453.1 L142.6,453.6 L143.4,455.3 L144.3,455.4 L145.1,456.2 L146.0,456.2 L146.8,455.2 L147.6,452.9 L148.5,453.2 L149.3,451.1 L150.2,451.5 L151.0,451.8 L151.8,451.4 L152.7,450.3 L153.5,449.3 L154.4,450.0 L155.2,448.2 L156.0,447.1 L156.9,447.8 L157.7,447.5 L158.6,447.8 L159.4,447.6 L160.2,448.6 L161.1,447.0 L161.9,447.3 L162.8,447.6 L163.6,448.0 L164.4,447.7 L165.3,447.2 L166.1,448.2 L167.0,446.7 L167.8,446.6 L168.6,445.8 L169.5,446.8 L170.3,446.5 L171.2,447.0 L172.0,447.8 L172.8,448.0 L173.7,448.4 L174.5,449.2 L175.4,446.8 L176.2,446.6 L177.0,446.2 L177.9,446.4 L178.7,446.2 L179.6,446.6 L180.4,447.5 L181.2,448.4 L182.1,449.9 L182.9,450.0 L183.8,450.0 L184.6,450.7 L185.4,451.4 L186.3,449.4 L187.1,450.6 L188.0,450.1 L188.8,449.2 L189.6,449.2 L190.5,449.6 L191.3,450.1 L192.2,450.6 L193.0,449.2 L193.8,449.4 L194.7,450.1 L195.5,448.7 L196.4,447.7 L197.2,447.9 L198.0,446.8 L198.9,444.8 L199.7,446.5 L200.6,444.3 L201.4,444.5 L202.2,443.4 L203.1,443.4 L203.9,442.7 L204.8,442.6 L205.6,444.3 L206.4,444.9 L207.3,446.6 L208.1,447.1 L209.0,447.7 L209.8,448.4 L210.6,449.8 L211.5,448.1 L212.3,449.5 L213.2,450.3 L214.0,449.0 L214.8,449.9 L215.7,450.1 L216.5,449.1 L217.4,449.1 L218.2,449.8 L219.0,450.2 L219.9,448.1 L220.7,447.5 L221.6,448.7 L222.4,448.8 L223.2,448.9 L224.1,449.8 L224.9,451.8 L225.8,452.5 L226.6,452.0 L227.4,452.5 L228.3,452.2 L229.1,453.8 L230.0,452.6 L230.8,451.7 L231.6,450.4 L232.5,450.3 L233.3,449.0 L234.2,448.9 L235.0,450.6 L235.8,451.0 L236.7,451.8 L237.5,453.8 L238.4,455.3 L239.2,458.2 L240.0,459.9 L240.9,459.0 L241.7,458.1 L242.6,457.7 L243.4,458.2 L244.2,457.9 L245.1,455.9 L245.9,457.1 L246.8,457.2 L247.6,457.3 L248.4,456.4 L249.3,456.8 L250.1,456.5 L251.0,457.6 L251.8,458.1 L252.6,457.6 L253.5,458.4 L254.3,458.2 L255.2,458.7 L256.0,458.4 L256.8,457.5 L257.7,458.0 L258.5,458.8 L259.4,459.9 L260.2,460.5 L261.0,461.4 L261.9,461.4 L262.7,460.7 L263.6,460.1 L264.4,460.7 L265.2,461.3 L266.1,460.9 L266.9,458.6 L267.8,461.4 L268.6,460.9 L269.4,463.5 L270.3,462.8 L271.1,462.6 L272.0,463.6 L272.8,462.2 L273.6,460.5 L274.5,460.0 L275.3,461.5 L276.2,461.9 L277.0,462.4 L277.8,463.6 L278.7,464.6 L279.5,463.7 L280.4,464.1 L281.2,465.2 L282.0,465.6 L282.9,466.1 L283.7,467.1 L284.6,466.5 L285.4,466.5 L286.2,467.7 L287.1,468.9 L287.9,468.0 L288.8,468.7 L289.6,470.1 L290.4,468.2 L291.3,469.6 L292.1,469.6 L293.0,468.8 L293.8,467.5 L294.6,466.6 L295.5,468.4 L296.3,470.2 L297.2,471.5 L298.0,470.6 L298.8,471.9 L299.7,471.8 L300.5,468.8 L301.4,469.6 L302.2,469.4 L303.0,469.2 L303.9,470.5 L304.7,471.0 L305.6,468.2 L306.4,468.1 L307.2,467.3 L308.1,467.4 L308.9,465.4 L309.8,466.1 L310.6,465.3 L311.4,464.8 L312.3,464.4 L313.1,463.6 L314.0,463.3 L314.8,462.9 L315.6,462.3 L316.5,461.5 L317.3,462.1 L318.2,459.7 L319.0,460.7 L319.8,459.6 L320.7,457.4 L321.5,456.4 L322.4,458.3 L323.2,457.9 L324.0,460.3 L324.9,459.9 L325.7,461.7 L326.6,463.0 L327.4,464.0 L328.2,465.7 L329.1,466.8 L329.9,467.2 L330.8,468.3 L331.6,468.0 L332.4,465.9 L333.3,463.1 L334.1,461.1 L335.0,458.3 L335.8,456.4 L336.6,456.2 L337.5,453.2 L338.3,451.2 L339.2,451.8 L340.0,450.4 L340.8,451.0 L341.7,450.3 L342.5,449.9 L343.4,449.6 L344.2,448.5 L345.0,449.8 L345.9,448.2 L346.7,446.8 L347.6,446.7 L348.4,446.3 L349.2,446.0 L350.1,445.0 L350.9,446.0 L351.8,443.7 L352.6,445.0 L353.4,441.7 L354.3,442.8 L355.1,442.3 L356.0,444.6 L356.8,444.0 L357.6,444.5 L358.5,445.1 L359.3,445.5 L360.2,446.7 L361.0,448.3 L361.8,450.1 L362.7,449.9 L363.5,450.2 L364.4,451.3 L365.2,450.1 L366.0,449.9 L366.9,447.7 L367.7,449.0 L368.6,450.7 L369.4,449.8 L370.2,451.4 L371.1,451.2 L371.9,450.9 L372.8,451.9 L373.6,452.0 L374.4,452.9 L375.3,452.9 L376.1,453.1 L377.0,454.9 L377.8,456.7 L378.6,457.8 L379.5,457.7 L380.3,460.5 L381.2,460.3 L382.0,457.5 L382.8,455.6 L383.7,453.9 L384.5,453.2 L385.4,450.6 L386.2,449.9 L387.0,448.4 L387.9,445.8 L388.7,444.4 L389.6,442.2 L390.4,439.8 L391.2,441.9 L392.1,444.5 L392.9,447.4 L393.8,449.1 L394.6,452.8 L395.4,454.9 L396.3,458.9 L397.1,461.0 L398.0,462.6 L398.8,461.7 L399.6,460.9 L400.5,458.9 L401.3,457.4 L402.2,455.9 L403.0,453.8 L403.8,453.4 L404.7,451.2 L405.5,451.3 L406.4,450.1 L407.2,452.0 L408.0,453.7 L408.9,456.3 L409.7,456.4 L410.6,456.1 L411.4,456.4 L412.2,456.6 L413.1,455.4 L413.9,454.5 L414.8,454.3 L415.6,453.4 L416.4,453.7 L417.3,454.6 L418.1,455.9 L419.0,456.2 L419.8,457.4 L420.6,457.0 L421.5,456.2 L422.3,456.9 L423.2,456.0 L424.0,458.2 L424.8,456.0 L425.7,455.8 L426.5,453.9 L427.4,452.6 L428.2,452.3 L429.0,451.2 L429.9,449.6 L430.7,449.0 L431.6,448.9 L432.4,450.6 L433.2,450.6 L434.1,450.6 L434.9,451.4 L435.8,450.2 L436.6,450.3 L437.4,451.1 L438.3,450.6 L439.1,449.5 L440.0,448.7 L440.8,448.8 L441.6,450.5 L442.5,450.6 L443.3,449.2 L444.2,449.9 L445.0,449.2 L445.8,448.9 L446.7,448.9 L447.5,447.6 L448.4,448.0 L449.2,448.3 L450.0,449.1 L450.9,449.4 L451.7,450.6 L452.6,451.8 L453.4,450.9 L454.2,450.6 L455.1,450.8 L455.9,449.3 L456.8,448.8 L457.6,449.2 L458.4,449.3 L459.3,447.5 L460.1,448.3 L461.0,448.8 L461.8,448.6 L462.6,448.8 L463.5,447.7 L464.3,446.7 L465.2,445.9 L466.0,447.2 L466.8,448.1 L467.7,448.7 L468.5,449.2 L469.4,450.2 L470.2,448.6 L471.0,449.1 L471.9,450.8 L472.7,450.6 L473.6,452.3 L474.4,452.0 L475.2,451.1 L476.1,449.0 L476.9,447.2 L477.8,445.8 L478.6,444.9 L479.4,444.0 L480.3,442.0 L481.1,443.5 L482.0,442.8 L482.8,442.8 L483.6,443.4 L484.5,444.5 L485.3,444.3 L486.2,445.2 L487.0,445.6 L487.8,444.5 L488.7,445.1 L489.5,444.5 L490.4,443.3 L491.2,442.5 L492.0,443.2 L492.9,442.9 L493.7,442.8 L494.6,442.4 L495.4,442.9 L496.2,445.4 L497.1,445.1 L497.9,444.6 L498.8,446.0 L499.6,445.9 L500.4,446.9 L501.3,449.0 L502.1,449.3 L503.0,447.2 L503.8,446.2 L504.6,446.1 L505.5,445.0 L506.3,445.3 L507.2,444.5 L508.0,444.2 L508.8,443.7 L509.7,443.7 L510.5,443.0 L511.4,442.7 L512.2,442.8 L513.0,442.8 L513.9,440.9 L514.7,441.3 L515.6,440.0 L516.4,442.4 L517.2,440.2 L518.1,440.5 L518.9,442.1 L519.8,441.8 L520.6,443.6 L521.4,444.4 L522.3,444.7 L523.1,445.0 L524.0,445.4 L524.8,448.8 L525.6,447.3 L526.5,448.0 L527.3,448.1 L528.2,448.7 L529.0,448.7 L529.8,448.8 L530.7,449.5 L531.5,450.0 L532.4,450.8 L533.2,451.4 L534.0,451.1 L534.9,451.9 L535.7,451.5 L536.6,452.1 L537.4,450.9 L538.2,451.7 L539.1,451.5 L539.9,452.2 L540.8,453.0 L541.6,451.9 L542.4,452.3 L543.3,452.9 L544.1,454.0 L545.0,454.3 L545.8,453.9 L546.6,455.0 L547.5,456.3 L548.3,458.5 L549.2,458.3 L550.0,458.7 L550.8,458.1 L551.7,459.0 L552.5,459.3 L553.4,460.4 L554.2,460.2 L555.0,460.7 L555.9,460.8 L556.7,460.8 L557.6,461.8 L558.4,461.3 L559.2,459.4 L560.1,460.0 L560.9,461.6 L561.8,460.6 L562.6,461.4 L563.4,461.2 L564.3,461.4 L565.1,462.0 L566.0,462.7 L566.8,463.2 L567.6,462.6 L568.5,462.8 L569.3,462.9 L570.2,462.2 L571.0,461.2 L571.8,459.6 L572.7,459.7 L573.5,458.9 L574.4,459.8 L575.2,457.9 L576.0,458.1 L576.9,458.1 L577.7,457.7 L578.6,458.3 L579.4,458.0 L580.2,459.0 L581.1,457.4 L581.9,458.1 L582.8,458.3 L583.6,457.1 L584.4,457.9 L585.3,457.7 L586.1,457.5 L587.0,457.9 L587.8,460.1 L588.6,459.6 L589.5,460.8 L590.3,462.3 L591.2,461.3 L592.0,462.0 L592.8,462.4 L593.7,462.6 L594.5,462.9 L595.4,462.1 L596.2,463.4 L597.0,465.9 L597.9,467.1 L598.7,468.1 L599.6,464.1 L600.4,463.2 L601.2,462.1 L602.1,460.5 L602.9,460.0 L603.8,459.2 L604.6,459.0 L605.4,457.8 L606.3,458.2 L607.1,457.5 L608.0,457.7 L608.8,459.0 L609.6,458.2 L610.5,457.3 L611.3,457.7 L612.2,459.0 L613.0,458.1 L613.8,459.3 L614.7,458.6 L615.5,458.5 L616.4,458.5 L617.2,456.7 L618.0,457.0 L618.9,456.4 L619.7,456.5 L620.6,457.0 L621.4,457.3 L622.2,456.6 L623.1,456.9 L623.9,457.3 L624.8,457.6 L625.6,458.0 L626.4,459.4 L627.3,458.3 L628.1,458.7 L629.0,457.2 L629.8,457.0 L630.6,457.0 L631.5,456.3 L632.3,455.4 L633.2,456.2 L634.0,456.4 L634.8,455.1 L635.7,454.2 L636.5,453.5 L637.4,451.4 L638.2,450.4 L639.0,450.5 L639.9,447.6 L640.7,446.6 L641.6,448.8 L642.4,448.1 L643.2,448.8 L644.1,449.2 L644.9,450.4 L645.8,451.2 L646.6,451.2 L647.4,452.3 L648.3,453.5 L649.1,455.1 L650.0,455.3 L650.8,454.8 L651.6,456.3 L652.5,455.6 L653.3,454.4 L654.2,452.7 L655.0,451.9 L655.8,449.3 L656.7,447.8 L657.5,447.0 L658.4,445.4 L659.2,442.6" fill="none" stroke="rgba(255,0,0,0.65)" stroke-width="1.4" stroke-linejoin="round" clip-path="url(#cc)"/>
<path d="M46.0,487.2 L46.8,481.6 L47.7,473.0 L48.5,464.5 L49.4,460.7 L50.2,458.1 L51.0,458.9 L51.9,456.5 L52.7,455.9 L53.6,453.9 L54.4,450.5 L55.2,450.3 L56.1,448.7 L56.9,446.6 L57.8,445.1 L58.6,442.2 L59.4,443.2 L60.3,445.2 L61.1,447.5 L62.0,450.5 L62.8,453.1 L63.6,453.5 L64.5,457.7 L65.3,461.6 L66.2,465.8 L67.0,473.7 L67.8,482.3 L68.7,489.7 L69.5,491.1 L70.4,481.3 L71.2,469.7 L72.0,466.5 L72.9,467.2 L73.7,468.3 L74.6,464.7 L75.4,465.8 L76.2,464.4 L77.1,462.9 L77.9,457.6 L78.8,455.4 L79.6,453.4 L80.4,455.5 L81.3,458.5 L82.1,462.7 L83.0,465.0 L83.8,460.1 L84.6,450.5 L85.5,451.1 L86.3,449.7 L87.2,446.2 L88.0,445.3 L88.8,446.9 L89.7,447.2 L90.5,446.5 L91.4,446.6 L92.2,446.9 L93.0,449.5 L93.9,449.6 L94.7,448.4 L95.6,451.2 L96.4,451.8 L97.2,450.5 L98.1,453.4 L98.9,486.9 L99.8,512.5 L100.6,510.9 L101.4,509.4 L102.3,510.7 L103.1,511.8 L104.0,511.0 L104.8,514.0 L105.6,519.7 L106.5,504.5 L107.3,490.1 L108.2,477.5 L109.0,474.4 L109.8,469.6 L110.7,467.5 L111.5,465.8 L112.4,467.1 L113.2,470.0 L114.0,473.9 L114.9,490.3 L115.7,504.9 L116.6,506.3 L117.4,505.2 L118.2,497.1 L119.1,488.0 L119.9,492.6 L120.8,492.2 L121.6,477.6 L122.4,464.1 L123.3,451.3 L124.1,440.9 L125.0,437.8 L125.8,435.5 L126.6,432.8 L127.5,429.5 L128.3,427.1 L129.2,426.7 L130.0,426.9 L130.8,428.7 L131.7,431.1 L132.5,432.6 L133.4,435.8 L134.2,438.0 L135.0,441.2 L135.9,444.2 L136.7,448.4 L137.6,454.8 L138.4,457.5 L139.2,461.2 L140.1,466.3 L140.9,470.7 L141.8,471.8 L142.6,471.7 L143.4,470.6 L144.3,470.4 L145.1,473.2 L146.0,469.7 L146.8,466.6 L147.6,466.7 L148.5,464.0 L149.3,465.5 L150.2,464.3 L151.0,462.6 L151.8,460.8 L152.7,457.6 L153.5,454.5 L154.4,457.5 L155.2,458.6 L156.0,460.3 L156.9,463.2 L157.7,467.5 L158.6,469.3 L159.4,460.5 L160.2,452.5 L161.1,447.2 L161.9,448.8 L162.8,448.8 L163.6,446.5 L164.4,449.8 L165.3,449.5 L166.1,448.5 L167.0,452.3 L167.8,452.6 L168.6,451.7 L169.5,450.2 L170.3,453.2 L171.2,454.0 L172.0,452.4 L172.8,451.5 L173.7,450.9 L174.5,449.7 L175.4,452.3 L176.2,454.9 L177.0,454.1 L177.9,449.2 L178.7,446.2 L179.6,443.2 L180.4,441.7 L181.2,443.4 L182.1,444.8 L182.9,445.4 L183.8,446.9 L184.6,450.5 L185.4,453.6 L186.3,457.0 L187.1,460.8 L188.0,461.7 L188.8,468.3 L189.6,475.4 L190.5,462.0 L191.3,457.0 L192.2,456.1 L193.0,454.4 L193.8,452.4 L194.7,451.3 L195.5,449.2 L196.4,449.7 L197.2,450.5 L198.0,449.5 L198.9,447.8 L199.7,446.2 L200.6,445.9 L201.4,445.0 L202.2,444.2 L203.1,442.9 L203.9,444.6 L204.8,446.9 L205.6,448.5 L206.4,450.5 L207.3,454.8 L208.1,459.4 L209.0,467.5 L209.8,469.7 L210.6,471.3 L211.5,468.2 L212.3,464.7 L213.2,460.6 L214.0,454.6 L214.8,451.0 L215.7,450.7 L216.5,452.3 L217.4,453.5 L218.2,455.0 L219.0,455.9 L219.9,457.6 L220.7,462.3 L221.6,466.5 L222.4,464.9 L223.2,465.8 L224.1,475.7 L224.9,469.1 L225.8,467.6 L226.6,472.6 L227.4,475.5 L228.3,473.8 L229.1,464.3 L230.0,455.7 L230.8,450.5 L231.6,448.5 L232.5,449.3 L233.3,451.5 L234.2,452.1 L235.0,448.9 L235.8,450.2 L236.7,455.7 L237.5,466.3 L238.4,477.0 L239.2,482.9 L240.0,483.4 L240.9,481.2 L241.7,476.9 L242.6,471.6 L243.4,466.4 L244.2,462.8 L245.1,457.9 L245.9,452.0 L246.8,452.9 L247.6,454.5 L248.4,456.8 L249.3,451.6 L250.1,446.0 L251.0,444.8 L251.8,443.5 L252.6,442.7 L253.5,444.8 L254.3,466.2 L255.2,523.2 L256.0,530.6 L256.8,533.1 L257.7,535.7 L258.5,540.0 L259.4,540.8 L260.2,537.3 L261.0,527.0 L261.9,481.8 L262.7,460.6 L263.6,455.5 L264.4,454.9 L265.2,453.7 L266.1,451.6 L266.9,453.5 L267.8,457.3 L268.6,461.6 L269.4,464.9 L270.3,468.0 L271.1,470.8 L272.0,472.7 L272.8,470.1 L273.6,472.1 L274.5,476.5 L275.3,480.0 L276.2,480.6 L277.0,476.3 L277.8,473.6 L278.7,472.1 L279.5,468.0 L280.4,459.9 L281.2,456.3 L282.0,457.3 L282.9,463.1 L283.7,466.6 L284.6,470.1 L285.4,474.4 L286.2,475.7 L287.1,476.4 L287.9,478.8 L288.8,480.7 L289.6,481.3 L290.4,472.4 L291.3,466.0 L292.1,461.3 L293.0,458.6 L293.8,455.8 L294.6,452.9 L295.5,453.7 L296.3,460.1 L297.2,467.6 L298.0,471.0 L298.8,474.8 L299.7,476.8 L300.5,477.8 L301.4,472.5 L302.2,468.8 L303.0,465.0 L303.9,472.0 L304.7,476.9 L305.6,479.5 L306.4,473.3 L307.2,467.4 L308.1,463.1 L308.9,460.5 L309.8,458.0 L310.6,457.8 L311.4,460.2 L312.3,461.1 L313.1,463.1 L314.0,465.0 L314.8,467.3 L315.6,468.0 L316.5,461.8 L317.3,456.7 L318.2,451.4 L319.0,448.7 L319.8,446.8 L320.7,446.2 L321.5,446.8 L322.4,452.3 L323.2,459.0 L324.0,464.0 L324.9,464.5 L325.7,464.6 L326.6,462.9 L327.4,464.1 L328.2,465.6 L329.1,468.0 L329.9,464.8 L330.8,464.0 L331.6,465.0 L332.4,468.1 L333.3,470.7 L334.1,467.4 L335.0,459.9 L335.8,457.9 L336.6,453.0 L337.5,448.0 L338.3,443.9 L339.2,440.6 L340.0,438.2 L340.8,432.2 L341.7,434.2 L342.5,437.1 L343.4,443.8 L344.2,446.1 L345.0,447.9 L345.9,451.0 L346.7,454.6 L347.6,457.5 L348.4,455.7 L349.2,454.3 L350.1,452.3 L350.9,449.6 L351.8,448.5 L352.6,446.5 L353.4,444.6 L354.3,444.6 L355.1,447.1 L356.0,449.0 L356.8,447.1 L357.6,447.0 L358.5,450.7 L359.3,450.9 L360.2,450.0 L361.0,448.5 L361.8,445.2 L362.7,451.3 L363.5,465.1 L364.4,498.6 L365.2,509.8 L366.0,504.4 L366.9,493.3 L367.7,496.3 L368.6,513.9 L369.4,511.0 L370.2,503.6 L371.1,494.0 L371.9,480.2 L372.8,468.3 L373.6,457.3 L374.4,446.3 L375.3,444.7 L376.1,445.8 L377.0,447.2 L377.8,450.5 L378.6,462.1 L379.5,482.1 L380.3,502.3 L381.2,516.7 L382.0,525.9 L382.8,525.4 L383.7,523.5 L384.5,518.8 L385.4,513.8 L386.2,509.4 L387.0,502.3 L387.9,486.4 L388.7,465.9 L389.6,447.3 L390.4,441.6 L391.2,443.7 L392.1,448.0 L392.9,454.2 L393.8,461.0 L394.6,465.9 L395.4,469.4 L396.3,471.9 L397.1,480.3 L398.0,497.2 L398.8,492.8 L399.6,484.9 L400.5,477.6 L401.3,474.4 L402.2,474.3 L403.0,476.2 L403.8,472.7 L404.7,468.4 L405.5,465.2 L406.4,463.5 L407.2,464.1 L408.0,465.5 L408.9,466.7 L409.7,466.4 L410.6,463.8 L411.4,469.6 L412.2,477.8 L413.1,484.5 L413.9,480.7 L414.8,475.5 L415.6,470.2 L416.4,468.6 L417.3,465.4 L418.1,461.6 L419.0,455.2 L419.8,451.9 L420.6,451.4 L421.5,452.8 L422.3,460.7 L423.2,464.5 L424.0,459.8 L424.8,459.3 L425.7,457.2 L426.5,456.8 L427.4,456.1 L428.2,455.1 L429.0,454.2 L429.9,449.1 L430.7,447.4 L431.6,446.0 L432.4,449.5 L433.2,452.7 L434.1,451.8 L434.9,447.4 L435.8,447.2 L436.6,449.5 L437.4,453.4 L438.3,452.1 L439.1,449.3 L440.0,445.5 L440.8,441.8 L441.6,439.3 L442.5,436.9 L443.3,433.2 L444.2,432.3 L445.0,431.5 L445.8,433.3 L446.7,438.2 L447.5,443.3 L448.4,450.6 L449.2,456.4 L450.0,463.8 L450.9,469.6 L451.7,475.4 L452.6,481.3 L453.4,485.7 L454.2,491.8 L455.1,479.2 L455.9,475.4 L456.8,478.2 L457.6,482.0 L458.4,482.5 L459.3,470.5 L460.1,461.9 L461.0,457.1 L461.8,455.1 L462.6,451.2 L463.5,449.4 L464.3,445.4 L465.2,441.5 L466.0,440.9 L466.8,443.7 L467.7,448.1 L468.5,449.8 L469.4,452.5 L470.2,454.5 L471.0,455.8 L471.9,458.4 L472.7,468.7 L473.6,490.6 L474.4,509.5 L475.2,507.7 L476.1,506.1 L476.9,501.1 L477.8,493.8 L478.6,491.4 L479.4,486.2 L480.3,476.1 L481.1,462.0 L482.0,450.6 L482.8,448.6 L483.6,447.1 L484.5,444.8 L485.3,441.4 L486.2,436.6 L487.0,431.9 L487.8,425.6 L488.7,417.9 L489.5,411.1 L490.4,410.0 L491.2,408.5 L492.0,407.5 L492.9,404.5 L493.7,407.3 L494.6,412.4 L495.4,417.3 L496.2,426.0 L497.1,435.5 L497.9,439.8 L498.8,444.7 L499.6,449.9 L500.4,453.1 L501.3,451.5 L502.1,454.6 L503.0,462.4 L503.8,480.8 L504.6,488.0 L505.5,491.3 L506.3,486.9 L507.2,484.6 L508.0,483.1 L508.8,479.6 L509.7,476.7 L510.5,474.7 L511.4,467.6 L512.2,451.0 L513.0,430.4 L513.9,432.3 L514.7,436.2 L515.6,441.8 L516.4,446.5 L517.2,454.2 L518.1,458.2 L518.9,454.0 L519.8,446.3 L520.6,441.4 L521.4,440.8 L522.3,446.1 L523.1,450.1 L524.0,451.5 L524.8,449.1 L525.6,446.9 L526.5,445.8 L527.3,445.5 L528.2,448.6 L529.0,453.2 L529.8,455.3 L530.7,461.7 L531.5,467.2 L532.4,472.1 L533.2,478.7 L534.0,485.9 L534.9,489.7 L535.7,490.4 L536.6,488.3 L537.4,482.6 L538.2,471.5 L539.1,461.6 L539.9,451.5 L540.8,447.7 L541.6,446.4 L542.4,447.6 L543.3,449.9 L544.1,455.6 L545.0,460.8 L545.8,464.6 L546.6,469.5 L547.5,474.1 L548.3,475.0 L549.2,472.9 L550.0,467.8 L550.8,466.3 L551.7,459.3 L552.5,454.0 L553.4,450.2 L554.2,451.8 L555.0,454.1 L555.9,457.9 L556.7,459.0 L557.6,458.0 L558.4,455.9 L559.2,452.6 L560.1,452.6 L560.9,455.8 L561.8,456.6 L562.6,455.8 L563.4,454.0 L564.3,452.6 L565.1,455.1 L566.0,458.5 L566.8,467.8 L567.6,473.3 L568.5,475.5 L569.3,471.4 L570.2,464.1 L571.0,459.1 L571.8,455.4 L572.7,450.6 L573.5,447.3 L574.4,441.9 L575.2,439.5 L576.0,438.3 L576.9,441.0 L577.7,443.9 L578.6,445.6 L579.4,446.8 L580.2,450.4 L581.1,451.8 L581.9,453.8 L582.8,475.3 L583.6,496.4 L584.4,499.8 L585.3,502.3 L586.1,502.6 L587.0,500.2 L587.8,497.0 L588.6,489.6 L589.5,492.4 L590.3,489.8 L591.2,483.1 L592.0,476.9 L592.8,473.9 L593.7,475.6 L594.5,474.0 L595.4,470.8 L596.2,463.0 L597.0,456.3 L597.9,454.1 L598.7,449.3 L599.6,447.3 L600.4,444.5 L601.2,439.8 L602.1,436.6 L602.9,435.4 L603.8,433.5 L604.6,430.3 L605.4,427.5 L606.3,426.4 L607.1,425.5 L608.0,437.7 L608.8,447.9 L609.6,452.5 L610.5,453.1 L611.3,451.5 L612.2,452.7 L613.0,461.7 L613.8,485.0 L614.7,510.0 L615.5,507.1 L616.4,506.5 L617.2,504.2 L618.0,504.0 L618.9,504.1 L619.7,500.6 L620.6,473.5 L621.4,464.0 L622.2,462.3 L623.1,461.6 L623.9,460.1 L624.8,458.7 L625.6,457.5 L626.4,456.6 L627.3,456.6 L628.1,458.2 L629.0,456.9 L629.8,457.4 L630.6,458.5 L631.5,458.2 L632.3,456.6 L633.2,452.9 L634.0,438.5 L634.8,430.8 L635.7,430.2 L636.5,433.8 L637.4,438.1 L638.2,439.5 L639.0,435.7 L639.9,441.1 L640.7,446.5 L641.6,448.1 L642.4,451.3 L643.2,454.7 L644.1,458.3 L644.9,462.6 L645.8,465.6 L646.6,468.0 L647.4,464.2 L648.3,460.4 L649.1,455.4 L650.0,453.4 L650.8,452.8 L651.6,451.5 L652.5,451.7 L653.3,452.1 L654.2,449.5 L655.0,450.6 L655.8,450.3 L656.7,450.0 L657.5,452.5 L658.4,452.0 L659.2,450.9" fill="none" stroke="rgba(0,128,0,0.65)" stroke-width="1.4" stroke-linejoin="round" clip-path="url(#cc)"/>
<path d="M46.0,445.5 L46.8,446.0 L47.7,450.1 L48.5,451.4 L49.4,453.4 L50.2,453.6 L51.0,450.5 L51.9,450.7 L52.7,450.6 L53.6,452.3 L54.4,451.0 L55.2,448.9 L56.1,448.4 L56.9,446.7 L57.8,446.7 L58.6,448.4 L59.4,447.0 L60.3,443.2 L61.1,444.9 L62.0,444.8 L62.8,447.1 L63.6,451.4 L64.5,456.1 L65.3,459.6 L66.2,461.7 L67.0,464.3 L67.8,465.6 L68.7,468.0 L69.5,469.9 L70.4,469.5 L71.2,468.7 L72.0,467.3 L72.9,464.5 L73.7,461.0 L74.6,456.2 L75.4,453.2 L76.2,449.6 L77.1,448.1 L77.9,446.7 L78.8,444.8 L79.6,446.1 L80.4,445.9 L81.3,446.9 L82.1,447.5 L83.0,448.2 L83.8,450.7 L84.6,450.9 L85.5,451.5 L86.3,451.8 L87.2,453.6 L88.0,453.1 L88.8,455.1 L89.7,458.0 L90.5,463.2 L91.4,464.7 L92.2,464.5 L93.0,463.2 L93.9,460.7 L94.7,458.6 L95.6,458.0 L96.4,455.7 L97.2,454.0 L98.1,455.4 L98.9,456.1 L99.8,455.2 L100.6,455.2 L101.4,456.3 L102.3,456.7 L103.1,455.7 L104.0,456.8 L104.8,457.7 L105.6,458.3 L106.5,459.4 L107.3,460.9 L108.2,461.9 L109.0,464.6 L109.8,465.6 L110.7,467.3 L111.5,468.4 L112.4,469.0 L113.2,470.3 L114.0,470.6 L114.9,471.0 L115.7,468.4 L116.6,466.4 L117.4,462.4 L118.2,460.4 L119.1,459.2 L119.9,458.9 L120.8,458.2 L121.6,457.2 L122.4,457.0 L123.3,457.3 L124.1,458.0 L125.0,458.0 L125.8,457.3 L126.6,457.3 L127.5,456.7 L128.3,454.5 L129.2,454.4 L130.0,455.3 L130.8,455.1 L131.7,454.2 L132.5,451.8 L133.4,453.4 L134.2,451.9 L135.0,452.6 L135.9,452.7 L136.7,453.5 L137.6,455.1 L138.4,458.7 L139.2,459.8 L140.1,461.6 L140.9,464.7 L141.8,466.1 L142.6,466.2 L143.4,468.7 L144.3,470.0 L145.1,471.1 L146.0,470.3 L146.8,469.8 L147.6,468.1 L148.5,466.7 L149.3,465.1 L150.2,465.0 L151.0,464.2 L151.8,462.6 L152.7,463.5 L153.5,461.5 L154.4,461.2 L155.2,462.2 L156.0,461.3 L156.9,461.4 L157.7,462.3 L158.6,461.7 L159.4,461.4 L160.2,460.4 L161.1,460.4 L161.9,458.2 L162.8,460.3 L163.6,460.2 L164.4,460.5 L165.3,461.0 L166.1,461.2 L167.0,462.1 L167.8,460.7 L168.6,460.2 L169.5,459.2 L170.3,459.8 L171.2,460.0 L172.0,460.0 L172.8,458.1 L173.7,459.3 L174.5,459.3 L175.4,458.2 L176.2,457.0 L177.0,455.9 L177.9,456.0 L178.7,456.6 L179.6,456.2 L180.4,456.4 L181.2,456.6 L182.1,456.3 L182.9,455.9 L183.8,456.5 L184.6,456.1 L185.4,457.6 L186.3,457.9 L187.1,457.3 L188.0,458.6 L188.8,457.0 L189.6,457.2 L190.5,457.9 L191.3,458.6 L192.2,459.0 L193.0,457.4 L193.8,455.9 L194.7,454.6 L195.5,454.1 L196.4,452.8 L197.2,453.2 L198.0,452.0 L198.9,451.0 L199.7,450.4 L200.6,447.7 L201.4,448.5 L202.2,447.5 L203.1,447.7 L203.9,447.1 L204.8,449.3 L205.6,452.4 L206.4,453.0 L207.3,456.4 L208.1,457.5 L209.0,461.1 L209.8,463.3 L210.6,464.1 L211.5,466.6 L212.3,467.0 L213.2,467.2 L214.0,465.6 L214.8,465.2 L215.7,464.4 L216.5,463.4 L217.4,462.8 L218.2,460.9 L219.0,461.2 L219.9,459.6 L220.7,458.9 L221.6,457.3 L222.4,457.3 L223.2,457.8 L224.1,458.6 L224.9,460.6 L225.8,460.6 L226.6,463.0 L227.4,463.8 L228.3,465.4 L229.1,466.0 L230.0,465.8 L230.8,466.9 L231.6,466.2 L232.5,466.3 L233.3,467.4 L234.2,466.9 L235.0,464.9 L235.8,466.1 L236.7,465.4 L237.5,467.0 L238.4,467.6 L239.2,469.2 L240.0,469.7 L240.9,470.2 L241.7,469.9 L242.6,469.2 L243.4,470.1 L244.2,469.9 L245.1,469.5 L245.9,469.6 L246.8,467.4 L247.6,468.5 L248.4,467.7 L249.3,467.1 L250.1,465.6 L251.0,466.4 L251.8,465.7 L252.6,464.9 L253.5,464.1 L254.3,464.9 L255.2,466.3 L256.0,467.8 L256.8,469.8 L257.7,471.3 L258.5,472.3 L259.4,474.8 L260.2,475.3 L261.0,476.4 L261.9,477.7 L262.7,478.2 L263.6,478.3 L264.4,478.8 L265.2,476.9 L266.1,478.4 L266.9,476.3 L267.8,475.4 L268.6,474.8 L269.4,474.4 L270.3,473.7 L271.1,473.1 L272.0,474.1 L272.8,473.4 L273.6,473.0 L274.5,473.3 L275.3,474.4 L276.2,475.3 L277.0,477.2 L277.8,477.0 L278.7,477.7 L279.5,478.9 L280.4,479.6 L281.2,480.5 L282.0,480.3 L282.9,480.8 L283.7,480.8 L284.6,483.1 L285.4,482.6 L286.2,483.0 L287.1,483.0 L287.9,484.1 L288.8,484.6 L289.6,484.5 L290.4,483.0 L291.3,482.7 L292.1,482.1 L293.0,481.4 L293.8,481.8 L294.6,481.4 L295.5,482.0 L296.3,483.3 L297.2,483.0 L298.0,484.5 L298.8,485.0 L299.7,486.0 L300.5,484.9 L301.4,486.9 L302.2,488.4 L303.0,486.0 L303.9,485.4 L304.7,485.2 L305.6,483.0 L306.4,481.6 L307.2,481.8 L308.1,479.9 L308.9,479.1 L309.8,478.6 L310.6,478.3 L311.4,478.1 L312.3,476.3 L313.1,474.3 L314.0,476.0 L314.8,473.6 L315.6,474.2 L316.5,471.1 L317.3,472.1 L318.2,470.1 L319.0,469.8 L319.8,467.2 L320.7,464.1 L321.5,460.0 L322.4,461.2 L323.2,461.9 L324.0,462.3 L324.9,465.1 L325.7,465.4 L326.6,469.4 L327.4,469.3 L328.2,472.9 L329.1,474.7 L329.9,477.8 L330.8,478.9 L331.6,480.5 L332.4,475.6 L333.3,471.0 L334.1,468.7 L335.0,465.9 L335.8,463.4 L336.6,461.9 L337.5,460.4 L338.3,460.3 L339.2,458.1 L340.0,456.6 L340.8,454.4 L341.7,454.7 L342.5,453.7 L343.4,451.2 L344.2,451.7 L345.0,451.1 L345.9,450.6 L346.7,449.7 L347.6,450.8 L348.4,450.1 L349.2,450.0 L350.1,449.4 L350.9,448.2 L351.8,448.1 L352.6,448.7 L353.4,448.7 L354.3,450.6 L355.1,452.1 L356.0,454.0 L356.8,456.5 L357.6,458.1 L358.5,459.8 L359.3,459.5 L360.2,457.8 L361.0,456.3 L361.8,454.5 L362.7,452.8 L363.5,452.4 L364.4,452.0 L365.2,451.0 L366.0,450.4 L366.9,448.4 L367.7,449.9 L368.6,451.1 L369.4,453.6 L370.2,455.8 L371.1,461.3 L371.9,465.4 L372.8,466.8 L373.6,469.0 L374.4,470.4 L375.3,471.5 L376.1,472.8 L377.0,474.3 L377.8,473.5 L378.6,474.4 L379.5,474.6 L380.3,473.5 L381.2,474.8 L382.0,474.5 L382.8,472.1 L383.7,472.4 L384.5,470.0 L385.4,466.7 L386.2,462.1 L387.0,458.6 L387.9,453.4 L388.7,450.5 L389.6,449.8 L390.4,449.6 L391.2,453.1 L392.1,456.9 L392.9,463.7 L393.8,467.7 L394.6,470.3 L395.4,472.1 L396.3,475.2 L397.1,476.5 L398.0,475.0 L398.8,473.8 L399.6,473.5 L400.5,471.6 L401.3,470.8 L402.2,468.8 L403.0,468.1 L403.8,467.2 L404.7,466.8 L405.5,464.4 L406.4,463.6 L407.2,463.8 L408.0,463.5 L408.9,463.1 L409.7,461.6 L410.6,461.7 L411.4,461.9 L412.2,463.7 L413.1,463.8 L413.9,463.8 L414.8,465.2 L415.6,467.1 L416.4,468.7 L417.3,467.6 L418.1,467.5 L419.0,465.8 L419.8,466.2 L420.6,466.7 L421.5,468.1 L422.3,468.4 L423.2,467.8 L424.0,467.9 L424.8,466.6 L425.7,466.7 L426.5,466.3 L427.4,463.8 L428.2,461.9 L429.0,461.2 L429.9,459.4 L430.7,460.7 L431.6,460.3 L432.4,461.6 L433.2,460.7 L434.1,461.8 L434.9,461.7 L435.8,462.0 L436.6,462.5 L437.4,463.2 L438.3,461.1 L439.1,461.9 L440.0,462.0 L440.8,460.7 L441.6,461.3 L442.5,460.4 L443.3,463.4 L444.2,463.7 L445.0,465.1 L445.8,466.0 L446.7,467.3 L447.5,467.8 L448.4,468.3 L449.2,468.8 L450.0,469.1 L450.9,468.6 L451.7,466.4 L452.6,466.2 L453.4,465.8 L454.2,464.3 L455.1,463.8 L455.9,462.5 L456.8,462.0 L457.6,462.7 L458.4,461.7 L459.3,461.2 L460.1,462.7 L461.0,462.5 L461.8,463.1 L462.6,462.8 L463.5,462.9 L464.3,461.8 L465.2,461.4 L466.0,461.2 L466.8,461.2 L467.7,461.2 L468.5,459.4 L469.4,460.2 L470.2,459.5 L471.0,458.0 L471.9,459.9 L472.7,458.7 L473.6,458.2 L474.4,459.0 L475.2,457.2 L476.1,456.7 L476.9,456.7 L477.8,455.9 L478.6,457.0 L479.4,454.8 L480.3,456.5 L481.1,457.1 L482.0,458.1 L482.8,457.8 L483.6,457.2 L484.5,457.2 L485.3,457.3 L486.2,457.6 L487.0,458.7 L487.8,457.0 L488.7,457.1 L489.5,457.1 L490.4,456.0 L491.2,456.6 L492.0,455.7 L492.9,455.3 L493.7,454.8 L494.6,453.8 L495.4,455.2 L496.2,455.1 L497.1,453.8 L497.9,454.6 L498.8,453.6 L499.6,453.3 L500.4,454.5 L501.3,453.6 L502.1,453.8 L503.0,453.7 L503.8,453.0 L504.6,453.7 L505.5,453.0 L506.3,452.3 L507.2,453.2 L508.0,454.0 L508.8,453.4 L509.7,455.0 L510.5,454.4 L511.4,456.3 L512.2,455.3 L513.0,454.6 L513.9,454.4 L514.7,454.3 L515.6,454.7 L516.4,454.9 L517.2,455.6 L518.1,455.8 L518.9,455.2 L519.8,456.3 L520.6,454.8 L521.4,452.7 L522.3,454.6 L523.1,454.8 L524.0,454.4 L524.8,456.0 L525.6,454.5 L526.5,453.6 L527.3,454.2 L528.2,455.3 L529.0,455.8 L529.8,456.6 L530.7,457.9 L531.5,460.2 L532.4,461.8 L533.2,463.1 L534.0,465.2 L534.9,465.4 L535.7,463.8 L536.6,464.5 L537.4,463.0 L538.2,463.3 L539.1,461.4 L539.9,461.1 L540.8,462.0 L541.6,460.3 L542.4,460.3 L543.3,460.4 L544.1,459.9 L545.0,462.4 L545.8,463.5 L546.6,464.3 L547.5,466.0 L548.3,466.3 L549.2,467.6 L550.0,468.6 L550.8,470.0 L551.7,469.2 L552.5,471.4 L553.4,470.4 L554.2,470.6 L555.0,469.9 L555.9,468.6 L556.7,469.0 L557.6,469.1 L558.4,469.6 L559.2,469.5 L560.1,469.0 L560.9,468.6 L561.8,471.2 L562.6,470.7 L563.4,471.1 L564.3,471.4 L565.1,472.3 L566.0,471.1 L566.8,472.3 L567.6,471.0 L568.5,471.0 L569.3,470.6 L570.2,470.5 L571.0,467.9 L571.8,468.8 L572.7,469.0 L573.5,468.3 L574.4,468.3 L575.2,467.4 L576.0,467.3 L576.9,466.7 L577.7,466.5 L578.6,465.8 L579.4,466.4 L580.2,465.2 L581.1,466.2 L581.9,468.9 L582.8,468.3 L583.6,468.7 L584.4,468.7 L585.3,469.8 L586.1,471.8 L587.0,474.1 L587.8,476.7 L588.6,478.4 L589.5,479.2 L590.3,480.3 L591.2,480.5 L592.0,480.2 L592.8,481.1 L593.7,478.2 L594.5,476.9 L595.4,477.0 L596.2,475.4 L597.0,476.3 L597.9,475.4 L598.7,475.2 L599.6,474.1 L600.4,474.0 L601.2,472.0 L602.1,471.5 L602.9,470.8 L603.8,470.1 L604.6,470.7 L605.4,470.1 L606.3,469.8 L607.1,468.5 L608.0,468.0 L608.8,468.1 L609.6,466.7 L610.5,467.2 L611.3,468.4 L612.2,468.1 L613.0,468.8 L613.8,467.9 L614.7,467.7 L615.5,467.9 L616.4,468.2 L617.2,468.3 L618.0,467.9 L618.9,466.1 L619.7,466.8 L620.6,466.3 L621.4,465.3 L622.2,465.2 L623.1,464.7 L623.9,463.7 L624.8,463.3 L625.6,463.0 L626.4,461.6 L627.3,461.1 L628.1,461.0 L629.0,459.6 L629.8,458.7 L630.6,458.1 L631.5,458.5 L632.3,456.6 L633.2,457.3 L634.0,457.8 L634.8,456.2 L635.7,456.8 L636.5,456.5 L637.4,455.7 L638.2,457.4 L639.0,457.5 L639.9,457.8 L640.7,457.6 L641.6,458.7 L642.4,459.1 L643.2,459.4 L644.1,459.6 L644.9,461.7 L645.8,463.3 L646.6,463.5 L647.4,466.8 L648.3,465.3 L649.1,465.7 L650.0,465.8 L650.8,464.5 L651.6,463.8 L652.5,463.1 L653.3,462.0 L654.2,461.6 L655.0,459.5 L655.8,458.4 L656.7,457.4 L657.5,457.3 L658.4,454.0 L659.2,454.4" fill="none" stroke="rgba(0,0,255,0.65)" stroke-width="1.4" stroke-linejoin="round" clip-path="url(#cc)"/>
<path d="M46.0,413.8 L46.8,413.8 L47.7,413.0 L48.5,412.8 L49.4,412.4 L50.2,412.6 L51.0,411.5 L51.9,409.7 L52.7,410.7 L53.6,413.1 L54.4,415.2 L55.2,414.5 L56.1,415.9 L56.9,412.6 L57.8,409.4 L58.6,409.0 L59.4,407.9 L60.3,408.9 L61.1,409.7 L62.0,410.6 L62.8,410.6 L63.6,413.1 L64.5,416.0 L65.3,417.2 L66.2,420.9 L67.0,423.3 L67.8,424.2 L68.7,426.8 L69.5,428.1 L70.4,429.9 L71.2,429.5 L72.0,432.5 L72.9,430.8 L73.7,429.8 L74.6,429.2 L75.4,426.6 L76.2,423.9 L77.1,422.5 L77.9,420.0 L78.8,420.1 L79.6,419.6 L80.4,417.2 L81.3,415.5 L82.1,414.1 L83.0,415.0 L83.8,416.0 L84.6,414.2 L85.5,415.1 L86.3,416.8 L87.2,416.9 L88.0,416.7 L88.8,418.1 L89.7,418.4 L90.5,418.2 L91.4,419.9 L92.2,418.9 L93.0,416.4 L93.9,415.9 L94.7,414.3 L95.6,415.3 L96.4,414.5 L97.2,415.8 L98.1,415.7 L98.9,415.9 L99.8,417.6 L100.6,418.3 L101.4,418.0 L102.3,419.6 L103.1,422.6 L104.0,420.2 L104.8,417.8 L105.6,416.8 L106.5,417.2 L107.3,418.7 L108.2,417.7 L109.0,418.0 L109.8,418.0 L110.7,420.0 L111.5,421.4 L112.4,423.9 L113.2,423.6 L114.0,422.9 L114.9,425.8 L115.7,423.9 L116.6,419.0 L117.4,418.6 L118.2,417.0 L119.1,416.4 L119.9,415.5 L120.8,415.6 L121.6,414.3 L122.4,415.9 L123.3,415.2 L124.1,416.0 L125.0,416.3 L125.8,415.3 L126.6,414.8 L127.5,415.6 L128.3,414.0 L129.2,413.8 L130.0,411.8 L130.8,411.2 L131.7,410.7 L132.5,410.1 L133.4,410.7 L134.2,408.8 L135.0,411.7 L135.9,413.4 L136.7,413.3 L137.6,415.8 L138.4,414.8 L139.2,416.5 L140.1,417.0 L140.9,418.3 L141.8,420.6 L142.6,422.0 L143.4,422.9 L144.3,423.2 L145.1,424.7 L146.0,425.7 L146.8,428.1 L147.6,429.3 L148.5,429.6 L149.3,431.1 L150.2,430.7 L151.0,427.9 L151.8,427.2 L152.7,424.7 L153.5,423.9 L154.4,422.7 L155.2,423.8 L156.0,424.0 L156.9,421.3 L157.7,421.1 L158.6,422.8 L159.4,423.2 L160.2,423.2 L161.1,423.5 L161.9,425.1 L162.8,423.1 L163.6,423.7 L164.4,422.4 L165.3,422.2 L166.1,420.8 L167.0,422.0 L167.8,420.7 L168.6,420.0 L169.5,419.1 L170.3,418.7 L171.2,420.6 L172.0,419.9 L172.8,420.1 L173.7,421.2 L174.5,422.1 L175.4,420.9 L176.2,420.5 L177.0,421.6 L177.9,420.4 L178.7,420.7 L179.6,423.0 L180.4,421.7 L181.2,419.8 L182.1,420.6 L182.9,419.3 L183.8,417.9 L184.6,418.2 L185.4,418.3 L186.3,418.2 L187.1,419.6 L188.0,418.9 L188.8,419.2 L189.6,418.7 L190.5,418.4 L191.3,418.9 L192.2,419.8 L193.0,418.5 L193.8,420.1 L194.7,421.0 L195.5,419.9 L196.4,420.0 L197.2,418.8 L198.0,418.9 L198.9,417.5 L199.7,417.9 L200.6,416.7 L201.4,417.2 L202.2,414.5 L203.1,412.8 L203.9,412.7 L204.8,413.2 L205.6,415.4 L206.4,415.9 L207.3,417.7 L208.1,418.7 L209.0,418.0 L209.8,420.3 L210.6,422.5 L211.5,424.3 L212.3,424.3 L213.2,427.1 L214.0,428.2 L214.8,427.5 L215.7,427.5 L216.5,427.0 L217.4,424.8 L218.2,426.6 L219.0,424.5 L219.9,425.6 L220.7,427.2 L221.6,427.4 L222.4,427.1 L223.2,427.3 L224.1,427.3 L224.9,429.9 L225.8,429.4 L226.6,430.2 L227.4,431.5 L228.3,430.6 L229.1,429.6 L230.0,429.2 L230.8,427.9 L231.6,426.5 L232.5,425.8 L233.3,424.3 L234.2,424.3 L235.0,424.6 L235.8,425.7 L236.7,427.0 L237.5,428.1 L238.4,430.2 L239.2,431.3 L240.0,433.5 L240.9,433.2 L241.7,430.6 L242.6,430.2 L243.4,429.8 L244.2,428.7 L245.1,428.6 L245.9,427.5 L246.8,428.0 L247.6,427.0 L248.4,426.3 L249.3,428.6 L250.1,430.5 L251.0,431.1 L251.8,431.7 L252.6,431.7 L253.5,433.4 L254.3,434.6 L255.2,435.0 L256.0,434.5 L256.8,435.2 L257.7,436.1 L258.5,437.1 L259.4,437.5 L260.2,438.7 L261.0,436.9 L261.9,438.0 L262.7,439.6 L263.6,438.8 L264.4,439.9 L265.2,439.7 L266.1,438.7 L266.9,440.4 L267.8,439.7 L268.6,440.3 L269.4,439.6 L270.3,439.5 L271.1,439.4 L272.0,439.2 L272.8,438.8 L273.6,439.1 L274.5,439.2 L275.3,436.2 L276.2,438.1 L277.0,436.5 L277.8,436.1 L278.7,436.1 L279.5,436.6 L280.4,435.7 L281.2,437.3 L282.0,436.7 L282.9,438.4 L283.7,438.7 L284.6,439.0 L285.4,439.5 L286.2,442.3 L287.1,444.1 L287.9,443.2 L288.8,444.0 L289.6,445.3 L290.4,446.5 L291.3,445.0 L292.1,446.5 M294.6,444.2 L295.5,442.3 L296.3,441.1 M299.7,441.3 L300.5,443.1 L301.4,444.5 L302.2,445.0 L303.0,447.3 L303.9,447.9 L304.7,448.2 L305.6,450.3 L306.4,447.4 L307.2,445.8 L308.1,445.1 L308.9,442.4 L309.8,441.7 L310.6,441.8 L311.4,439.4 L312.3,440.1 L313.1,437.4 L314.0,436.0 L314.8,435.5 L315.6,435.6 L316.5,435.8 L317.3,435.0 L318.2,435.2 L319.0,435.7 L319.8,433.9 L320.7,433.1 L321.5,431.4 L322.4,431.3 L323.2,430.3 L324.0,429.1 L324.9,427.6 L325.7,428.7 L326.6,428.2 L327.4,428.0 L328.2,428.6 L329.1,428.1 L329.9,430.5 L330.8,430.0 L331.6,432.7 L332.4,434.2 L333.3,435.7 L334.1,438.6 L335.0,438.7 L335.8,439.1 L336.6,437.7 L337.5,437.1 L338.3,434.2 L339.2,433.1 L340.0,431.6 L340.8,430.6 L341.7,427.4 L342.5,426.8 L343.4,425.7 L344.2,425.1 L345.0,424.5 L345.9,424.2 L346.7,423.6 L347.6,422.9 L348.4,422.9 L349.2,421.9 L350.1,419.8 L350.9,421.3 L351.8,420.5 L352.6,417.3 L353.4,415.9 L354.3,416.9 L355.1,417.3 L356.0,418.4 L356.8,420.2 L357.6,420.3 L358.5,419.4 L359.3,420.0 L360.2,420.2 L361.0,420.6 L361.8,421.6 L362.7,422.8 L363.5,422.2 L364.4,422.0 L365.2,422.5 L366.0,420.4 L366.9,419.4 L367.7,418.8 L368.6,418.5 L369.4,416.5 L370.2,415.8 L371.1,416.4 L371.9,417.8 L372.8,421.1 L373.6,421.5 L374.4,421.9 L375.3,423.8 L376.1,424.9 L377.0,427.2 L377.8,428.7 L378.6,429.4 L379.5,429.3 L380.3,430.4 L381.2,430.8 L382.0,432.4 L382.8,431.6 L383.7,429.9 L384.5,428.6 L385.4,426.1 L386.2,425.1 L387.0,423.7 L387.9,421.1 L388.7,417.9 L389.6,418.2 L390.4,416.2 L391.2,418.8 L392.1,422.0 L392.9,423.4 L393.8,424.8 L394.6,427.5 L395.4,429.2 L396.3,431.5 L397.1,435.0 L398.0,440.3 L398.8,438.8 L399.6,437.5 L400.5,434.9 L401.3,434.5 L402.2,433.2 L403.0,430.8 L403.8,429.5 L404.7,427.6 L405.5,426.2 L406.4,424.7 L407.2,424.2 L408.0,424.8 L408.9,423.5 L409.7,423.6 L410.6,426.4 L411.4,428.4 L412.2,429.1 L413.1,428.6 L413.9,429.9 L414.8,430.7 L415.6,430.7 L416.4,432.4 L417.3,432.0 L418.1,430.5 L419.0,429.5 L419.8,429.9 L420.6,429.8 L421.5,431.0 L422.3,430.8 L423.2,431.2 L424.0,430.3 L424.8,431.0 L425.7,429.1 L426.5,428.3 L427.4,427.5 L428.2,428.0 L429.0,428.8 L429.9,427.5 L430.7,428.0 L431.6,427.4 L432.4,427.3 L433.2,426.0 L434.1,426.6 L434.9,426.9 L435.8,425.4 L436.6,426.8 L437.4,428.3 L438.3,426.0 L439.1,427.1 L440.0,426.6 L440.8,425.3 L441.6,425.5 L442.5,423.6 L443.3,424.4 L444.2,424.6 L445.0,425.2 L445.8,426.1 L446.7,426.2 L447.5,426.8 L448.4,425.9 L449.2,426.7 L450.0,425.6 L450.9,424.6 L451.7,425.0 L452.6,425.0 L453.4,424.2 L454.2,425.6 L455.1,425.1 L455.9,425.1 L456.8,427.4 L457.6,426.0 L458.4,426.5 L459.3,423.6 L460.1,425.2 L461.0,424.6 L461.8,428.7 L462.6,428.8 L463.5,427.6 L464.3,426.5 L465.2,425.6 L466.0,426.3 L466.8,426.1 L467.7,424.6 L468.5,423.5 L469.4,422.8 L470.2,423.4 L471.0,423.5 L471.9,422.2 L472.7,421.7 L473.6,422.4 L474.4,422.4 L475.2,422.4 L476.1,421.4 L476.9,422.1 L477.8,421.1 L478.6,419.7 L479.4,419.8 L480.3,418.6 L481.1,419.5 L482.0,419.2 L482.8,417.5 L483.6,419.0 L484.5,418.7 L485.3,418.6 L486.2,420.1 L487.0,421.5 L487.8,422.8 L488.7,425.6 M496.2,416.3 L497.1,416.1 L497.9,414.5 L498.8,417.0 L499.6,419.2 L500.4,423.3 L501.3,425.0 L502.1,426.1 L503.0,425.5 L503.8,426.0 L504.6,426.3 L505.5,425.3 L506.3,424.8 L507.2,424.1 L508.0,424.0 L508.8,422.6 L509.7,421.9 L510.5,421.5 L511.4,420.5 L512.2,419.6 L513.0,420.4 L513.9,419.6 L514.7,419.0 L515.6,418.4 L516.4,418.2 L517.2,418.4 L518.1,418.2 L518.9,419.6 L519.8,419.0 L520.6,418.0 L521.4,416.7 L522.3,415.7 L523.1,414.0 L524.0,414.2 L524.8,414.2 L525.6,415.2 L526.5,416.5 L527.3,416.1 L528.2,416.6 L529.0,418.5 L529.8,421.0 L530.7,421.6 L531.5,424.0 L532.4,425.3 L533.2,426.6 L534.0,426.7 L534.9,428.1 L535.7,428.9 L536.6,429.2 L537.4,429.2 L538.2,429.1 L539.1,431.4 L539.9,430.0 L540.8,431.5 L541.6,431.5 L542.4,430.8 L543.3,431.0 L544.1,433.2 L545.0,432.8 L545.8,433.6 L546.6,434.9 L547.5,433.4 L548.3,433.9 L549.2,436.2 L550.0,435.4 L550.8,436.4 L551.7,436.4 L552.5,436.6 L553.4,436.9 L554.2,435.1 L555.0,434.9 L555.9,435.0 L556.7,434.9 L557.6,435.1 L558.4,433.8 L559.2,434.1 L560.1,434.2 L560.9,434.2 L561.8,435.5 L562.6,435.2 L563.4,435.5 L564.3,436.3 L565.1,436.4 L566.0,437.8 L566.8,439.8 L567.6,439.1 L568.5,440.1 L569.3,440.9 L570.2,440.1 L571.0,440.3 L571.8,439.1 L572.7,437.4 L573.5,435.6 L574.4,436.7 L575.2,435.9 L576.0,435.1 L576.9,434.4 L577.7,433.7 L578.6,433.2 L579.4,432.8 L580.2,432.8 L581.1,433.2 L581.9,433.9 L582.8,434.4 L583.6,435.6 L584.4,436.2 L585.3,436.4 L586.1,438.5 L587.0,439.7 L587.8,439.2 M591.2,438.8 L592.0,439.0 L592.8,440.4 L593.7,441.0 L594.5,440.6 L595.4,438.9 L596.2,439.6 L597.0,439.0 L597.9,439.5 L598.7,438.7 L599.6,438.0 L600.4,437.1 L601.2,436.1 L602.1,436.7 L602.9,435.5 L603.8,435.4 L604.6,434.3 L605.4,435.4 L606.3,434.4 L607.1,433.2 L608.0,432.6 L608.8,431.8 L609.6,431.5 L610.5,430.7 L611.3,431.9 L612.2,432.6 L613.0,432.9 L613.8,434.7 L614.7,434.9 L615.5,435.4 L616.4,433.9 L617.2,434.6 L618.0,432.9 L618.9,432.3 L619.7,431.3 L620.6,430.0 L621.4,430.2 L622.2,431.5 L623.1,432.1 L623.9,431.4 L624.8,432.3 L625.6,434.5 L626.4,432.0 L627.3,432.0 L628.1,434.0 L629.0,435.0 L629.8,435.3 L630.6,435.7 L631.5,435.7 L632.3,435.0 L633.2,433.9 L634.0,433.8 L634.8,434.1 L635.7,433.6 L636.5,430.2 L637.4,429.6 L638.2,428.9 L639.0,426.6 L639.9,427.0 L640.7,426.3 L641.6,426.8 L642.4,426.3 L643.2,426.6 L644.1,428.8 L644.9,428.2 L645.8,429.4 L646.6,430.9 L647.4,430.9 L648.3,431.7 L649.1,433.1 L650.0,432.5 L650.8,433.2 L651.6,430.4 L652.5,429.4 L653.3,428.1 L654.2,427.4 L655.0,424.8 L655.8,423.7 L656.7,423.9 L657.5,422.7 L658.4,421.6 L659.2,420.5" fill="none" stroke="rgba(191,0,191,0.7)" stroke-width="1.4" stroke-linejoin="round" clip-path="url(#cc)"/>
<path d="M46.0,461.9 L46.8,453.3 L47.7,443.7 L48.5,434.1 L49.4,426.8 L50.2,422.5 L51.0,416.8 L51.9,413.6 L52.7,411.1 L53.6,408.6 L54.4,406.8 L55.2,407.2 L56.1,405.5 L56.9,408.3 L57.8,414.3 L58.6,427.9 L59.4,441.3 L60.3,457.2 L61.1,475.5 L62.0,468.0 L62.8,468.6 L63.6,475.0 L64.5,469.2 L65.3,456.0 L66.2,438.8 L67.0,428.0 L67.8,423.9 L68.7,425.7 L69.5,427.0 L70.4,428.7 L71.2,431.8 L72.0,433.0 L72.9,437.6 L73.7,444.3 L74.6,456.6 L75.4,467.6 L76.2,477.4 L77.1,483.2 L77.9,465.7 L78.8,446.5 L79.6,429.7 L80.4,418.8 L81.3,411.2 L82.1,406.3 L83.0,401.5 L83.8,402.2 L84.6,406.7 L85.5,419.8 L86.3,418.2 L87.2,407.8 L88.0,407.6 L88.8,409.4 L89.7,414.6 L90.5,428.7 L91.4,437.2 L92.2,439.7 L93.0,430.4 L93.9,425.1 L94.7,424.2 L95.6,429.5 L96.4,433.9 L97.2,434.5 L98.1,431.1 L98.9,424.7 L99.8,424.1 L100.6,438.7 L101.4,451.8 L102.3,458.7 L103.1,460.4 L104.0,458.1 L104.8,454.1 L105.6,448.4 L106.5,452.1 L107.3,459.3 L108.2,462.5 L109.0,466.4 L109.8,464.2 L110.7,456.6 L111.5,448.5 L112.4,438.0 L113.2,428.0 L114.0,421.5 L114.9,415.3 L115.7,409.5 L116.6,403.0 L117.4,398.1 L118.2,395.6 L119.1,394.7 L119.9,399.9 L120.8,407.5 L121.6,420.9 L122.4,433.4 L123.3,445.1 L124.1,459.5 L125.0,468.7 L125.8,470.3 L126.6,465.9 L127.5,457.5 L128.3,449.0 L129.2,440.8 L130.0,432.4 L130.8,424.1 L131.7,415.6 L132.5,411.8 L133.4,411.0 L134.2,409.9 L135.0,412.3 L135.9,417.6 L136.7,426.9 L137.6,431.5 L138.4,437.2 L139.2,441.6 L140.1,447.0 L140.9,451.3 L141.8,457.3 L142.6,460.7 L143.4,466.0 L144.3,467.1 L145.1,464.0 L146.0,461.0 L146.8,453.9 L147.6,446.3 L148.5,440.9 L149.3,436.3 L150.2,433.9 L151.0,430.7 L151.8,428.2 L152.7,424.4 L153.5,421.6 L154.4,426.9 L155.2,432.8 L156.0,440.0 L156.9,448.8 L157.7,455.6 L158.6,460.1 L159.4,457.4 L160.2,453.0 L161.1,447.5 L161.9,442.8 L162.8,438.7 L163.6,435.1 L164.4,431.2 L165.3,429.3 L166.1,427.4 L167.0,424.4 L167.8,420.1 L168.6,415.9 L169.5,419.6 L170.3,428.4 L171.2,439.0 L172.0,450.9 L172.8,462.6 L173.7,473.6 L174.5,482.4 L175.4,476.5 L176.2,466.6 L177.0,454.9 L177.9,445.1 L178.7,436.9 L179.6,428.8 L180.4,422.0 L181.2,417.2 L182.1,415.9 L182.9,419.0 L183.8,426.9 L184.6,438.7 L185.4,457.4 L186.3,475.4 L187.1,492.8 L188.0,490.2 L188.8,493.1 L189.6,490.9 L190.5,479.5 L191.3,464.9 L192.2,449.6 L193.0,431.5 L193.8,425.7 L194.7,423.8 L195.5,427.4 L196.4,422.9 L197.2,418.4 L198.0,417.8 L198.9,418.6 L199.7,422.3 L200.6,426.9 L201.4,433.4 L202.2,435.0 L203.1,433.1 L203.9,429.8 L204.8,427.2 L205.6,423.3 L206.4,420.1 L207.3,419.5 L208.1,421.3 L209.0,425.9 L209.8,432.8 L210.6,440.8 L211.5,447.9 L212.3,451.0 L213.2,452.9 L214.0,449.2 L214.8,443.7 L215.7,437.8 L216.5,430.7 L217.4,424.3 L218.2,418.7 L219.0,413.6 L219.9,411.9 L220.7,410.6 L221.6,409.0 L222.4,416.1 L223.2,426.5 L224.1,439.2 L224.9,452.7 L225.8,465.5 L226.6,476.0 L227.4,471.2 L228.3,465.6 L229.1,460.5 L230.0,454.5 L230.8,451.4 L231.6,447.6 L232.5,442.2 L233.3,441.0 L234.2,443.7 L235.0,451.6 L235.8,452.2 L236.7,450.6 L237.5,451.3 L238.4,452.0 L239.2,451.6 L240.0,451.2 L240.9,454.3 L241.7,454.3 L242.6,452.6 L243.4,450.8 L244.2,448.2 L245.1,443.9 L245.9,443.0 L246.8,445.1 L247.6,448.4 L248.4,454.4 L249.3,459.1 L250.1,462.7 L251.0,466.1 L251.8,470.0 L252.6,473.6 L253.5,477.6 L254.3,480.0 L255.2,482.4 L256.0,484.9 L256.8,489.2 L257.7,490.5 L258.5,487.3 L259.4,477.8 L260.2,466.8 L261.0,457.2 L261.9,449.9 L262.7,445.9 L263.6,440.2 L264.4,432.8 L265.2,434.6 L266.1,440.9 L266.9,444.0 L267.8,443.7 L268.6,442.3 L269.4,440.9 L270.3,439.7 L271.1,439.9 L272.0,439.5 L272.8,438.8 L273.6,439.1 L274.5,441.8 L275.3,449.3 L276.2,456.7 L277.0,464.3 L277.8,469.7 L278.7,471.8 L279.5,468.7 L280.4,463.9 L281.2,463.8 L282.0,465.6 L282.9,466.4 L283.7,464.9 L284.6,461.5 L285.4,458.0 L286.2,452.8 L287.1,447.9 L287.9,444.6 L288.8,447.0 L289.6,450.9 L290.4,460.3 L291.3,467.9 L292.1,473.9 L293.0,483.3 L293.8,489.5 L294.6,495.6 L295.5,498.9 L296.3,500.4 L297.2,500.7 L298.0,500.3 L298.8,500.4 L299.7,497.2 L300.5,487.6 L301.4,477.8 L302.2,469.3 L303.0,460.3 L303.9,455.9 L304.7,452.6 L305.6,448.7 L306.4,448.5 L307.2,447.4 L308.1,445.1 L308.9,451.7 L309.8,456.6 L310.6,461.5 L311.4,464.3 L312.3,466.9 L313.1,466.6 L314.0,461.2 L314.8,455.8 L315.6,450.8 L316.5,442.0 L317.3,438.7 L318.2,435.5 L319.0,431.9 L319.8,435.6 L320.7,438.3 L321.5,442.1 L322.4,445.6 L323.2,449.1 L324.0,452.4 L324.9,454.5 L325.7,458.3 L326.6,460.7 L327.4,462.2 L328.2,461.2 L329.1,460.3 L329.9,456.2 L330.8,453.6 L331.6,450.3 L332.4,451.5 L333.3,452.5 L334.1,448.6 L335.0,441.1 L335.8,435.6 L336.6,432.2 L337.5,428.3 L338.3,430.9 L339.2,428.9 L340.0,427.9 L340.8,426.9 L341.7,424.0 L342.5,420.5 L343.4,415.2 L344.2,412.7 L345.0,409.5 L345.9,408.2 L346.7,404.6 L347.6,404.3 L348.4,410.3 L349.2,414.3 L350.1,419.5 L350.9,423.3 L351.8,421.3 L352.6,420.0 L353.4,417.5 L354.3,419.4 L355.1,422.7 L356.0,425.1 L356.8,424.7 L357.6,420.0 L358.5,415.9 L359.3,414.0 L360.2,409.3 L361.0,403.0 L361.8,401.6 L362.7,410.2 L363.5,423.6 L364.4,428.7 L365.2,432.3 L366.0,435.7 L366.9,434.5 L367.7,433.5 L368.6,431.9 L369.4,429.2 L370.2,431.4 L371.1,435.0 L371.9,442.2 L372.8,444.1 L373.6,444.6 L374.4,443.2 L375.3,439.3 L376.1,439.5 L377.0,440.9 L377.8,445.4 L378.6,446.5 L379.5,440.5 L380.3,436.6 L381.2,434.2 L382.0,432.7 L382.8,436.4 L383.7,440.6 L384.5,442.8 L385.4,444.0 L386.2,443.7 L387.0,440.2 L387.9,435.3 L388.7,435.8 L389.6,438.5 L390.4,440.8 L391.2,442.3 L392.1,445.6 L392.9,448.9 L393.8,452.4 L394.6,454.0 L395.4,449.0 L396.3,443.6 L397.1,445.0 L398.0,454.2 L398.8,456.0 L399.6,457.4 L400.5,459.6 L401.3,463.6 L402.2,463.7 L403.0,458.3 L403.8,462.0 L404.7,467.1 L405.5,470.5 L406.4,468.8 L407.2,470.4 L408.0,476.1 L408.9,479.5 L409.7,478.5 L410.6,472.4 L411.4,466.2 L412.2,462.3 L413.1,457.3 L413.9,453.0 L414.8,442.0 L415.6,436.2 L416.4,439.6 L417.3,452.1 L418.1,460.9 L419.0,466.5 L419.8,472.0 L420.6,474.9 L421.5,472.9 L422.3,477.6 L423.2,483.9 L424.0,491.2 L424.8,486.4 L425.7,478.6 L426.5,470.1 L427.4,461.1 L428.2,451.8 L429.0,443.1 L429.9,437.9 L430.7,435.7 L431.6,434.0 L432.4,433.8 L433.2,437.7 L434.1,443.2 L434.9,448.6 L435.8,453.1 L436.6,458.2 L437.4,465.8 L438.3,471.2 L439.1,470.4 L440.0,465.6 L440.8,452.6 L441.6,443.8 L442.5,436.4 L443.3,433.4 L444.2,431.9 L445.0,430.4 L445.8,429.7 L446.7,429.6 L447.5,432.6 L448.4,439.1 L449.2,448.1 L450.0,455.5 L450.9,461.9 L451.7,465.5 L452.6,467.0 L453.4,465.8 L454.2,460.8 L455.1,453.0 L455.9,446.1 L456.8,442.0 L457.6,438.6 L458.4,436.4 L459.3,438.7 L460.1,438.7 L461.0,436.3 L461.8,437.1 L462.6,438.9 L463.5,440.5 L464.3,440.1 L465.2,441.9 L466.0,444.5 L466.8,446.0 L467.7,444.7 L468.5,442.9 L469.4,441.9 L470.2,441.9 L471.0,441.5 L471.9,433.8 L472.7,429.0 L473.6,427.2 L474.4,430.2 L475.2,433.0 L476.1,431.6 L476.9,429.9 L477.8,434.0 L478.6,436.8 L479.4,438.1 L480.3,435.5 L481.1,434.1 L482.0,430.9 L482.8,429.4 L483.6,427.4 L484.5,425.9 L485.3,429.2 L486.2,429.4 L487.0,428.4 L487.8,425.7 L488.7,424.6 L489.5,422.4 L490.4,425.2 L491.2,428.3 L492.0,431.5 L492.9,436.8 L493.7,442.0 L494.6,448.0 L495.4,449.5 L496.2,447.6 L497.1,444.2 L497.9,438.1 L498.8,442.7 L499.6,446.7 L500.4,451.0 L501.3,449.6 L502.1,446.1 L503.0,439.7 L503.8,435.9 L504.6,431.2 L505.5,429.0 L506.3,430.0 L507.2,430.2 L508.0,432.3 L508.8,436.9 L509.7,443.1 L510.5,448.7 L511.4,438.0 L512.2,435.3 L513.0,436.9 L513.9,446.8 L514.7,458.8 L515.6,467.3 L516.4,466.4 L517.2,460.0 L518.1,453.6 L518.9,447.5 L519.8,426.1 L520.6,411.8 L521.4,411.4 L522.3,412.3 L523.1,411.5 L524.0,411.4 L524.8,413.8 L525.6,413.9 L526.5,416.8 L527.3,420.5 L528.2,429.4 L529.0,440.3 L529.8,448.9 L530.7,456.9 L531.5,461.5 L532.4,464.9 L533.2,466.8 L534.0,464.6 L534.9,461.0 L535.7,451.9 L536.6,442.5 L537.4,433.3 L538.2,426.6 L539.1,428.8 L539.9,432.9 L540.8,442.9 L541.6,448.2 L542.4,452.4 L543.3,462.7 L544.1,471.9 L545.0,480.8 L545.8,487.0 L546.6,491.8 L547.5,495.8 L548.3,495.7 L549.2,490.3 L550.0,481.5 L550.8,471.2 L551.7,461.1 L552.5,453.2 L553.4,445.8 L554.2,440.4 L555.0,437.4 L555.9,435.4 L556.7,434.8 L557.6,436.8 L558.4,438.1 L559.2,439.8 L560.1,442.4 L560.9,443.0 L561.8,446.3 L562.6,450.2 L563.4,451.8 L564.3,447.4 L565.1,443.0 L566.0,438.2 L566.8,434.7 L567.6,435.8 L568.5,435.6 L569.3,437.0 L570.2,435.7 L571.0,433.7 L571.8,433.3 L572.7,432.2 L573.5,432.7 L574.4,434.0 L575.2,435.7 L576.0,437.6 L576.9,439.0 L577.7,440.1 L578.6,441.1 L579.4,443.2 L580.2,446.1 L581.1,447.7 L581.9,450.5 L582.8,450.1 L583.6,449.7 L584.4,456.6 L585.3,458.3 L586.1,455.6 L587.0,452.4 L587.8,453.2 L588.6,460.8 L589.5,463.6 L590.3,463.0 L591.2,458.6 L592.0,450.9 L592.8,446.8 L593.7,444.7 L594.5,441.3 L595.4,438.6 L596.2,435.7 L597.0,436.8 L597.9,435.3 L598.7,434.6 L599.6,437.7 L600.4,440.2 L601.2,443.7 L602.1,450.2 L602.9,447.5 L603.8,443.9 L604.6,442.0 L605.4,437.7 L606.3,435.7 L607.1,434.4 L608.0,436.1 L608.8,440.0 L609.6,442.6 L610.5,444.5 L611.3,446.7 L612.2,450.3 L613.0,445.7 L613.8,446.3 L614.7,449.4 L615.5,453.4 L616.4,458.9 L617.2,462.6 L618.0,465.0 L618.9,461.6 L619.7,456.4 L620.6,450.5 L621.4,452.2 L622.2,456.0 L623.1,457.9 L623.9,458.0 L624.8,456.8 L625.6,455.7 L626.4,451.3 L627.3,444.8 L628.1,434.7 L629.0,429.0 L629.8,423.8 L630.6,417.7 L631.5,417.5 L632.3,418.4 L633.2,421.6 L634.0,427.2 L634.8,431.9 L635.7,433.0 L636.5,433.1 L637.4,435.3 L638.2,435.7 L639.0,439.6 L639.9,444.3 L640.7,447.2 L641.6,446.0 L642.4,442.6 L643.2,440.4 L644.1,438.1 L644.9,435.9 L645.8,434.3 L646.6,433.4 L647.4,432.1 L648.3,432.9 L649.1,436.1 L650.0,438.4 L650.8,439.6 L651.6,436.3 L652.5,435.8 L653.3,432.2 L654.2,429.7 L655.0,429.6 L655.8,428.1 L656.7,425.2 L657.5,425.2 L658.4,426.2 L659.2,426.0" fill="none" stroke="rgba(0,191,191,0.7)" stroke-width="1.4" stroke-linejoin="round" clip-path="url(#cc)"/>
<path d="M46.2,422.6 L47.1,428.1 L47.9,437.5 L48.8,436.0 L49.6,434.5 L50.4,434.6 L51.3,436.5 L52.1,435.0 L53.0,434.1 L53.8,435.3 L54.6,435.5 L55.5,433.6 L56.3,433.7 L57.2,433.9 L58.0,431.8 L58.8,432.3 L59.7,429.5 L60.5,428.6 L61.4,427.6 L62.2,428.5 L63.0,430.7 L63.9,433.9 L64.7,440.4 L65.6,442.2 L66.4,445.8 L67.2,447.7 L68.1,449.3 L68.9,450.9 L69.8,452.6 L70.6,451.9 L71.4,449.3 L72.3,443.4 L73.1,441.6 L74.0,438.5 L74.8,436.1 L75.6,433.1 L76.5,431.6 L77.3,428.2 L78.2,427.2 L79.0,428.1 L79.8,428.0 L80.7,429.4 L81.5,429.0 L82.4,429.0 L83.2,431.4 L84.0,431.2 L84.9,431.6 L85.7,433.3 L86.6,433.1 L87.4,435.4 L88.2,435.8 L89.1,437.1 L89.9,440.0 L90.8,442.3 L91.6,444.0 L92.4,443.2 L93.3,441.1 L94.1,439.8 L95.0,439.1 L95.8,438.7 L96.6,435.9 L97.5,436.1 L98.3,436.7 L99.2,435.8 L100.0,435.8 L100.8,435.7 L101.7,434.4 L102.5,436.0 L103.4,437.3 L104.2,439.9 L105.0,441.2 L105.9,442.3 L106.7,445.1 L107.6,445.3 L108.4,446.4 L109.2,447.3 L110.1,448.8 L110.9,449.5 L111.8,449.3 L112.6,449.2 L113.4,445.4 L114.3,441.5 L115.1,439.2 L116.0,437.8 L116.8,436.1 L117.6,437.0 L118.5,438.2 L119.3,438.3 L120.2,439.5 L121.0,440.4 L121.8,440.9 L122.7,439.8 L123.5,438.9 L124.4,438.0 L125.2,437.1 L126.0,436.4 L126.9,435.6 L127.7,435.5 L128.6,434.5 L129.4,434.7 L130.2,432.8 L131.1,432.3 L131.9,431.8 L132.8,432.4 L133.6,435.1 L134.4,435.8 L135.3,437.1 L136.1,438.8 L137.0,440.1 L137.8,443.0 L138.6,442.9 L139.5,445.5 L140.3,447.1 L141.2,447.8 L142.0,449.8 L142.8,450.2 L143.7,452.6 L144.5,452.8 L145.4,451.6 L146.2,451.5 L147.0,449.3 L147.9,448.2 L148.7,448.1 L149.6,445.9 L150.4,445.6 L151.2,445.5 L152.1,443.9 L152.9,443.4 L153.8,443.1 L154.6,443.6 L155.4,442.1 L156.3,442.6 L157.1,442.2 L158.0,443.4 L158.8,444.0 L159.6,444.0 L160.5,443.4 L161.3,443.6 L162.2,443.0 L163.0,441.9 L163.8,440.8 L164.7,441.1 L165.5,440.3 L166.4,439.6 L167.2,439.2 L168.0,439.1 L168.9,439.1 L169.7,438.7 L170.6,439.8 L171.4,438.7 L172.2,439.2 L173.1,439.0 L173.9,438.4 L174.8,438.1 L175.6,438.3 L176.4,439.2 L177.3,437.4 L178.1,439.5 L179.0,438.8 L179.8,439.8 L180.6,439.4 L181.5,438.5 L182.3,438.5 L183.2,438.5 L184.0,439.5 L184.8,438.9 L185.7,438.9 L186.5,439.8 L187.4,439.1 L188.2,438.8 L189.0,439.4 L189.9,439.2 L190.7,440.0 L191.6,439.8 L192.4,438.7 L193.2,438.4 L194.1,439.4 L194.9,439.2 L195.8,438.7 L196.6,438.8 L197.4,437.2 L198.3,436.1 L199.1,435.2 L200.0,433.0 L200.8,432.0 L201.6,430.6 L202.5,430.9 L203.3,429.7 L204.2,429.6 L205.0,431.1 L205.8,431.8 L206.7,433.9 L207.5,434.9 L208.4,437.9 L209.2,439.1 L210.0,440.3 L210.9,441.6 L211.7,441.8 L212.6,443.9 L213.4,443.9 L214.2,444.0 L215.1,444.4 L215.9,443.0 L216.8,443.0 L217.6,443.6 L218.4,444.2 L219.3,444.4 L220.1,444.1 L221.0,444.1 L221.8,442.7 L222.6,442.1 L223.5,442.6 L224.3,443.2 L225.2,444.6 L226.0,444.9 L226.8,445.8 L227.7,447.6 L228.5,450.4 L229.4,451.4 L230.2,451.4 L231.0,450.9 L231.9,450.1 L232.7,449.3 L233.6,450.0 L234.4,449.2 L235.2,450.0 L236.1,450.2 L236.9,452.2 L237.8,453.6 L238.6,454.3 L239.4,455.0 L240.3,455.4 L241.1,456.2 L242.0,455.2 L242.8,453.9 L243.6,453.0 L244.5,452.1 L245.3,454.5 L246.2,453.9 L247.0,454.2 L247.8,453.8 L248.7,453.2 L249.5,452.1 L250.4,452.7 L251.2,452.7 L252.0,453.5 L252.9,453.0 L253.7,452.4 L254.6,452.4 L255.4,452.1 L256.2,451.1 L257.1,452.6 L257.9,453.6 L258.8,454.7 L259.6,455.7 L260.4,455.7 L261.3,456.3 L262.1,456.4 L263.0,455.9 L263.8,454.7 L264.6,456.3 L265.5,454.9 L266.3,453.1 L267.2,453.2 L268.0,454.8 L268.8,455.9 L269.7,455.9 L270.5,457.5 L271.4,457.2 L272.2,457.7 L273.0,457.0 L273.9,457.3 L274.7,456.3 L275.6,456.2 L276.4,456.0 L277.2,454.8 L278.1,455.7 L278.9,457.0 L279.8,458.1 L280.6,459.7 L281.4,460.8 L282.3,461.5 L283.1,461.5 L284.0,463.9 L284.8,464.6 L285.6,465.7 L286.5,466.2 L287.3,466.7 L288.2,467.0 L289.0,466.7 L289.8,467.8 L290.7,466.7 L291.5,466.4 L292.4,465.6 L293.2,464.5 L294.0,463.5 L294.9,462.1 L295.7,461.5 L296.6,460.1 L297.4,460.8 L298.2,460.8 L299.1,457.9 L299.9,458.5 L300.8,459.0 L301.6,461.5 L302.4,463.3 L303.3,460.8 L304.1,460.8 L305.0,459.6 L305.8,458.7 L306.6,457.8 L307.5,457.1 L308.3,455.7 L309.2,456.8 L310.0,457.4 L310.8,457.0 L311.7,459.3 L312.5,458.1 L313.4,458.4 L314.2,457.3 L315.0,457.0 L315.9,456.0 L316.7,455.1 L317.6,453.3 L318.4,452.0 L319.2,450.1 L320.1,450.3 L320.9,447.4 L321.8,446.8 L322.6,443.9 L323.4,444.7 L324.3,447.2 L325.1,450.6 L326.0,451.1 L326.8,453.2 L327.6,454.7 L328.5,457.0 L329.3,457.6 L330.2,460.0 L331.0,461.2 L331.8,460.1 L332.7,455.7 L333.5,450.5 L334.4,447.4 L335.2,441.9 L336.0,440.3 L336.9,440.3 L337.7,438.6 L338.6,437.7 L339.4,437.2 L340.2,436.5 L341.1,435.5 L341.9,434.3 L342.8,435.4 L343.6,440.3 L344.4,437.9 L345.3,435.6 L346.1,436.8 L347.0,435.6 L347.8,434.0 L348.6,434.5 L349.5,435.6 L350.3,435.7 L351.2,434.6 L352.0,433.3 L352.8,434.1 L353.7,435.1 L354.5,436.5 L355.4,438.5 L356.2,438.2 L357.0,441.0 L357.9,441.9 L358.7,441.8 L359.6,442.5 L360.4,440.7 L361.2,439.9 L362.1,439.8 L362.9,438.3 L363.8,436.1 L364.6,434.4 L365.4,433.7 L366.3,431.2 L367.1,430.6 L368.0,429.1 L368.8,429.8 L369.6,431.7 L370.5,435.6 L371.3,438.9 L372.2,443.3 L373.0,445.2 L373.8,448.4 L374.7,451.2 L375.5,451.5 L376.4,452.7 L377.2,456.1 L378.0,454.9 L378.9,454.8 L379.7,453.8 L380.6,454.1 L381.4,452.9 L382.2,451.9 L383.1,450.4 L383.9,450.6 L384.8,447.6 L385.6,444.4 L386.4,443.0 L387.3,438.9 L388.1,435.8 L389.0,431.4 L389.8,430.5 L390.6,431.8 L391.5,435.5 L392.3,440.6 L393.2,446.5 L394.0,450.2 L394.8,452.5 L395.7,453.2 L396.5,453.4 L397.4,452.3 L398.2,451.3 L399.0,450.8 L399.9,451.5 L400.7,452.2 L401.6,451.2 L402.4,451.4 L403.2,449.3 L404.1,448.3 L404.9,447.5 L405.8,446.4 L406.6,444.1 L407.4,443.8 L408.3,443.4 L409.1,443.6 L410.0,441.2 L410.8,440.9 L411.6,441.2 L412.5,442.3 L413.3,443.2 L414.2,444.8 L415.0,446.0 L415.8,445.1 L416.7,446.2 L417.5,447.2 L418.4,447.4 L419.2,447.2 L420.0,448.6 L420.9,449.9 L421.7,449.7 L422.6,449.9 L423.4,449.3 L424.2,450.8 L425.1,449.2 L425.9,449.2 L426.8,447.6 L427.6,446.5 L428.4,445.5 L429.3,444.0 L430.1,441.3 L431.0,440.4 L431.8,439.4 L432.6,438.6 L433.5,440.3 L434.3,439.6 L435.2,439.6 L436.0,440.2 L436.8,440.5 L437.7,441.9 L438.5,443.5 L439.4,443.8 L440.2,443.6 L441.0,443.8 L441.9,444.2 L442.7,444.6 L443.6,444.4 L444.4,445.5 L445.2,445.9 L446.1,445.8 L446.9,446.8 L447.8,446.3 L448.6,447.7 L449.4,447.6 L450.3,447.7 L451.1,446.4 L452.0,447.0 L452.8,445.4 L453.6,444.2 L454.5,442.5 L455.3,442.5 L456.2,441.4 L457.0,441.1 L457.8,440.8 L458.7,442.4 L459.5,443.8 L460.4,443.7 L461.2,443.8 L462.0,444.0 L462.9,443.6 L463.7,443.2 L464.6,442.8 L465.4,442.5 L466.2,442.5 L467.1,441.7 L467.9,440.6 L468.8,441.0 L469.6,441.3 L470.4,439.7 L471.3,439.8 L472.1,439.0 L473.0,437.6 L473.8,437.7 L474.6,436.0 L475.5,434.5 L476.3,435.0 L477.2,434.7 L478.0,435.3 L478.8,435.3 L479.7,436.2 L480.5,435.9 L481.4,435.5 L482.2,435.8 L483.0,437.0 L483.9,436.2 L484.7,437.3 L485.6,436.9 L486.4,438.0 L487.2,438.1 L488.1,438.5 L488.9,436.6 L489.8,437.1 L490.6,437.0 L491.4,438.0 L492.3,438.0 L493.1,437.7 L494.0,436.7 L494.8,436.4 L495.6,435.2 L496.5,436.7 L497.3,434.9 L498.2,435.0 L499.0,434.6 L499.8,433.8 L500.7,435.1 L501.5,435.9 L502.4,436.2 L503.2,435.0 L504.0,435.5 L504.9,435.5 L505.7,437.0 L506.6,436.2 L507.4,436.1 L508.2,436.1 L509.1,435.7 L509.9,436.5 L510.8,435.9 L511.6,437.5 L512.4,437.4 L513.3,437.1 L514.1,437.8 L515.0,438.1 L515.8,436.4 L516.6,436.8 L517.5,436.7 L518.3,436.7 L519.2,435.2 L520.0,435.9 L520.8,435.3 L521.7,436.8 L522.5,437.0 L523.4,437.8 L524.2,437.0 L525.0,438.2 L525.9,437.4 L526.7,435.3 L527.6,436.1 L528.4,438.3 L529.2,441.8 L530.1,444.9 L530.9,445.5 L531.8,446.4 L532.6,448.1 L533.4,449.5 L534.3,450.4 L535.1,451.1 L536.0,450.9 L536.8,451.1 L537.6,450.1 L538.5,450.9 L539.3,448.8 L540.2,447.9 L541.0,447.9 L541.8,449.6 L542.7,447.5 L543.5,448.4 L544.4,448.3 L545.2,448.4 L546.0,449.3 L546.9,449.7 L547.7,451.0 L548.6,450.9 L549.4,451.2 L550.2,451.7 L551.1,452.4 L551.9,453.5 L552.8,452.9 L553.6,452.8 L554.4,453.4 L555.3,453.6 L556.1,453.4 L557.0,454.6 L557.8,453.4 L558.6,454.4 L559.5,456.0 L560.3,455.8 L561.2,456.5 L562.0,456.3 L562.8,456.3 L563.7,456.5 L564.5,457.8 L565.4,456.7 L566.2,457.4 L567.0,457.2 L567.9,457.3 L568.7,457.8 L569.6,458.2 L570.4,457.3 L571.2,455.9 L572.1,454.7 L572.9,453.8 L573.8,453.5 L574.6,452.8 L575.4,453.0 L576.3,452.3 L577.1,451.0 L578.0,452.7 L578.8,453.4 L579.6,453.6 L580.5,453.0 L581.3,452.6 L582.2,455.3 L583.0,456.0 L583.8,457.1 L584.7,456.7 L585.5,458.8 L586.4,459.6 L587.2,459.8 L588.0,460.3 L588.9,461.3 L589.7,462.2 L590.6,460.5 L591.4,460.7 L592.2,462.8 L593.1,462.8 L593.9,462.1 L594.8,461.5 L595.6,460.7 L596.4,460.0 L597.3,459.5 L598.1,459.8 L599.0,458.7 L599.8,458.4 L600.6,456.1 L601.5,457.3 L602.3,457.1 L603.2,455.6 L604.0,454.9 L604.8,454.7 L605.7,453.9 L606.5,453.5 L607.4,453.6 L608.2,451.9 L609.0,450.6 L609.9,451.0 L610.7,451.7 L611.6,449.6 L612.4,450.0 L613.2,449.9 L614.1,449.0 L614.9,449.4 L615.8,448.8 L616.6,449.8 L617.4,449.8 L618.3,449.6 L619.1,448.3 L620.0,449.6 L620.8,450.6 L621.6,450.4 L622.5,451.1 L623.3,450.6 L624.2,450.6 L625.0,450.4 L625.8,448.5 L626.7,447.8 L627.5,446.5 L628.4,445.7 L629.2,447.0 L630.0,443.5 L630.9,444.0 L631.7,444.1 L632.6,443.8 L633.4,442.3 L634.2,441.1 L635.1,441.4 L635.9,440.7 L636.8,440.7 L637.6,440.9 L638.4,441.1 L639.3,443.3 L640.1,444.0 L641.0,444.0 L641.8,443.9 L642.6,443.9 L643.5,443.0 L644.3,443.2 L645.2,443.5 L646.0,444.1 L646.8,444.6 L647.7,444.6 L648.5,444.4 L649.4,445.3 L650.2,444.3 L651.0,443.6 L651.9,442.4 L652.7,441.9 L653.6,441.4 L654.4,440.5 L655.2,439.7 L656.1,437.5 L656.9,437.4 L657.8,436.9 L658.6,435.7" fill="none" stroke="rgba(191,191,0,0.7)" stroke-width="1.4" stroke-linejoin="round" clip-path="url(#cc)"/>
<rect x="45.5" y="17.5" width="614.20" height="155.90" fill="none" stroke="#7a7a7a" stroke-width="1"/>
<line x1="42.0" y1="25.5" x2="45.5" y2="25.5" stroke="#7a7a7a" stroke-width="0.9"/>
<text x="39.6" y="30.70" font-size="14.6" text-anchor="end">300</text>
<line x1="42.0" y1="57.75" x2="45.5" y2="57.75" stroke="#7a7a7a" stroke-width="0.9"/>
<text x="39.6" y="62.95" font-size="14.6" text-anchor="end">275</text>
<line x1="42.0" y1="90.0" x2="45.5" y2="90.0" stroke="#7a7a7a" stroke-width="0.9"/>
<text x="39.6" y="95.20" font-size="14.6" text-anchor="end">250</text>
<line x1="42.0" y1="122.2" x2="45.5" y2="122.2" stroke="#7a7a7a" stroke-width="0.9"/>
<text x="39.6" y="127.40" font-size="14.6" text-anchor="end">225</text>
<line x1="42.0" y1="154.45" x2="45.5" y2="154.45" stroke="#7a7a7a" stroke-width="0.9"/>
<text x="39.6" y="159.65" font-size="14.6" text-anchor="end">200</text>
<line x1="46.50" y1="173.4" x2="46.50" y2="176.9" stroke="#7a7a7a" stroke-width="0.9"/>
<text x="46.50" y="188.90" font-size="14.6" text-anchor="middle">2015-04</text>
<line x1="122.86" y1="173.4" x2="122.86" y2="176.9" stroke="#7a7a7a" stroke-width="0.9"/>
<text x="122.86" y="188.90" font-size="14.6" text-anchor="middle">2015-07</text>
<line x1="200.06" y1="173.4" x2="200.06" y2="176.9" stroke="#7a7a7a" stroke-width="0.9"/>
<text x="200.06" y="188.90" font-size="14.6" text-anchor="middle">2015-10</text>
<line x1="277.25" y1="173.4" x2="277.25" y2="176.9" stroke="#7a7a7a" stroke-width="0.9"/>
<text x="277.25" y="188.90" font-size="14.6" text-anchor="middle">2016-01</text>
<line x1="353.61" y1="173.4" x2="353.61" y2="176.9" stroke="#7a7a7a" stroke-width="0.9"/>
<text x="353.61" y="188.90" font-size="14.6" text-anchor="middle">2016-04</text>
<line x1="429.97" y1="173.4" x2="429.97" y2="176.9" stroke="#7a7a7a" stroke-width="0.9"/>
<text x="429.97" y="188.90" font-size="14.6" text-anchor="middle">2016-07</text>
<line x1="507.17" y1="173.4" x2="507.17" y2="176.9" stroke="#7a7a7a" stroke-width="0.9"/>
<text x="507.17" y="188.90" font-size="14.6" text-anchor="middle">2016-10</text>
<line x1="584.36" y1="173.4" x2="584.36" y2="176.9" stroke="#7a7a7a" stroke-width="0.9"/>
<text x="584.36" y="188.90" font-size="14.6" text-anchor="middle">2017-01</text>
<line x1="659.88" y1="173.4" x2="659.88" y2="176.9" stroke="#7a7a7a" stroke-width="0.9"/>
<text x="659.88" y="188.90" font-size="14.6" text-anchor="middle">2017-04</text>
<text x="352.60" y="13.20" font-size="17" font-weight="bold" text-anchor="middle">(a)</text>
<text x="12" y="95.45" font-size="14.6" text-anchor="middle" transform="rotate(-90 12 95.45)">TB (K)</text>
<rect x="45.5" y="204.5" width="614.20" height="155.90" fill="none" stroke="#7a7a7a" stroke-width="1"/>
<line x1="42.0" y1="220.2" x2="45.5" y2="220.2" stroke="#7a7a7a" stroke-width="0.9"/>
<text x="39.6" y="225.40" font-size="14.6" text-anchor="end">285</text>
<line x1="42.0" y1="259.1" x2="45.5" y2="259.1" stroke="#7a7a7a" stroke-width="0.9"/>
<text x="39.6" y="264.30" font-size="14.6" text-anchor="end">280</text>
<line x1="42.0" y1="297.9" x2="45.5" y2="297.9" stroke="#7a7a7a" stroke-width="0.9"/>
<text x="39.6" y="303.10" font-size="14.6" text-anchor="end">275</text>
<line x1="42.0" y1="336.8" x2="45.5" y2="336.8" stroke="#7a7a7a" stroke-width="0.9"/>
<text x="39.6" y="342.00" font-size="14.6" text-anchor="end">270</text>
<line x1="46.50" y1="360.4" x2="46.50" y2="363.9" stroke="#7a7a7a" stroke-width="0.9"/>
<text x="46.50" y="375.90" font-size="14.6" text-anchor="middle">2015-04</text>
<line x1="122.86" y1="360.4" x2="122.86" y2="363.9" stroke="#7a7a7a" stroke-width="0.9"/>
<text x="122.86" y="375.90" font-size="14.6" text-anchor="middle">2015-07</text>
<line x1="200.06" y1="360.4" x2="200.06" y2="363.9" stroke="#7a7a7a" stroke-width="0.9"/>
<text x="200.06" y="375.90" font-size="14.6" text-anchor="middle">2015-10</text>
<line x1="277.25" y1="360.4" x2="277.25" y2="363.9" stroke="#7a7a7a" stroke-width="0.9"/>
<text x="277.25" y="375.90" font-size="14.6" text-anchor="middle">2016-01</text>
<line x1="353.61" y1="360.4" x2="353.61" y2="363.9" stroke="#7a7a7a" stroke-width="0.9"/>
<text x="353.61" y="375.90" font-size="14.6" text-anchor="middle">2016-04</text>
<line x1="429.97" y1="360.4" x2="429.97" y2="363.9" stroke="#7a7a7a" stroke-width="0.9"/>
<text x="429.97" y="375.90" font-size="14.6" text-anchor="middle">2016-07</text>
<line x1="507.17" y1="360.4" x2="507.17" y2="363.9" stroke="#7a7a7a" stroke-width="0.9"/>
<text x="507.17" y="375.90" font-size="14.6" text-anchor="middle">2016-10</text>
<line x1="584.36" y1="360.4" x2="584.36" y2="363.9" stroke="#7a7a7a" stroke-width="0.9"/>
<text x="584.36" y="375.90" font-size="14.6" text-anchor="middle">2017-01</text>
<line x1="659.88" y1="360.4" x2="659.88" y2="363.9" stroke="#7a7a7a" stroke-width="0.9"/>
<text x="659.88" y="375.90" font-size="14.6" text-anchor="middle">2017-04</text>
<text x="352.60" y="200.20" font-size="17" font-weight="bold" text-anchor="middle">(b)</text>
<text x="12" y="282.45" font-size="14.6" text-anchor="middle" transform="rotate(-90 12 282.45)">TB (K)</text>
<rect x="45.5" y="391.5" width="614.20" height="155.80" fill="none" stroke="#7a7a7a" stroke-width="1"/>
<line x1="42.0" y1="411.9" x2="45.5" y2="411.9" stroke="#7a7a7a" stroke-width="0.9"/>
<text x="39.6" y="417.10" font-size="14.6" text-anchor="end">280</text>
<line x1="42.0" y1="445.7" x2="45.5" y2="445.7" stroke="#7a7a7a" stroke-width="0.9"/>
<text x="39.6" y="450.90" font-size="14.6" text-anchor="end">270</text>
<line x1="42.0" y1="479.5" x2="45.5" y2="479.5" stroke="#7a7a7a" stroke-width="0.9"/>
<text x="39.6" y="484.70" font-size="14.6" text-anchor="end">260</text>
<line x1="42.0" y1="513.3" x2="45.5" y2="513.3" stroke="#7a7a7a" stroke-width="0.9"/>
<text x="39.6" y="518.50" font-size="14.6" text-anchor="end">250</text>
<line x1="42.0" y1="547.1" x2="45.5" y2="547.1" stroke="#7a7a7a" stroke-width="0.9"/>
<text x="39.6" y="552.30" font-size="14.6" text-anchor="end">240</text>
<line x1="46.50" y1="547.3" x2="46.50" y2="550.8" stroke="#7a7a7a" stroke-width="0.9"/>
<text x="46.50" y="562.80" font-size="14.6" text-anchor="middle">2015-04</text>
<line x1="122.86" y1="547.3" x2="122.86" y2="550.8" stroke="#7a7a7a" stroke-width="0.9"/>
<text x="122.86" y="562.80" font-size="14.6" text-anchor="middle">2015-07</text>
<line x1="200.06" y1="547.3" x2="200.06" y2="550.8" stroke="#7a7a7a" stroke-width="0.9"/>
<text x="200.06" y="562.80" font-size="14.6" text-anchor="middle">2015-10</text>
<line x1="277.25" y1="547.3" x2="277.25" y2="550.8" stroke="#7a7a7a" stroke-width="0.9"/>
<text x="277.25" y="562.80" font-size="14.6" text-anchor="middle">2016-01</text>
<line x1="353.61" y1="547.3" x2="353.61" y2="550.8" stroke="#7a7a7a" stroke-width="0.9"/>
<text x="353.61" y="562.80" font-size="14.6" text-anchor="middle">2016-04</text>
<line x1="429.97" y1="547.3" x2="429.97" y2="550.8" stroke="#7a7a7a" stroke-width="0.9"/>
<text x="429.97" y="562.80" font-size="14.6" text-anchor="middle">2016-07</text>
<line x1="507.17" y1="547.3" x2="507.17" y2="550.8" stroke="#7a7a7a" stroke-width="0.9"/>
<text x="507.17" y="562.80" font-size="14.6" text-anchor="middle">2016-10</text>
<line x1="584.36" y1="547.3" x2="584.36" y2="550.8" stroke="#7a7a7a" stroke-width="0.9"/>
<text x="584.36" y="562.80" font-size="14.6" text-anchor="middle">2017-01</text>
<line x1="659.88" y1="547.3" x2="659.88" y2="550.8" stroke="#7a7a7a" stroke-width="0.9"/>
<text x="659.88" y="562.80" font-size="14.6" text-anchor="middle">2017-04</text>
<text x="352.60" y="387.20" font-size="17" font-weight="bold" text-anchor="middle">(c)</text>
<text x="12" y="469.40" font-size="14.6" text-anchor="middle" transform="rotate(-90 12 469.40)">TB (K)</text>
<text x="352.4" y="579.2" font-size="14.6" text-anchor="middle">Date</text>
<rect x="22.8" y="583.3" width="639.3" height="45.5" rx="2.5" fill="#fff" fill-opacity="0.8" stroke="#dedede" stroke-width="1"/>
<line x1="28" y1="594" x2="58.7" y2="594" stroke="#ff5a5a" stroke-width="1.5"/>
<text x="70.4" y="599.00" font-size="14.6">Refined SMOS Tb<tspan font-family="Liberation Sans" font-style="italic" font-size="10.5" dy="3">h</tspan></text>
<line x1="28" y1="615.2" x2="58.7" y2="615.2" stroke="#4caf50" stroke-width="1.5"/>
<text x="70.4" y="620.20" font-size="14.6">CATDS Tb<tspan font-family="Liberation Sans" font-style="italic" font-size="10.5" dy="3">h</tspan></text>
<line x1="214.9" y1="594" x2="245.2" y2="594" stroke="#5555ee" stroke-width="1.5"/>
<text x="257.5" y="599.00" font-size="14.6">SMAP Tb<tspan font-family="Liberation Sans" font-style="italic" font-size="10.5" dy="3">h</tspan></text>
<line x1="214.9" y1="615.2" x2="245.2" y2="615.2" stroke="#e040e0" stroke-width="1.5"/>
<text x="257.5" y="620.20" font-size="14.6">Refined SMOS Tb<tspan font-family="Liberation Sans" font-style="italic" font-size="10.5" dy="3">v</tspan></text>
<line x1="402.9" y1="594" x2="433.1" y2="594" stroke="#40d0d0" stroke-width="1.5"/>
<text x="444.7" y="599.00" font-size="14.6">CATDS Tb<tspan font-family="Liberation Sans" font-style="italic" font-size="10.5" dy="3">v</tspan></text>
<line x1="548" y1="594" x2="578.2" y2="594" stroke="#cccc44" stroke-width="1.5"/>
<text x="589.8" y="599.00" font-size="14.6">SMAP Tb<tspan font-family="Liberation Sans" font-style="italic" font-size="10.5" dy="3">v</tspan></text>
</svg></body></html>
